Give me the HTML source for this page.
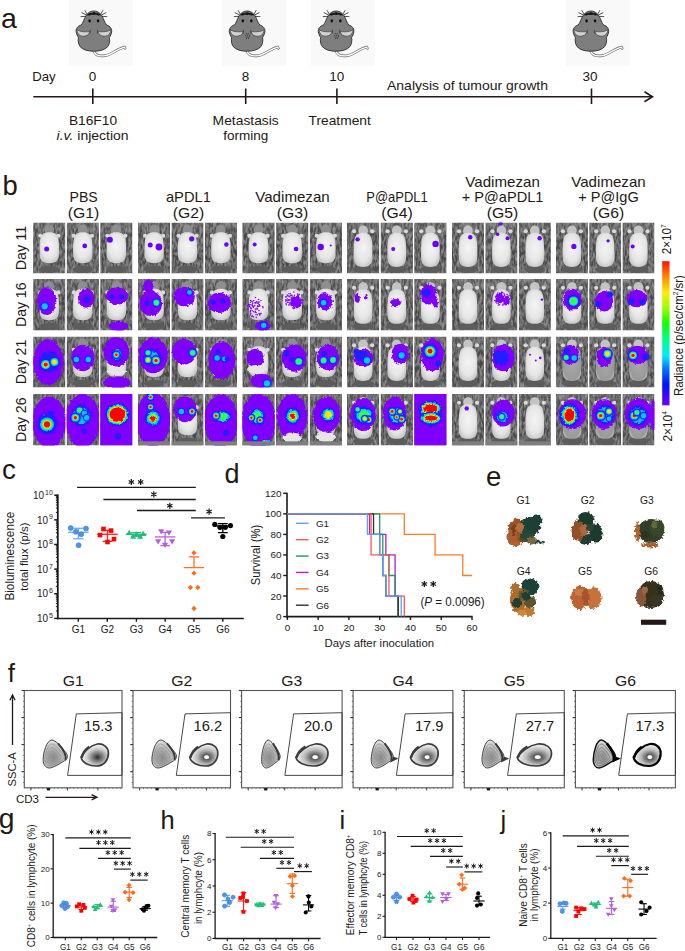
<!DOCTYPE html>
<html><head><meta charset="utf-8"><style>
html,body{margin:0;padding:0;background:#fff;}
svg{display:block;}
text{font-family:"Liberation Sans", sans-serif;}
</style></head><body>
<svg width="685" height="951" viewBox="0 0 685 951">
<defs><g id="mouse"><path d="M24.6,50.2 C26,55.2 30.5,56.6 36.5,55.6 C42.5,54.6 47.5,49.2 55.6,47.1 L56.4,48.3" fill="none" stroke="#6a6a6a" stroke-width="2.6" stroke-linecap="round"/><path d="M24.6,50.2 C26,55.2 30.5,56.6 36.5,55.6 C42.5,54.6 47.5,49.2 55.6,47.1 L56.4,48.3" fill="none" stroke="#ffffff" stroke-width="1.3" stroke-linecap="round"/><line x1="18.4" y1="14.4" x2="16.0" y2="10.2" stroke="#1e1e1e" stroke-width="0.75"/><line x1="17.6" y1="15.0" x2="12.7" y2="12.5" stroke="#1e1e1e" stroke-width="0.75"/><line x1="17.3" y1="16.4" x2="11.8" y2="16.6" stroke="#1e1e1e" stroke-width="0.75"/><line x1="31.8" y1="14.4" x2="34.2" y2="10.2" stroke="#1e1e1e" stroke-width="0.75"/><line x1="32.6" y1="15.0" x2="37.5" y2="12.5" stroke="#1e1e1e" stroke-width="0.75"/><line x1="32.9" y1="16.4" x2="38.4" y2="16.6" stroke="#1e1e1e" stroke-width="0.75"/><path d="M25.1,11 C29.5,11 32.5,14 34.5,18.5 C35.5,21 36.5,23.5 37.8,25 C41.5,26 43.2,29 42.9,31.5 C42.7,34 41.5,36 40.6,37.5 C41.2,40 40.8,44 39,46.5 C36,50 31,51.2 25.1,51.2 C19.2,51.2 14.2,50 11.2,46.5 C9.4,44 9,40 9.6,37.5 C8.7,36 7.5,34 7.3,31.5 C7,29 8.7,26 12.4,25 C13.7,23.5 14.7,21 15.7,18.5 C17.7,14 20.7,11 25.1,11 Z" fill="#7e7e7e" stroke="#1e1e1e" stroke-width="0.8"/><path d="M8.0,29.4 C10,31.6 15,32.2 21.2,31.6 C20.4,34.8 17.2,36.4 13.9,36.2 C10.5,35.9 8.3,33.4 8.0,29.4 Z" fill="#d2d2d2" stroke="#2a2a2a" stroke-width="0.55"/><path d="M42.2,29.4 C40.2,31.6 35.2,32.2 29.0,31.6 C29.8,34.8 33.0,36.4 36.3,36.2 C39.7,35.9 41.9,33.4 42.2,29.4 Z" fill="#d2d2d2" stroke="#2a2a2a" stroke-width="0.55"/><path d="M21.6,29.6 L21.3,33.6 M28.6,29.6 L28.9,33.6" stroke="#2a2a2a" stroke-width="0.55" fill="none"/><path d="M17.6,15.6 C19.5,13.4 22,12.6 25.1,12.6 C28.2,12.6 30.7,13.4 32.6,15.6 C30.2,14.9 28,14.7 25.1,14.7 C22.2,14.7 20,14.9 17.6,15.6 Z" fill="#1a1a1a"/><circle cx="20.6" cy="14.5" r="1.1" fill="#151515"/><circle cx="25.1" cy="13.5" r="1.25" fill="#151515"/><circle cx="29.6" cy="14.5" r="1.1" fill="#151515"/><ellipse cx="20.8" cy="20.8" rx="1.3" ry="1.6" fill="#111"/><ellipse cx="29.3" cy="20.8" rx="1.3" ry="1.6" fill="#111"/></g><g id="moused"><path d="M24.6,50.2 C26,55.2 30.5,56.6 36.5,55.6 C42.5,54.6 47.5,49.2 55.6,47.1 L56.4,48.3" fill="none" stroke="#6a6a6a" stroke-width="2.6" stroke-linecap="round"/><path d="M24.6,50.2 C26,55.2 30.5,56.6 36.5,55.6 C42.5,54.6 47.5,49.2 55.6,47.1 L56.4,48.3" fill="none" stroke="#ffffff" stroke-width="1.3" stroke-linecap="round"/><line x1="18.4" y1="14.4" x2="16.0" y2="10.2" stroke="#1e1e1e" stroke-width="0.75"/><line x1="17.6" y1="15.0" x2="12.7" y2="12.5" stroke="#1e1e1e" stroke-width="0.75"/><line x1="17.3" y1="16.4" x2="11.8" y2="16.6" stroke="#1e1e1e" stroke-width="0.75"/><line x1="31.8" y1="14.4" x2="34.2" y2="10.2" stroke="#1e1e1e" stroke-width="0.75"/><line x1="32.6" y1="15.0" x2="37.5" y2="12.5" stroke="#1e1e1e" stroke-width="0.75"/><line x1="32.9" y1="16.4" x2="38.4" y2="16.6" stroke="#1e1e1e" stroke-width="0.75"/><path d="M25.1,11 C29.5,11 32.5,14 34.5,18.5 C35.5,21 36.5,23.5 37.8,25 C41.5,26 43.2,29 42.9,31.5 C42.7,34 41.5,36 40.6,37.5 C41.2,40 40.8,44 39,46.5 C36,50 31,51.2 25.1,51.2 C19.2,51.2 14.2,50 11.2,46.5 C9.4,44 9,40 9.6,37.5 C8.7,36 7.5,34 7.3,31.5 C7,29 8.7,26 12.4,25 C13.7,23.5 14.7,21 15.7,18.5 C17.7,14 20.7,11 25.1,11 Z" fill="#7e7e7e" stroke="#1e1e1e" stroke-width="0.8"/><path d="M8.0,29.4 C10,31.6 15,32.2 21.2,31.6 C20.4,34.8 17.2,36.4 13.9,36.2 C10.5,35.9 8.3,33.4 8.0,29.4 Z" fill="#d2d2d2" stroke="#2a2a2a" stroke-width="0.55"/><path d="M42.2,29.4 C40.2,31.6 35.2,32.2 29.0,31.6 C29.8,34.8 33.0,36.4 36.3,36.2 C39.7,35.9 41.9,33.4 42.2,29.4 Z" fill="#d2d2d2" stroke="#2a2a2a" stroke-width="0.55"/><path d="M21.6,29.6 L21.3,33.6 M28.6,29.6 L28.9,33.6" stroke="#2a2a2a" stroke-width="0.55" fill="none"/><path d="M17.6,15.6 C19.5,13.4 22,12.6 25.1,12.6 C28.2,12.6 30.7,13.4 32.6,15.6 C30.2,14.9 28,14.7 25.1,14.7 C22.2,14.7 20,14.9 17.6,15.6 Z" fill="#1a1a1a"/><circle cx="20.6" cy="14.5" r="1.1" fill="#151515"/><circle cx="25.1" cy="13.5" r="1.25" fill="#151515"/><circle cx="29.6" cy="14.5" r="1.1" fill="#151515"/><ellipse cx="20.8" cy="20.8" rx="1.3" ry="1.6" fill="#111"/><ellipse cx="29.3" cy="20.8" rx="1.3" ry="1.6" fill="#111"/><circle cx="24.40" cy="33.80" r="0.5" fill="#3a1810"/><circle cx="26.20" cy="33.80" r="0.5" fill="#3a1810"/><circle cx="23.40" cy="35.30" r="0.5" fill="#3a1810"/><circle cx="25.30" cy="35.30" r="0.5" fill="#3a1810"/><circle cx="27.20" cy="35.30" r="0.5" fill="#3a1810"/><circle cx="24.10" cy="36.90" r="0.5" fill="#3a1810"/><circle cx="25.90" cy="36.90" r="0.5" fill="#3a1810"/><circle cx="27.40" cy="36.70" r="0.5" fill="#3a1810"/><circle cx="24.70" cy="38.20" r="0.5" fill="#3a1810"/><circle cx="26.50" cy="38.20" r="0.5" fill="#3a1810"/></g>
<linearGradient id="bgG" x1="0" y1="0" x2="0" y2="1">
 <stop offset="0" stop-color="#5a5a5a"/><stop offset="0.25" stop-color="#494949"/>
 <stop offset="0.7" stop-color="#464646"/><stop offset="1" stop-color="#535353"/></linearGradient>
<radialGradient id="bodyG2" cx="0.5" cy="0.5" r="0.6"><stop offset="0" stop-color="#a8a8a8"/><stop offset="0.8" stop-color="#9a9a9a"/><stop offset="1" stop-color="#c8c8c8"/></radialGradient>
<radialGradient id="bodyG" cx="0.5" cy="0.45" r="0.6">
 <stop offset="0" stop-color="#f4f4f4"/><stop offset="0.65" stop-color="#e6e6e6"/><stop offset="1" stop-color="#c4c4c4"/></radialGradient>
<radialGradient id="hR"><stop offset="0" stop-color="#ff0000"/><stop offset="0.28" stop-color="#ff0800"/><stop offset="0.36" stop-color="#ffe000"/><stop offset="0.44" stop-color="#40ff20"/><stop offset="0.52" stop-color="#00e0ff"/><stop offset="0.62" stop-color="#0050ff"/><stop offset="0.76" stop-color="#2010ff"/><stop offset="1" stop-color="#7f00ff" stop-opacity="0"/></radialGradient>
<radialGradient id="hY"><stop offset="0" stop-color="#ffff00"/><stop offset="0.22" stop-color="#c0ff00"/><stop offset="0.36" stop-color="#30ff40"/><stop offset="0.48" stop-color="#00e0ff"/><stop offset="0.6" stop-color="#0050ff"/><stop offset="0.75" stop-color="#2010ff"/><stop offset="1" stop-color="#7f00ff" stop-opacity="0"/></radialGradient>
<radialGradient id="hG"><stop offset="0" stop-color="#20ff60"/><stop offset="0.28" stop-color="#00ffb0"/><stop offset="0.44" stop-color="#00d0ff"/><stop offset="0.6" stop-color="#0050ff"/><stop offset="0.75" stop-color="#2010ff"/><stop offset="1" stop-color="#7f00ff" stop-opacity="0"/></radialGradient>
<radialGradient id="hC"><stop offset="0" stop-color="#40f0ff"/><stop offset="0.3" stop-color="#00b0ff"/><stop offset="0.55" stop-color="#0040ff"/><stop offset="0.75" stop-color="#2010ff"/><stop offset="1" stop-color="#7f00ff" stop-opacity="0"/></radialGradient>
<radialGradient id="hB"><stop offset="0" stop-color="#1020ff"/><stop offset="0.6" stop-color="#2818ff"/><stop offset="1" stop-color="#7f00ff" stop-opacity="0"/></radialGradient>
<filter id="rough2" x="-30%" y="-30%" width="160%" height="160%"><feTurbulence type="fractalNoise" baseFrequency="0.5" numOctaves="2" seed="5"/><feDisplacementMap in="SourceGraphic" scale="1.8" xChannelSelector="R" yChannelSelector="G"/></filter><filter id="tex" x="0" y="0" width="1" height="1"><feTurbulence type="fractalNoise" baseFrequency="0.45 0.18" numOctaves="2" seed="2" result="n"/><feColorMatrix in="n" type="matrix" values="0 0 0 0 1  0 0 0 0 1  0 0 0 0 1  0.5 0 0 0 -0.17" result="w"/><feComposite in="w" in2="SourceGraphic" operator="in" result="wi"/><feMerge><feMergeNode in="SourceGraphic"/><feMergeNode in="wi"/></feMerge></filter><filter id="soft"><feGaussianBlur stdDeviation="0.5"/></filter><filter id="rough" x="-20%" y="-20%" width="140%" height="140%"><feTurbulence type="fractalNoise" baseFrequency="0.35" numOctaves="2" seed="3"/><feDisplacementMap in="SourceGraphic" scale="3.5" xChannelSelector="R" yChannelSelector="G"/></filter>
<clipPath id="cc000"><rect x="33.10" y="222.50" width="32.33" height="51.00"/></clipPath><clipPath id="cc001"><rect x="66.63" y="222.50" width="32.33" height="51.00"/></clipPath><clipPath id="cc002"><rect x="100.17" y="222.50" width="32.33" height="51.00"/></clipPath><clipPath id="cc010"><rect x="138.00" y="222.50" width="32.20" height="51.00"/></clipPath><clipPath id="cc011"><rect x="171.40" y="222.50" width="32.20" height="51.00"/></clipPath><clipPath id="cc012"><rect x="204.80" y="222.50" width="32.20" height="51.00"/></clipPath><clipPath id="cc020"><rect x="242.30" y="222.50" width="32.47" height="51.00"/></clipPath><clipPath id="cc021"><rect x="275.97" y="222.50" width="32.47" height="51.00"/></clipPath><clipPath id="cc022"><rect x="309.63" y="222.50" width="32.47" height="51.00"/></clipPath><clipPath id="cc030"><rect x="346.90" y="222.50" width="32.43" height="51.00"/></clipPath><clipPath id="cc031"><rect x="380.53" y="222.50" width="32.43" height="51.00"/></clipPath><clipPath id="cc032"><rect x="414.17" y="222.50" width="32.43" height="51.00"/></clipPath><clipPath id="cc040"><rect x="451.90" y="222.50" width="32.20" height="51.00"/></clipPath><clipPath id="cc041"><rect x="485.30" y="222.50" width="32.20" height="51.00"/></clipPath><clipPath id="cc042"><rect x="518.70" y="222.50" width="32.20" height="51.00"/></clipPath><clipPath id="cc050"><rect x="555.90" y="222.50" width="32.07" height="51.00"/></clipPath><clipPath id="cc051"><rect x="589.17" y="222.50" width="32.07" height="51.00"/></clipPath><clipPath id="cc052"><rect x="622.43" y="222.50" width="32.07" height="51.00"/></clipPath><clipPath id="cc100"><rect x="33.10" y="279.00" width="32.33" height="51.50"/></clipPath><clipPath id="cc101"><rect x="66.63" y="279.00" width="32.33" height="51.50"/></clipPath><clipPath id="cc102"><rect x="100.17" y="279.00" width="32.33" height="51.50"/></clipPath><clipPath id="cc110"><rect x="138.00" y="279.00" width="32.20" height="51.50"/></clipPath><clipPath id="cc111"><rect x="171.40" y="279.00" width="32.20" height="51.50"/></clipPath><clipPath id="cc112"><rect x="204.80" y="279.00" width="32.20" height="51.50"/></clipPath><clipPath id="cc120"><rect x="242.30" y="279.00" width="32.47" height="51.50"/></clipPath><clipPath id="cc121"><rect x="275.97" y="279.00" width="32.47" height="51.50"/></clipPath><clipPath id="cc122"><rect x="309.63" y="279.00" width="32.47" height="51.50"/></clipPath><clipPath id="cc130"><rect x="346.90" y="279.00" width="32.43" height="51.50"/></clipPath><clipPath id="cc131"><rect x="380.53" y="279.00" width="32.43" height="51.50"/></clipPath><clipPath id="cc132"><rect x="414.17" y="279.00" width="32.43" height="51.50"/></clipPath><clipPath id="cc140"><rect x="451.90" y="279.00" width="32.20" height="51.50"/></clipPath><clipPath id="cc141"><rect x="485.30" y="279.00" width="32.20" height="51.50"/></clipPath><clipPath id="cc142"><rect x="518.70" y="279.00" width="32.20" height="51.50"/></clipPath><clipPath id="cc150"><rect x="555.90" y="279.00" width="32.07" height="51.50"/></clipPath><clipPath id="cc151"><rect x="589.17" y="279.00" width="32.07" height="51.50"/></clipPath><clipPath id="cc152"><rect x="622.43" y="279.00" width="32.07" height="51.50"/></clipPath><clipPath id="cc200"><rect x="33.10" y="336.50" width="32.33" height="51.00"/></clipPath><clipPath id="cc201"><rect x="66.63" y="336.50" width="32.33" height="51.00"/></clipPath><clipPath id="cc202"><rect x="100.17" y="336.50" width="32.33" height="51.00"/></clipPath><clipPath id="cc210"><rect x="138.00" y="336.50" width="32.20" height="51.00"/></clipPath><clipPath id="cc211"><rect x="171.40" y="336.50" width="32.20" height="51.00"/></clipPath><clipPath id="cc212"><rect x="204.80" y="336.50" width="32.20" height="51.00"/></clipPath><clipPath id="cc220"><rect x="242.30" y="336.50" width="32.47" height="51.00"/></clipPath><clipPath id="cc221"><rect x="275.97" y="336.50" width="32.47" height="51.00"/></clipPath><clipPath id="cc222"><rect x="309.63" y="336.50" width="32.47" height="51.00"/></clipPath><clipPath id="cc230"><rect x="346.90" y="336.50" width="32.43" height="51.00"/></clipPath><clipPath id="cc231"><rect x="380.53" y="336.50" width="32.43" height="51.00"/></clipPath><clipPath id="cc232"><rect x="414.17" y="336.50" width="32.43" height="51.00"/></clipPath><clipPath id="cc240"><rect x="451.90" y="336.50" width="32.20" height="51.00"/></clipPath><clipPath id="cc241"><rect x="485.30" y="336.50" width="32.20" height="51.00"/></clipPath><clipPath id="cc242"><rect x="518.70" y="336.50" width="32.20" height="51.00"/></clipPath><clipPath id="cc250"><rect x="555.90" y="336.50" width="32.07" height="51.00"/></clipPath><clipPath id="cc251"><rect x="589.17" y="336.50" width="32.07" height="51.00"/></clipPath><clipPath id="cc252"><rect x="622.43" y="336.50" width="32.07" height="51.00"/></clipPath><clipPath id="cc300"><rect x="33.10" y="394.00" width="32.33" height="51.50"/></clipPath><clipPath id="cc301"><rect x="66.63" y="394.00" width="32.33" height="51.50"/></clipPath><clipPath id="cc302"><rect x="100.17" y="394.00" width="32.33" height="51.50"/></clipPath><clipPath id="cc310"><rect x="138.00" y="394.00" width="32.20" height="51.50"/></clipPath><clipPath id="cc311"><rect x="171.40" y="394.00" width="32.20" height="51.50"/></clipPath><clipPath id="cc312"><rect x="204.80" y="394.00" width="32.20" height="51.50"/></clipPath><clipPath id="cc320"><rect x="242.30" y="394.00" width="32.47" height="51.50"/></clipPath><clipPath id="cc321"><rect x="275.97" y="394.00" width="32.47" height="51.50"/></clipPath><clipPath id="cc322"><rect x="309.63" y="394.00" width="32.47" height="51.50"/></clipPath><clipPath id="cc330"><rect x="346.90" y="394.00" width="32.43" height="51.50"/></clipPath><clipPath id="cc331"><rect x="380.53" y="394.00" width="32.43" height="51.50"/></clipPath><clipPath id="cc332"><rect x="414.17" y="394.00" width="32.43" height="51.50"/></clipPath><clipPath id="cc340"><rect x="451.90" y="394.00" width="32.20" height="51.50"/></clipPath><clipPath id="cc341"><rect x="485.30" y="394.00" width="32.20" height="51.50"/></clipPath><clipPath id="cc342"><rect x="518.70" y="394.00" width="32.20" height="51.50"/></clipPath><clipPath id="cc350"><rect x="555.90" y="394.00" width="32.07" height="51.50"/></clipPath><clipPath id="cc351"><rect x="589.17" y="394.00" width="32.07" height="51.50"/></clipPath><clipPath id="cc352"><rect x="622.43" y="394.00" width="32.07" height="51.50"/></clipPath><linearGradient id="cbar" x1="0" y1="1" x2="0" y2="0"><stop offset="0" stop-color="#7000ff"/><stop offset="0.14" stop-color="#0010ff"/><stop offset="0.25" stop-color="#0070ff"/><stop offset="0.34" stop-color="#00e8ff"/><stop offset="0.45" stop-color="#00ff90"/><stop offset="0.57" stop-color="#10ff00"/><stop offset="0.68" stop-color="#a0ff00"/><stop offset="0.78" stop-color="#ffee00"/><stop offset="0.9" stop-color="#ff8000"/><stop offset="1" stop-color="#ff1000"/></linearGradient><filter id="org" x="-30%" y="-30%" width="160%" height="160%"><feTurbulence type="fractalNoise" baseFrequency="0.4" numOctaves="2" seed="11"/><feDisplacementMap in="SourceGraphic" scale="4.5" xChannelSelector="R" yChannelSelector="G"/></filter><filter id="orgb"><feGaussianBlur stdDeviation="0.6"/></filter><radialGradient id="lpop" cx="0.42" cy="0.62" r="0.6"><stop offset="0" stop-color="#8a8a8a"/><stop offset="0.6" stop-color="#b8b8b8"/><stop offset="1" stop-color="#e4e4e4"/></radialGradient><radialGradient id="rpop" cx="0.6" cy="0.6" r="0.55"><stop offset="0" stop-color="#2a2a2a"/><stop offset="0.25" stop-color="#6a6a6a"/><stop offset="0.7" stop-color="#cfcfcf"/><stop offset="1" stop-color="#f2f2f2"/></radialGradient><radialGradient id="rpop2" cx="0.6" cy="0.6" r="0.55"><stop offset="0" stop-color="#ffffff"/><stop offset="0.12" stop-color="#ffffff"/><stop offset="0.2" stop-color="#5a5a5a"/><stop offset="0.6" stop-color="#b8b8b8"/><stop offset="1" stop-color="#f0f0f0"/></radialGradient></defs>
<rect width="685" height="951" fill="#fff"/>
<text x="1.00" y="28.00" font-size="28.5" text-anchor="start" fill="#231815" >a</text>
<rect x="68.80" y="0.00" width="64.00" height="66.00" fill="#f9f9f9" />
<use href="#mouse" x="68.80" y="0"/>
<rect x="222.00" y="0.00" width="64.00" height="66.00" fill="#f9f9f9" />
<use href="#moused" x="222.00" y="0"/>
<rect x="311.00" y="0.00" width="64.00" height="66.00" fill="#f9f9f9" />
<use href="#moused" x="311.00" y="0"/>
<rect x="565.80" y="0.00" width="64.00" height="66.00" fill="#f9f9f9" />
<use href="#mouse" x="565.80" y="0"/>
<line x1="33.30" y1="96.80" x2="651.00" y2="96.80" stroke="#231815" stroke-width="1.6" />
<path d="M644.5,91.8 L652.5,96.8 L644.5,101.8" fill="none" stroke="#231815" stroke-width="1.6" />
<line x1="92.80" y1="88.50" x2="92.80" y2="104.00" stroke="#231815" stroke-width="1.6" />
<line x1="245.70" y1="88.50" x2="245.70" y2="104.00" stroke="#231815" stroke-width="1.6" />
<line x1="336.90" y1="88.50" x2="336.90" y2="104.00" stroke="#231815" stroke-width="1.6" />
<line x1="591.50" y1="88.50" x2="591.50" y2="104.00" stroke="#231815" stroke-width="1.6" />
<text x="32.20" y="80.70" font-size="13.5" text-anchor="start" fill="#231815" textLength="23.50" lengthAdjust="spacingAndGlyphs" >Day</text>
<text x="92.60" y="80.70" font-size="13.5" text-anchor="middle" fill="#231815" >0</text>
<text x="245.60" y="80.70" font-size="13.5" text-anchor="middle" fill="#231815" >8</text>
<text x="336.80" y="80.70" font-size="13.5" text-anchor="middle" fill="#231815" >10</text>
<text x="590.00" y="80.70" font-size="13.5" text-anchor="middle" fill="#231815" >30</text>
<text x="467.50" y="90.00" font-size="13.5" text-anchor="middle" fill="#231815" textLength="161.00" lengthAdjust="spacingAndGlyphs" >Analysis of tumour growth</text>
<text x="93.00" y="124.60" font-size="13.5" text-anchor="middle" fill="#231815" textLength="48.10" lengthAdjust="spacingAndGlyphs" >B16F10</text>
<text x="92.6" y="139.8" font-size="13.5" text-anchor="middle" fill="#231815" textLength="72" lengthAdjust="spacingAndGlyphs"><tspan font-style="italic">i.v.</tspan> injection</text>
<text x="245.70" y="124.80" font-size="13.5" text-anchor="middle" fill="#231815" textLength="66.20" lengthAdjust="spacingAndGlyphs" >Metastasis</text>
<text x="245.70" y="139.80" font-size="13.5" text-anchor="middle" fill="#231815" >forming</text>
<text x="339.70" y="124.80" font-size="13.5" text-anchor="middle" fill="#231815" textLength="62.30" lengthAdjust="spacingAndGlyphs" >Treatment</text>
<text x="2.40" y="194.90" font-size="27.4" text-anchor="start" fill="#231815" >b</text>
<g id="panelb">
<g clip-path="url(#cc000)">
<rect x="33.10" y="222.50" width="32.33" height="51.00" fill="url(#bgG)" filter="url(#tex)"/>
<ellipse cx="49.27" cy="269.42" rx="10.35" ry="3.57" fill="#5c5c5c" filter="url(#soft)"/>
<ellipse cx="49.27" cy="229.64" rx="4.85" ry="5.10" fill="#8e8e8e" filter="url(#soft)"/>
<path d="M49.27,232.19 C53.79,232.19 57.03,233.72 58.00,237.80 C59.29,242.90 58.97,249.02 58.97,254.12 C58.97,260.24 56.38,263.30 49.27,263.30 C42.15,263.30 39.57,260.24 39.57,254.12 C39.57,249.02 39.24,242.90 40.54,237.80 C41.51,233.72 44.74,232.19 49.27,232.19 Z" fill="url(#bodyG)" stroke="none" stroke-width="1" filter="url(#soft)"/>
<ellipse cx="40.21" cy="235.76" rx="2.10" ry="2.04" fill="#dadada" filter="url(#soft)"/>
<ellipse cx="58.32" cy="235.76" rx="2.10" ry="2.04" fill="#dadada" filter="url(#soft)"/>
<ellipse cx="46.68" cy="249.02" rx="2.50" ry="2.50" fill="#6a00ff" />
</g>
<g clip-path="url(#cc001)">
<rect x="66.63" y="222.50" width="32.33" height="51.00" fill="url(#bgG)" filter="url(#tex)"/>
<ellipse cx="82.80" cy="269.42" rx="10.35" ry="3.57" fill="#5c5c5c" filter="url(#soft)"/>
<ellipse cx="82.80" cy="229.64" rx="4.85" ry="5.10" fill="#8e8e8e" filter="url(#soft)"/>
<path d="M82.80,232.19 C87.33,232.19 90.56,233.72 91.53,237.80 C92.82,242.90 92.50,249.02 92.50,254.12 C92.50,260.24 89.91,263.30 82.80,263.30 C75.69,263.30 73.10,260.24 73.10,254.12 C73.10,249.02 72.78,242.90 74.07,237.80 C75.04,233.72 78.27,232.19 82.80,232.19 Z" fill="url(#bodyG)" stroke="none" stroke-width="1" filter="url(#soft)"/>
<ellipse cx="73.75" cy="235.76" rx="2.10" ry="2.04" fill="#dadada" filter="url(#soft)"/>
<ellipse cx="91.85" cy="235.76" rx="2.10" ry="2.04" fill="#dadada" filter="url(#soft)"/>
<ellipse cx="84.74" cy="245.96" rx="2.40" ry="2.40" fill="#6a00ff" />
</g>
<g clip-path="url(#cc002)">
<rect x="100.17" y="222.50" width="32.33" height="51.00" fill="url(#bgG)" filter="url(#tex)"/>
<ellipse cx="116.33" cy="269.42" rx="10.35" ry="3.57" fill="#5c5c5c" filter="url(#soft)"/>
<ellipse cx="116.33" cy="229.64" rx="4.85" ry="5.10" fill="#8e8e8e" filter="url(#soft)"/>
<path d="M116.33,232.19 C120.86,232.19 124.09,233.72 125.06,237.80 C126.36,242.90 126.03,249.02 126.03,254.12 C126.03,260.24 123.45,263.30 116.33,263.30 C109.22,263.30 106.63,260.24 106.63,254.12 C106.63,249.02 106.31,242.90 107.60,237.80 C108.57,233.72 111.81,232.19 116.33,232.19 Z" fill="url(#bodyG)" stroke="none" stroke-width="1" filter="url(#soft)"/>
<ellipse cx="107.28" cy="235.76" rx="2.10" ry="2.04" fill="#dadada" filter="url(#soft)"/>
<ellipse cx="125.39" cy="235.76" rx="2.10" ry="2.04" fill="#dadada" filter="url(#soft)"/>
<ellipse cx="109.87" cy="239.84" rx="3.00" ry="3.00" fill="#6a00ff" />
</g>
<g clip-path="url(#cc010)">
<rect x="138.00" y="222.50" width="32.20" height="51.00" fill="url(#bgG)" filter="url(#tex)"/>
<ellipse cx="154.10" cy="269.42" rx="10.30" ry="3.57" fill="#5c5c5c" filter="url(#soft)"/>
<ellipse cx="154.10" cy="229.64" rx="4.83" ry="5.10" fill="#8e8e8e" filter="url(#soft)"/>
<path d="M154.10,232.19 C158.61,232.19 161.83,233.72 162.79,237.80 C164.08,242.90 163.76,249.02 163.76,254.12 C163.76,260.24 161.18,263.30 154.10,263.30 C147.02,263.30 144.44,260.24 144.44,254.12 C144.44,249.02 144.12,242.90 145.41,237.80 C146.37,233.72 149.59,232.19 154.10,232.19 Z" fill="url(#bodyG)" stroke="none" stroke-width="1" filter="url(#soft)"/>
<ellipse cx="145.08" cy="235.76" rx="2.09" ry="2.04" fill="#dadada" filter="url(#soft)"/>
<ellipse cx="163.12" cy="235.76" rx="2.09" ry="2.04" fill="#dadada" filter="url(#soft)"/>
<ellipse cx="150.24" cy="244.94" rx="2.50" ry="2.50" fill="#6a00ff" />
<ellipse cx="158.93" cy="246.98" rx="3.40" ry="3.40" fill="#6a00ff" />
</g>
<g clip-path="url(#cc011)">
<rect x="171.40" y="222.50" width="32.20" height="51.00" fill="url(#bgG)" filter="url(#tex)"/>
<ellipse cx="187.50" cy="269.42" rx="10.30" ry="3.57" fill="#5c5c5c" filter="url(#soft)"/>
<ellipse cx="187.50" cy="229.64" rx="4.83" ry="5.10" fill="#8e8e8e" filter="url(#soft)"/>
<path d="M187.50,232.19 C192.01,232.19 195.23,233.72 196.19,237.80 C197.48,242.90 197.16,249.02 197.16,254.12 C197.16,260.24 194.58,263.30 187.50,263.30 C180.42,263.30 177.84,260.24 177.84,254.12 C177.84,249.02 177.52,242.90 178.81,237.80 C179.77,233.72 182.99,232.19 187.50,232.19 Z" fill="url(#bodyG)" stroke="none" stroke-width="1" filter="url(#soft)"/>
<ellipse cx="178.48" cy="235.76" rx="2.09" ry="2.04" fill="#dadada" filter="url(#soft)"/>
<ellipse cx="196.52" cy="235.76" rx="2.09" ry="2.04" fill="#dadada" filter="url(#soft)"/>
<ellipse cx="191.69" cy="238.82" rx="2.60" ry="2.60" fill="#6a00ff" />
</g>
<g clip-path="url(#cc012)">
<rect x="204.80" y="222.50" width="32.20" height="51.00" fill="url(#bgG)" filter="url(#tex)"/>
<ellipse cx="220.90" cy="269.42" rx="10.30" ry="3.57" fill="#5c5c5c" filter="url(#soft)"/>
<ellipse cx="220.90" cy="229.64" rx="4.83" ry="5.10" fill="#8e8e8e" filter="url(#soft)"/>
<path d="M220.90,232.19 C225.41,232.19 228.63,233.72 229.59,237.80 C230.88,242.90 230.56,249.02 230.56,254.12 C230.56,260.24 227.98,263.30 220.90,263.30 C213.82,263.30 211.24,260.24 211.24,254.12 C211.24,249.02 210.92,242.90 212.21,237.80 C213.17,233.72 216.39,232.19 220.90,232.19 Z" fill="url(#bodyG)" stroke="none" stroke-width="1" filter="url(#soft)"/>
<ellipse cx="211.88" cy="235.76" rx="2.09" ry="2.04" fill="#dadada" filter="url(#soft)"/>
<ellipse cx="229.92" cy="235.76" rx="2.09" ry="2.04" fill="#dadada" filter="url(#soft)"/>
<ellipse cx="226.37" cy="244.43" rx="2.20" ry="2.20" fill="#6a00ff" />
</g>
<g clip-path="url(#cc020)">
<rect x="242.30" y="222.50" width="32.47" height="51.00" fill="url(#bgG)" filter="url(#tex)"/>
<ellipse cx="258.53" cy="269.42" rx="10.39" ry="3.57" fill="#5c5c5c" filter="url(#soft)"/>
<ellipse cx="258.53" cy="229.64" rx="4.87" ry="5.10" fill="#8e8e8e" filter="url(#soft)"/>
<path d="M258.53,232.19 C263.08,232.19 266.33,233.72 267.30,237.80 C268.60,242.90 268.27,249.02 268.27,254.12 C268.27,260.24 265.68,263.30 258.53,263.30 C251.39,263.30 248.79,260.24 248.79,254.12 C248.79,249.02 248.47,242.90 249.77,237.80 C250.74,233.72 253.99,232.19 258.53,232.19 Z" fill="url(#bodyG)" stroke="none" stroke-width="1" filter="url(#soft)"/>
<ellipse cx="249.44" cy="235.76" rx="2.11" ry="2.04" fill="#dadada" filter="url(#soft)"/>
<ellipse cx="267.62" cy="235.76" rx="2.11" ry="2.04" fill="#dadada" filter="url(#soft)"/>
<ellipse cx="254.64" cy="244.43" rx="2.00" ry="2.00" fill="#6a00ff" />
</g>
<g clip-path="url(#cc021)">
<rect x="275.97" y="222.50" width="32.47" height="51.00" fill="url(#bgG)" filter="url(#tex)"/>
<ellipse cx="292.20" cy="269.42" rx="10.39" ry="3.57" fill="#5c5c5c" filter="url(#soft)"/>
<ellipse cx="292.20" cy="229.64" rx="4.87" ry="5.10" fill="#8e8e8e" filter="url(#soft)"/>
<path d="M292.20,232.19 C296.75,232.19 299.99,233.72 300.97,237.80 C302.26,242.90 301.94,249.02 301.94,254.12 C301.94,260.24 299.34,263.30 292.20,263.30 C285.06,263.30 282.46,260.24 282.46,254.12 C282.46,249.02 282.14,242.90 283.43,237.80 C284.41,233.72 287.65,232.19 292.20,232.19 Z" fill="url(#bodyG)" stroke="none" stroke-width="1" filter="url(#soft)"/>
<ellipse cx="283.11" cy="235.76" rx="2.11" ry="2.04" fill="#dadada" filter="url(#soft)"/>
<ellipse cx="301.29" cy="235.76" rx="2.11" ry="2.04" fill="#dadada" filter="url(#soft)"/>
<ellipse cx="296.10" cy="249.02" rx="2.30" ry="2.30" fill="#6a00ff" />
</g>
<g clip-path="url(#cc022)">
<rect x="309.63" y="222.50" width="32.47" height="51.00" fill="url(#bgG)" filter="url(#tex)"/>
<ellipse cx="325.87" cy="269.42" rx="10.39" ry="3.57" fill="#5c5c5c" filter="url(#soft)"/>
<ellipse cx="325.87" cy="229.64" rx="4.87" ry="5.10" fill="#8e8e8e" filter="url(#soft)"/>
<path d="M325.87,232.19 C330.41,232.19 333.66,233.72 334.63,237.80 C335.93,242.90 335.61,249.02 335.61,254.12 C335.61,260.24 333.01,263.30 325.87,263.30 C318.72,263.30 316.13,260.24 316.13,254.12 C316.13,249.02 315.80,242.90 317.10,237.80 C318.07,233.72 321.32,232.19 325.87,232.19 Z" fill="url(#bodyG)" stroke="none" stroke-width="1" filter="url(#soft)"/>
<ellipse cx="316.78" cy="235.76" rx="2.11" ry="2.04" fill="#dadada" filter="url(#soft)"/>
<ellipse cx="334.96" cy="235.76" rx="2.11" ry="2.04" fill="#dadada" filter="url(#soft)"/>
<ellipse cx="320.67" cy="246.98" rx="3.20" ry="3.20" fill="#6a00ff" />
<ellipse cx="330.74" cy="245.45" rx="1.00" ry="1.00" fill="#6a00ff" />
</g>
<g clip-path="url(#cc030)">
<rect x="346.90" y="222.50" width="32.43" height="51.00" fill="url(#bgG)" filter="url(#tex)"/>
<ellipse cx="363.12" cy="269.42" rx="10.38" ry="3.57" fill="#5c5c5c" filter="url(#soft)"/>
<ellipse cx="363.12" cy="230.66" rx="4.87" ry="5.10" fill="#c4c4c4" filter="url(#soft)"/>
<path d="M363.12,232.70 C367.48,232.70 370.59,234.38 371.52,238.87 C372.77,244.48 372.46,251.21 372.46,256.82 C372.46,263.56 369.97,266.92 363.12,266.92 C356.27,266.92 353.78,263.56 353.78,256.82 C353.78,251.21 353.46,244.48 354.71,238.87 C355.64,234.38 358.76,232.70 363.12,232.70 Z" fill="url(#bodyG)" stroke="none" stroke-width="1" filter="url(#soft)"/>
<ellipse cx="354.04" cy="231.17" rx="2.11" ry="2.04" fill="#dadada" filter="url(#soft)"/>
<ellipse cx="372.20" cy="231.17" rx="2.11" ry="2.04" fill="#dadada" filter="url(#soft)"/>
<ellipse cx="357.60" cy="239.33" rx="2.20" ry="2.20" fill="#6a00ff" />
</g>
<g clip-path="url(#cc031)">
<rect x="380.53" y="222.50" width="32.43" height="51.00" fill="url(#bgG)" filter="url(#tex)"/>
<ellipse cx="396.75" cy="269.42" rx="10.38" ry="3.57" fill="#5c5c5c" filter="url(#soft)"/>
<ellipse cx="396.75" cy="230.66" rx="4.87" ry="5.10" fill="#c4c4c4" filter="url(#soft)"/>
<path d="M396.75,232.70 C401.11,232.70 404.22,234.38 405.16,238.87 C406.40,244.48 406.09,251.21 406.09,256.82 C406.09,263.56 403.60,266.92 396.75,266.92 C389.90,266.92 387.41,263.56 387.41,256.82 C387.41,251.21 387.10,244.48 388.34,238.87 C389.28,234.38 392.39,232.70 396.75,232.70 Z" fill="url(#bodyG)" stroke="none" stroke-width="1" filter="url(#soft)"/>
<ellipse cx="387.67" cy="231.17" rx="2.11" ry="2.04" fill="#dadada" filter="url(#soft)"/>
<ellipse cx="405.83" cy="231.17" rx="2.11" ry="2.04" fill="#dadada" filter="url(#soft)"/>
<ellipse cx="393.18" cy="249.02" rx="2.00" ry="2.00" fill="#6a00ff" />
</g>
<g clip-path="url(#cc032)">
<rect x="414.17" y="222.50" width="32.43" height="51.00" fill="url(#bgG)" filter="url(#tex)"/>
<ellipse cx="430.38" cy="269.42" rx="10.38" ry="3.57" fill="#5c5c5c" filter="url(#soft)"/>
<ellipse cx="430.38" cy="230.66" rx="4.87" ry="5.10" fill="#c4c4c4" filter="url(#soft)"/>
<path d="M430.38,232.70 C434.74,232.70 437.86,234.38 438.79,238.87 C440.04,244.48 439.72,251.21 439.72,256.82 C439.72,263.56 437.23,266.92 430.38,266.92 C423.53,266.92 421.04,263.56 421.04,256.82 C421.04,251.21 420.73,244.48 421.98,238.87 C422.91,234.38 426.02,232.70 430.38,232.70 Z" fill="url(#bodyG)" stroke="none" stroke-width="1" filter="url(#soft)"/>
<ellipse cx="421.30" cy="231.17" rx="2.11" ry="2.04" fill="#dadada" filter="url(#soft)"/>
<ellipse cx="439.46" cy="231.17" rx="2.11" ry="2.04" fill="#dadada" filter="url(#soft)"/>
<ellipse cx="435.57" cy="243.92" rx="3.20" ry="3.20" fill="#6a00ff" />
</g>
<g clip-path="url(#cc040)">
<rect x="451.90" y="222.50" width="32.20" height="51.00" fill="url(#bgG)" filter="url(#tex)"/>
<ellipse cx="468.00" cy="269.42" rx="10.30" ry="3.57" fill="#5c5c5c" filter="url(#soft)"/>
<ellipse cx="468.00" cy="230.66" rx="4.83" ry="5.10" fill="#c4c4c4" filter="url(#soft)"/>
<path d="M468.00,232.70 C472.33,232.70 475.42,234.38 476.35,238.87 C477.58,244.48 477.27,251.21 477.27,256.82 C477.27,263.56 474.80,266.92 468.00,266.92 C461.20,266.92 458.73,263.56 458.73,256.82 C458.73,251.21 458.42,244.48 459.65,238.87 C460.58,234.38 463.67,232.70 468.00,232.70 Z" fill="url(#bodyG)" stroke="none" stroke-width="1" filter="url(#soft)"/>
<ellipse cx="458.98" cy="231.17" rx="2.09" ry="2.04" fill="#dadada" filter="url(#soft)"/>
<ellipse cx="477.02" cy="231.17" rx="2.09" ry="2.04" fill="#dadada" filter="url(#soft)"/>
<ellipse cx="470.25" cy="237.29" rx="2.20" ry="2.20" fill="#6a00ff" />
</g>
<g clip-path="url(#cc041)">
<rect x="485.30" y="222.50" width="32.20" height="51.00" fill="url(#bgG)" filter="url(#tex)"/>
<ellipse cx="501.40" cy="269.42" rx="10.30" ry="3.57" fill="#5c5c5c" filter="url(#soft)"/>
<ellipse cx="501.40" cy="230.66" rx="4.83" ry="5.10" fill="#c4c4c4" filter="url(#soft)"/>
<path d="M501.40,232.70 C505.73,232.70 508.82,234.38 509.75,238.87 C510.98,244.48 510.67,251.21 510.67,256.82 C510.67,263.56 508.20,266.92 501.40,266.92 C494.60,266.92 492.13,263.56 492.13,256.82 C492.13,251.21 491.82,244.48 493.05,238.87 C493.98,234.38 497.07,232.70 501.40,232.70 Z" fill="url(#bodyG)" stroke="none" stroke-width="1" filter="url(#soft)"/>
<ellipse cx="492.38" cy="231.17" rx="2.09" ry="2.04" fill="#dadada" filter="url(#soft)"/>
<ellipse cx="510.42" cy="231.17" rx="2.09" ry="2.04" fill="#dadada" filter="url(#soft)"/>
<ellipse cx="497.54" cy="234.23" rx="1.80" ry="1.80" fill="#6a00ff" />
<ellipse cx="507.52" cy="238.31" rx="2.00" ry="2.00" fill="#6a00ff" />
<ellipse cx="500.76" cy="223.52" rx="2.00" ry="2.00" fill="#6a00ff" />
</g>
<g clip-path="url(#cc042)">
<rect x="518.70" y="222.50" width="32.20" height="51.00" fill="url(#bgG)" filter="url(#tex)"/>
<ellipse cx="534.80" cy="269.42" rx="10.30" ry="3.57" fill="#5c5c5c" filter="url(#soft)"/>
<ellipse cx="534.80" cy="230.66" rx="4.83" ry="5.10" fill="#c4c4c4" filter="url(#soft)"/>
<path d="M534.80,232.70 C539.13,232.70 542.22,234.38 543.15,238.87 C544.38,244.48 544.07,251.21 544.07,256.82 C544.07,263.56 541.60,266.92 534.80,266.92 C528.00,266.92 525.53,263.56 525.53,256.82 C525.53,251.21 525.22,244.48 526.45,238.87 C527.38,234.38 530.47,232.70 534.80,232.70 Z" fill="url(#bodyG)" stroke="none" stroke-width="1" filter="url(#soft)"/>
<ellipse cx="525.78" cy="231.17" rx="2.09" ry="2.04" fill="#dadada" filter="url(#soft)"/>
<ellipse cx="543.82" cy="231.17" rx="2.09" ry="2.04" fill="#dadada" filter="url(#soft)"/>
<ellipse cx="539.63" cy="238.31" rx="2.20" ry="2.20" fill="#6a00ff" />
</g>
<g clip-path="url(#cc050)">
<rect x="555.90" y="222.50" width="32.07" height="51.00" fill="url(#bgG)" filter="url(#tex)"/>
<ellipse cx="571.93" cy="269.42" rx="10.26" ry="3.57" fill="#5c5c5c" filter="url(#soft)"/>
<ellipse cx="571.93" cy="230.66" rx="4.81" ry="5.10" fill="#c4c4c4" filter="url(#soft)"/>
<path d="M571.93,232.70 C576.24,232.70 579.32,234.38 580.25,238.87 C581.48,244.48 581.17,251.21 581.17,256.82 C581.17,263.56 578.71,266.92 571.93,266.92 C565.16,266.92 562.70,263.56 562.70,256.82 C562.70,251.21 562.39,244.48 563.62,238.87 C564.55,234.38 567.62,232.70 571.93,232.70 Z" fill="url(#bodyG)" stroke="none" stroke-width="1" filter="url(#soft)"/>
<ellipse cx="562.95" cy="231.17" rx="2.08" ry="2.04" fill="#dadada" filter="url(#soft)"/>
<ellipse cx="580.91" cy="231.17" rx="2.08" ry="2.04" fill="#dadada" filter="url(#soft)"/>
<ellipse cx="573.86" cy="246.47" rx="2.60" ry="2.60" fill="#6a00ff" />
</g>
<g clip-path="url(#cc051)">
<rect x="589.17" y="222.50" width="32.07" height="51.00" fill="url(#bgG)" filter="url(#tex)"/>
<ellipse cx="605.20" cy="269.42" rx="10.26" ry="3.57" fill="#5c5c5c" filter="url(#soft)"/>
<ellipse cx="605.20" cy="230.66" rx="4.81" ry="5.10" fill="#c4c4c4" filter="url(#soft)"/>
<path d="M605.20,232.70 C609.51,232.70 612.59,234.38 613.51,238.87 C614.74,244.48 614.44,251.21 614.44,256.82 C614.44,263.56 611.97,266.92 605.20,266.92 C598.43,266.92 595.96,263.56 595.96,256.82 C595.96,251.21 595.66,244.48 596.89,238.87 C597.81,234.38 600.89,232.70 605.20,232.70 Z" fill="url(#bodyG)" stroke="none" stroke-width="1" filter="url(#soft)"/>
<ellipse cx="596.22" cy="231.17" rx="2.08" ry="2.04" fill="#dadada" filter="url(#soft)"/>
<ellipse cx="614.18" cy="231.17" rx="2.08" ry="2.04" fill="#dadada" filter="url(#soft)"/>
<ellipse cx="608.09" cy="240.86" rx="1.70" ry="1.70" fill="#6a00ff" />
</g>
<g clip-path="url(#cc052)">
<rect x="622.43" y="222.50" width="32.07" height="51.00" fill="url(#bgG)" filter="url(#tex)"/>
<ellipse cx="638.47" cy="269.42" rx="10.26" ry="3.57" fill="#5c5c5c" filter="url(#soft)"/>
<ellipse cx="638.47" cy="230.66" rx="4.81" ry="5.10" fill="#c4c4c4" filter="url(#soft)"/>
<path d="M638.47,232.70 C642.78,232.70 645.85,234.38 646.78,238.87 C648.01,244.48 647.70,251.21 647.70,256.82 C647.70,263.56 645.24,266.92 638.47,266.92 C631.69,266.92 629.23,263.56 629.23,256.82 C629.23,251.21 628.92,244.48 630.15,238.87 C631.08,234.38 634.16,232.70 638.47,232.70 Z" fill="url(#bodyG)" stroke="none" stroke-width="1" filter="url(#soft)"/>
<ellipse cx="629.49" cy="231.17" rx="2.08" ry="2.04" fill="#dadada" filter="url(#soft)"/>
<ellipse cx="647.45" cy="231.17" rx="2.08" ry="2.04" fill="#dadada" filter="url(#soft)"/>
<ellipse cx="632.69" cy="246.47" rx="2.00" ry="2.00" fill="#6a00ff" />
</g>
<g clip-path="url(#cc100)">
<rect x="33.10" y="279.00" width="32.33" height="51.50" fill="url(#bgG)" filter="url(#tex)"/>
<ellipse cx="49.27" cy="326.38" rx="10.35" ry="3.61" fill="#5c5c5c" filter="url(#soft)"/>
<ellipse cx="49.27" cy="286.21" rx="4.85" ry="5.15" fill="#8e8e8e" filter="url(#soft)"/>
<path d="M49.27,288.79 C53.79,288.79 57.03,290.33 58.00,294.45 C59.29,299.60 58.97,305.78 58.97,310.93 C58.97,317.11 56.38,320.20 49.27,320.20 C42.15,320.20 39.57,317.11 39.57,310.93 C39.57,305.78 39.24,299.60 40.54,294.45 C41.51,290.33 44.74,288.79 49.27,288.79 Z" fill="url(#bodyG)" stroke="none" stroke-width="1" filter="url(#soft)"/>
<ellipse cx="40.21" cy="292.39" rx="2.10" ry="2.06" fill="#dadada" filter="url(#soft)"/>
<ellipse cx="58.32" cy="292.39" rx="2.10" ry="2.06" fill="#dadada" filter="url(#soft)"/>
<ellipse cx="46.68" cy="301.14" rx="9.70" ry="13.91" fill="#7f00ff" filter="url(#rough)"/>
<g filter="url(#rough2)">
<ellipse cx="44.74" cy="306.30" rx="5.25" ry="5.25" fill="url(#hB)" />
<ellipse cx="44.74" cy="306.30" rx="4.20" ry="4.20" fill="#1a22ff" />
<ellipse cx="44.74" cy="306.30" rx="3.11" ry="3.11" fill="#00c8ff" />
</g>
</g>
<g clip-path="url(#cc101)">
<rect x="66.63" y="279.00" width="32.33" height="51.50" fill="url(#bgG)" filter="url(#tex)"/>
<ellipse cx="82.80" cy="326.38" rx="10.35" ry="3.61" fill="#5c5c5c" filter="url(#soft)"/>
<ellipse cx="82.80" cy="286.21" rx="4.85" ry="5.15" fill="#8e8e8e" filter="url(#soft)"/>
<path d="M82.80,288.79 C87.33,288.79 90.56,290.33 91.53,294.45 C92.82,299.60 92.50,305.78 92.50,310.93 C92.50,317.11 89.91,320.20 82.80,320.20 C75.69,320.20 73.10,317.11 73.10,310.93 C73.10,305.78 72.78,299.60 74.07,294.45 C75.04,290.33 78.27,288.79 82.80,288.79 Z" fill="url(#bodyG)" stroke="none" stroke-width="1" filter="url(#soft)"/>
<ellipse cx="73.75" cy="292.39" rx="2.10" ry="2.06" fill="#dadada" filter="url(#soft)"/>
<ellipse cx="91.85" cy="292.39" rx="2.10" ry="2.06" fill="#dadada" filter="url(#soft)"/>
<ellipse cx="86.03" cy="298.06" rx="8.08" ry="9.79" fill="#7f00ff" filter="url(#rough)"/>
<g filter="url(#rough2)">
<ellipse cx="86.68" cy="299.60" rx="3.94" ry="3.94" fill="url(#hB)" />
<ellipse cx="86.68" cy="299.60" rx="2.52" ry="2.52" fill="#1a22ff" />
</g>
</g>
<g clip-path="url(#cc102)">
<rect x="100.17" y="279.00" width="32.33" height="51.50" fill="url(#bgG)" filter="url(#tex)"/>
<ellipse cx="116.33" cy="326.38" rx="10.35" ry="3.61" fill="#5c5c5c" filter="url(#soft)"/>
<ellipse cx="116.33" cy="286.21" rx="4.85" ry="5.15" fill="#8e8e8e" filter="url(#soft)"/>
<path d="M116.33,288.79 C120.86,288.79 124.09,290.33 125.06,294.45 C126.36,299.60 126.03,305.78 126.03,310.93 C126.03,317.11 123.45,320.20 116.33,320.20 C109.22,320.20 106.63,317.11 106.63,310.93 C106.63,305.78 106.31,299.60 107.60,294.45 C108.57,290.33 111.81,288.79 116.33,288.79 Z" fill="url(#bodyG)" stroke="none" stroke-width="1" filter="url(#soft)"/>
<ellipse cx="107.28" cy="292.39" rx="2.10" ry="2.06" fill="#dadada" filter="url(#soft)"/>
<ellipse cx="125.39" cy="292.39" rx="2.10" ry="2.06" fill="#dadada" filter="url(#soft)"/>
<ellipse cx="116.98" cy="296.00" rx="10.99" ry="8.76" fill="#7f00ff" filter="url(#rough)"/>
<g filter="url(#rough2)">
<ellipse cx="111.81" cy="297.02" rx="3.28" ry="3.28" fill="url(#hB)" />
<ellipse cx="111.81" cy="297.02" rx="2.10" ry="2.10" fill="#1a22ff" />
</g>
<g filter="url(#rough2)">
<ellipse cx="121.83" cy="297.02" rx="3.28" ry="3.28" fill="url(#hB)" />
<ellipse cx="121.83" cy="297.02" rx="2.10" ry="2.10" fill="#1a22ff" />
</g>
<ellipse cx="118.60" cy="326.38" rx="9.70" ry="4.63" fill="#7f00ff" filter="url(#rough)"/>
</g>
<g clip-path="url(#cc110)">
<rect x="138.00" y="279.00" width="32.20" height="51.50" fill="url(#bgG)" filter="url(#tex)"/>
<ellipse cx="154.10" cy="326.38" rx="10.30" ry="3.61" fill="#5c5c5c" filter="url(#soft)"/>
<ellipse cx="154.10" cy="286.21" rx="4.83" ry="5.15" fill="#8e8e8e" filter="url(#soft)"/>
<path d="M154.10,288.79 C158.61,288.79 161.83,290.33 162.79,294.45 C164.08,299.60 163.76,305.78 163.76,310.93 C163.76,317.11 161.18,320.20 154.10,320.20 C147.02,320.20 144.44,317.11 144.44,310.93 C144.44,305.78 144.12,299.60 145.41,294.45 C146.37,290.33 149.59,288.79 154.10,288.79 Z" fill="url(#bodyG)" stroke="none" stroke-width="1" filter="url(#soft)"/>
<ellipse cx="145.08" cy="292.39" rx="2.09" ry="2.06" fill="#dadada" filter="url(#soft)"/>
<ellipse cx="163.12" cy="292.39" rx="2.09" ry="2.06" fill="#dadada" filter="url(#soft)"/>
<ellipse cx="150.88" cy="303.20" rx="11.27" ry="12.88" fill="#7f00ff" filter="url(#rough)"/>
<ellipse cx="148.30" cy="286.21" rx="4.83" ry="6.70" fill="#7f00ff" filter="url(#rough)"/>
<g filter="url(#rough2)">
<ellipse cx="147.34" cy="303.20" rx="3.28" ry="3.28" fill="url(#hB)" />
<ellipse cx="147.34" cy="303.20" rx="2.10" ry="2.10" fill="#1a22ff" />
</g>
<g filter="url(#rough2)">
<ellipse cx="156.35" cy="302.69" rx="5.25" ry="5.25" fill="url(#hB)" />
<ellipse cx="156.35" cy="302.69" rx="4.20" ry="4.20" fill="#1a22ff" />
<ellipse cx="156.35" cy="302.69" rx="3.11" ry="3.11" fill="#00c8ff" />
<ellipse cx="156.35" cy="302.69" rx="2.44" ry="2.44" fill="#30ff50" />
</g>
</g>
<g clip-path="url(#cc111)">
<rect x="171.40" y="279.00" width="32.20" height="51.50" fill="url(#bgG)" filter="url(#tex)"/>
<ellipse cx="187.50" cy="326.38" rx="10.30" ry="3.61" fill="#5c5c5c" filter="url(#soft)"/>
<ellipse cx="187.50" cy="286.21" rx="4.83" ry="5.15" fill="#8e8e8e" filter="url(#soft)"/>
<path d="M187.50,288.79 C192.01,288.79 195.23,290.33 196.19,294.45 C197.48,299.60 197.16,305.78 197.16,310.93 C197.16,317.11 194.58,320.20 187.50,320.20 C180.42,320.20 177.84,317.11 177.84,310.93 C177.84,305.78 177.52,299.60 178.81,294.45 C179.77,290.33 182.99,288.79 187.50,288.79 Z" fill="url(#bodyG)" stroke="none" stroke-width="1" filter="url(#soft)"/>
<ellipse cx="178.48" cy="292.39" rx="2.09" ry="2.06" fill="#dadada" filter="url(#soft)"/>
<ellipse cx="196.52" cy="292.39" rx="2.09" ry="2.06" fill="#dadada" filter="url(#soft)"/>
<ellipse cx="184.28" cy="296.51" rx="10.63" ry="9.79" fill="#7f00ff" filter="url(#rough)"/>
<g filter="url(#rough2)">
<ellipse cx="189.43" cy="292.39" rx="3.94" ry="3.94" fill="url(#hB)" />
<ellipse cx="189.43" cy="292.39" rx="3.15" ry="3.15" fill="#1a22ff" />
<ellipse cx="189.43" cy="292.39" rx="2.33" ry="2.33" fill="#00c8ff" />
</g>
</g>
<g clip-path="url(#cc112)">
<rect x="204.80" y="279.00" width="32.20" height="51.50" fill="url(#bgG)" filter="url(#tex)"/>
<ellipse cx="220.90" cy="326.38" rx="10.30" ry="3.61" fill="#5c5c5c" filter="url(#soft)"/>
<ellipse cx="220.90" cy="286.21" rx="4.83" ry="5.15" fill="#8e8e8e" filter="url(#soft)"/>
<path d="M220.90,288.79 C225.41,288.79 228.63,290.33 229.59,294.45 C230.88,299.60 230.56,305.78 230.56,310.93 C230.56,317.11 227.98,320.20 220.90,320.20 C213.82,320.20 211.24,317.11 211.24,310.93 C211.24,305.78 210.92,299.60 212.21,294.45 C213.17,290.33 216.39,288.79 220.90,288.79 Z" fill="url(#bodyG)" stroke="none" stroke-width="1" filter="url(#soft)"/>
<ellipse cx="211.88" cy="292.39" rx="2.09" ry="2.06" fill="#dadada" filter="url(#soft)"/>
<ellipse cx="229.92" cy="292.39" rx="2.09" ry="2.06" fill="#dadada" filter="url(#soft)"/>
<ellipse cx="219.29" cy="302.69" rx="11.59" ry="10.30" fill="#7f00ff" filter="url(#rough)"/>
<g filter="url(#rough2)">
<ellipse cx="212.85" cy="302.18" rx="3.28" ry="3.28" fill="url(#hB)" />
<ellipse cx="212.85" cy="302.18" rx="2.10" ry="2.10" fill="#1a22ff" />
</g>
<g filter="url(#rough2)">
<ellipse cx="222.83" cy="301.14" rx="3.28" ry="3.28" fill="url(#hB)" />
<ellipse cx="222.83" cy="301.14" rx="2.10" ry="2.10" fill="#1a22ff" />
</g>
</g>
<g clip-path="url(#cc120)">
<rect x="242.30" y="279.00" width="32.47" height="51.50" fill="url(#bgG)" filter="url(#tex)"/>
<ellipse cx="258.53" cy="326.38" rx="10.39" ry="3.61" fill="#5c5c5c" filter="url(#soft)"/>
<ellipse cx="258.53" cy="286.21" rx="4.87" ry="5.15" fill="#8e8e8e" filter="url(#soft)"/>
<path d="M258.53,288.79 C263.08,288.79 266.33,290.33 267.30,294.45 C268.60,299.60 268.27,305.78 268.27,310.93 C268.27,317.11 265.68,320.20 258.53,320.20 C251.39,320.20 248.79,317.11 248.79,310.93 C248.79,305.78 248.47,299.60 249.77,294.45 C250.74,290.33 253.99,288.79 258.53,288.79 Z" fill="url(#bodyG)" stroke="none" stroke-width="1" filter="url(#soft)"/>
<ellipse cx="249.44" cy="292.39" rx="2.11" ry="2.06" fill="#dadada" filter="url(#soft)"/>
<ellipse cx="267.62" cy="292.39" rx="2.11" ry="2.06" fill="#dadada" filter="url(#soft)"/>
<ellipse cx="253.76" cy="300.44" rx="0.75" ry="0.75" fill="#7f00ff" />
<ellipse cx="254.86" cy="302.73" rx="0.75" ry="0.75" fill="#7f00ff" />
<ellipse cx="257.81" cy="305.80" rx="0.75" ry="0.75" fill="#7f00ff" />
<ellipse cx="252.65" cy="302.06" rx="0.75" ry="0.75" fill="#7f00ff" />
<ellipse cx="256.00" cy="314.41" rx="0.75" ry="0.75" fill="#7f00ff" />
<ellipse cx="262.69" cy="306.56" rx="0.75" ry="0.75" fill="#7f00ff" />
<ellipse cx="248.89" cy="304.70" rx="0.75" ry="0.75" fill="#7f00ff" />
<ellipse cx="259.72" cy="305.97" rx="0.75" ry="0.75" fill="#7f00ff" />
<ellipse cx="258.72" cy="306.61" rx="0.75" ry="0.75" fill="#7f00ff" />
<ellipse cx="251.35" cy="308.78" rx="0.75" ry="0.75" fill="#7f00ff" />
<ellipse cx="257.33" cy="314.87" rx="0.75" ry="0.75" fill="#7f00ff" />
<ellipse cx="258.44" cy="302.32" rx="0.75" ry="0.75" fill="#7f00ff" />
<ellipse cx="253.51" cy="316.77" rx="0.75" ry="0.75" fill="#7f00ff" />
<ellipse cx="253.68" cy="306.14" rx="0.75" ry="0.75" fill="#7f00ff" />
<ellipse cx="259.10" cy="313.48" rx="0.75" ry="0.75" fill="#7f00ff" />
<ellipse cx="247.58" cy="305.86" rx="0.75" ry="0.75" fill="#7f00ff" />
<ellipse cx="256.25" cy="317.27" rx="0.75" ry="0.75" fill="#7f00ff" />
<ellipse cx="257.67" cy="306.54" rx="0.75" ry="0.75" fill="#7f00ff" />
<ellipse cx="254.87" cy="305.49" rx="0.75" ry="0.75" fill="#7f00ff" />
<ellipse cx="259.62" cy="305.55" rx="0.75" ry="0.75" fill="#7f00ff" />
<ellipse cx="255.41" cy="297.60" rx="0.75" ry="0.75" fill="#7f00ff" />
<ellipse cx="256.75" cy="301.47" rx="0.75" ry="0.75" fill="#7f00ff" />
<ellipse cx="257.51" cy="306.60" rx="0.75" ry="0.75" fill="#7f00ff" />
<ellipse cx="256.04" cy="312.47" rx="0.75" ry="0.75" fill="#7f00ff" />
<ellipse cx="255.48" cy="302.44" rx="0.75" ry="0.75" fill="#7f00ff" />
<ellipse cx="261.07" cy="313.57" rx="0.75" ry="0.75" fill="#7f00ff" />
<ellipse cx="250.05" cy="304.76" rx="0.75" ry="0.75" fill="#7f00ff" />
<ellipse cx="255.31" cy="311.32" rx="0.75" ry="0.75" fill="#7f00ff" />
<ellipse cx="257.43" cy="303.07" rx="0.75" ry="0.75" fill="#7f00ff" />
<ellipse cx="250.19" cy="312.99" rx="0.75" ry="0.75" fill="#7f00ff" />
<ellipse cx="258.58" cy="299.60" rx="0.75" ry="0.75" fill="#7f00ff" />
<ellipse cx="250.88" cy="308.09" rx="0.75" ry="0.75" fill="#7f00ff" />
<ellipse cx="247.95" cy="305.63" rx="0.75" ry="0.75" fill="#7f00ff" />
<ellipse cx="249.45" cy="306.37" rx="0.75" ry="0.75" fill="#7f00ff" />
<ellipse cx="250.69" cy="308.09" rx="0.75" ry="0.75" fill="#7f00ff" />
<ellipse cx="262.98" cy="307.65" rx="0.75" ry="0.75" fill="#7f00ff" />
<ellipse cx="258.93" cy="310.53" rx="0.75" ry="0.75" fill="#7f00ff" />
<ellipse cx="250.43" cy="302.22" rx="0.75" ry="0.75" fill="#7f00ff" />
<ellipse cx="250.42" cy="310.54" rx="0.75" ry="0.75" fill="#7f00ff" />
<ellipse cx="252.10" cy="304.42" rx="0.75" ry="0.75" fill="#7f00ff" />
<ellipse cx="255.33" cy="312.24" rx="0.75" ry="0.75" fill="#7f00ff" />
<ellipse cx="253.52" cy="307.01" rx="0.75" ry="0.75" fill="#7f00ff" />
<ellipse cx="259.32" cy="304.48" rx="0.75" ry="0.75" fill="#7f00ff" />
<ellipse cx="250.65" cy="300.52" rx="0.75" ry="0.75" fill="#7f00ff" />
<ellipse cx="247.89" cy="309.49" rx="0.75" ry="0.75" fill="#7f00ff" />
<ellipse cx="259.55" cy="314.68" rx="0.75" ry="0.75" fill="#7f00ff" />
<ellipse cx="255.17" cy="309.04" rx="0.75" ry="0.75" fill="#7f00ff" />
<ellipse cx="250.29" cy="311.47" rx="0.75" ry="0.75" fill="#7f00ff" />
<ellipse cx="252.19" cy="315.63" rx="0.75" ry="0.75" fill="#7f00ff" />
<ellipse cx="256.00" cy="309.17" rx="0.75" ry="0.75" fill="#7f00ff" />
<ellipse cx="256.01" cy="302.70" rx="0.75" ry="0.75" fill="#7f00ff" />
<ellipse cx="258.16" cy="303.84" rx="0.75" ry="0.75" fill="#7f00ff" />
<ellipse cx="249.71" cy="304.46" rx="0.75" ry="0.75" fill="#7f00ff" />
<ellipse cx="255.60" cy="302.94" rx="0.75" ry="0.75" fill="#7f00ff" />
<ellipse cx="259.24" cy="301.98" rx="0.75" ry="0.75" fill="#7f00ff" />
<ellipse cx="252.71" cy="303.16" rx="0.75" ry="0.75" fill="#7f00ff" />
<ellipse cx="248.65" cy="304.17" rx="0.75" ry="0.75" fill="#7f00ff" />
<ellipse cx="249.57" cy="306.68" rx="0.75" ry="0.75" fill="#7f00ff" />
<ellipse cx="250.79" cy="313.82" rx="0.75" ry="0.75" fill="#7f00ff" />
<ellipse cx="252.26" cy="305.64" rx="0.75" ry="0.75" fill="#7f00ff" />
<ellipse cx="259.93" cy="315.06" rx="0.75" ry="0.75" fill="#7f00ff" />
<ellipse cx="260.88" cy="300.39" rx="0.75" ry="0.75" fill="#7f00ff" />
<ellipse cx="251.93" cy="316.55" rx="0.75" ry="0.75" fill="#7f00ff" />
<ellipse cx="257.65" cy="308.90" rx="0.75" ry="0.75" fill="#7f00ff" />
<ellipse cx="260.23" cy="313.58" rx="0.75" ry="0.75" fill="#7f00ff" />
<ellipse cx="250.27" cy="314.92" rx="0.75" ry="0.75" fill="#7f00ff" />
<ellipse cx="252.44" cy="306.12" rx="0.75" ry="0.75" fill="#7f00ff" />
<ellipse cx="256.80" cy="308.27" rx="0.75" ry="0.75" fill="#7f00ff" />
<ellipse cx="253.68" cy="311.85" rx="0.75" ry="0.75" fill="#7f00ff" />
<ellipse cx="251.68" cy="301.22" rx="0.75" ry="0.75" fill="#7f00ff" />
<ellipse cx="253.45" cy="307.05" rx="0.75" ry="0.75" fill="#7f00ff" />
<ellipse cx="252.18" cy="310.74" rx="0.75" ry="0.75" fill="#7f00ff" />
<ellipse cx="262.75" cy="325.87" rx="7.79" ry="5.15" fill="#7f00ff" filter="url(#rough)"/>
<g filter="url(#rough2)">
<ellipse cx="263.73" cy="325.35" rx="4.59" ry="4.59" fill="url(#hB)" />
<ellipse cx="263.73" cy="325.35" rx="3.68" ry="3.68" fill="#1a22ff" />
<ellipse cx="263.73" cy="325.35" rx="2.72" ry="2.72" fill="#00c8ff" />
</g>
</g>
<g clip-path="url(#cc121)">
<rect x="275.97" y="279.00" width="32.47" height="51.50" fill="url(#bgG)" filter="url(#tex)"/>
<ellipse cx="292.20" cy="326.38" rx="10.39" ry="3.61" fill="#5c5c5c" filter="url(#soft)"/>
<ellipse cx="292.20" cy="286.21" rx="4.87" ry="5.15" fill="#8e8e8e" filter="url(#soft)"/>
<path d="M292.20,288.79 C296.75,288.79 299.99,290.33 300.97,294.45 C302.26,299.60 301.94,305.78 301.94,310.93 C301.94,317.11 299.34,320.20 292.20,320.20 C285.06,320.20 282.46,317.11 282.46,310.93 C282.46,305.78 282.14,299.60 283.43,294.45 C284.41,290.33 287.65,288.79 292.20,288.79 Z" fill="url(#bodyG)" stroke="none" stroke-width="1" filter="url(#soft)"/>
<ellipse cx="283.11" cy="292.39" rx="2.11" ry="2.06" fill="#dadada" filter="url(#soft)"/>
<ellipse cx="301.29" cy="292.39" rx="2.11" ry="2.06" fill="#dadada" filter="url(#soft)"/>
<ellipse cx="288.93" cy="293.80" rx="0.75" ry="0.75" fill="#7f00ff" />
<ellipse cx="289.73" cy="302.89" rx="0.75" ry="0.75" fill="#7f00ff" />
<ellipse cx="286.28" cy="304.65" rx="0.75" ry="0.75" fill="#7f00ff" />
<ellipse cx="294.53" cy="307.74" rx="0.75" ry="0.75" fill="#7f00ff" />
<ellipse cx="292.49" cy="305.44" rx="0.75" ry="0.75" fill="#7f00ff" />
<ellipse cx="291.82" cy="298.05" rx="0.75" ry="0.75" fill="#7f00ff" />
<ellipse cx="293.64" cy="303.43" rx="0.75" ry="0.75" fill="#7f00ff" />
<ellipse cx="285.98" cy="296.98" rx="0.75" ry="0.75" fill="#7f00ff" />
<ellipse cx="301.04" cy="302.11" rx="0.75" ry="0.75" fill="#7f00ff" />
<ellipse cx="294.09" cy="297.40" rx="0.75" ry="0.75" fill="#7f00ff" />
<ellipse cx="297.61" cy="293.97" rx="0.75" ry="0.75" fill="#7f00ff" />
<ellipse cx="300.41" cy="300.71" rx="0.75" ry="0.75" fill="#7f00ff" />
<ellipse cx="293.67" cy="308.60" rx="0.75" ry="0.75" fill="#7f00ff" />
<ellipse cx="294.83" cy="305.86" rx="0.75" ry="0.75" fill="#7f00ff" />
<ellipse cx="289.24" cy="300.36" rx="0.75" ry="0.75" fill="#7f00ff" />
<ellipse cx="300.25" cy="304.43" rx="0.75" ry="0.75" fill="#7f00ff" />
<ellipse cx="294.61" cy="307.92" rx="0.75" ry="0.75" fill="#7f00ff" />
<ellipse cx="288.94" cy="299.76" rx="0.75" ry="0.75" fill="#7f00ff" />
<ellipse cx="293.48" cy="303.93" rx="0.75" ry="0.75" fill="#7f00ff" />
<ellipse cx="295.54" cy="305.00" rx="0.75" ry="0.75" fill="#7f00ff" />
<ellipse cx="287.31" cy="302.16" rx="0.75" ry="0.75" fill="#7f00ff" />
<ellipse cx="294.43" cy="295.19" rx="0.75" ry="0.75" fill="#7f00ff" />
<ellipse cx="291.32" cy="299.77" rx="0.75" ry="0.75" fill="#7f00ff" />
<ellipse cx="288.62" cy="305.06" rx="0.75" ry="0.75" fill="#7f00ff" />
<ellipse cx="302.30" cy="299.82" rx="0.75" ry="0.75" fill="#7f00ff" />
<ellipse cx="291.80" cy="305.45" rx="0.75" ry="0.75" fill="#7f00ff" />
<ellipse cx="291.35" cy="298.80" rx="0.75" ry="0.75" fill="#7f00ff" />
<ellipse cx="287.18" cy="294.92" rx="0.75" ry="0.75" fill="#7f00ff" />
<ellipse cx="291.00" cy="299.95" rx="0.75" ry="0.75" fill="#7f00ff" />
<ellipse cx="285.94" cy="296.65" rx="0.75" ry="0.75" fill="#7f00ff" />
<ellipse cx="285.79" cy="299.64" rx="0.75" ry="0.75" fill="#7f00ff" />
<ellipse cx="291.20" cy="297.34" rx="0.75" ry="0.75" fill="#7f00ff" />
<ellipse cx="297.77" cy="294.72" rx="0.75" ry="0.75" fill="#7f00ff" />
<ellipse cx="286.79" cy="300.42" rx="0.75" ry="0.75" fill="#7f00ff" />
<ellipse cx="300.13" cy="301.21" rx="0.75" ry="0.75" fill="#7f00ff" />
<ellipse cx="288.62" cy="299.98" rx="0.75" ry="0.75" fill="#7f00ff" />
<ellipse cx="293.88" cy="292.04" rx="0.75" ry="0.75" fill="#7f00ff" />
<ellipse cx="286.07" cy="303.24" rx="0.75" ry="0.75" fill="#7f00ff" />
<ellipse cx="295.41" cy="304.50" rx="0.75" ry="0.75" fill="#7f00ff" />
<ellipse cx="291.39" cy="295.28" rx="0.75" ry="0.75" fill="#7f00ff" />
<ellipse cx="297.60" cy="305.85" rx="0.75" ry="0.75" fill="#7f00ff" />
<ellipse cx="286.97" cy="300.51" rx="0.75" ry="0.75" fill="#7f00ff" />
<ellipse cx="287.59" cy="295.77" rx="0.75" ry="0.75" fill="#7f00ff" />
<ellipse cx="302.88" cy="300.44" rx="0.75" ry="0.75" fill="#7f00ff" />
<ellipse cx="299.21" cy="294.59" rx="0.75" ry="0.75" fill="#7f00ff" />
<ellipse cx="292.18" cy="299.95" rx="0.75" ry="0.75" fill="#7f00ff" />
<ellipse cx="292.85" cy="296.86" rx="0.75" ry="0.75" fill="#7f00ff" />
<ellipse cx="293.26" cy="300.60" rx="0.75" ry="0.75" fill="#7f00ff" />
<ellipse cx="289.90" cy="304.77" rx="0.75" ry="0.75" fill="#7f00ff" />
<ellipse cx="291.98" cy="295.33" rx="0.75" ry="0.75" fill="#7f00ff" />
<ellipse cx="287.32" cy="299.09" rx="0.75" ry="0.75" fill="#7f00ff" />
<ellipse cx="298.69" cy="302.80" rx="0.75" ry="0.75" fill="#7f00ff" />
<ellipse cx="290.18" cy="303.69" rx="0.75" ry="0.75" fill="#7f00ff" />
<ellipse cx="291.38" cy="305.17" rx="0.75" ry="0.75" fill="#7f00ff" />
<ellipse cx="299.80" cy="305.82" rx="0.75" ry="0.75" fill="#7f00ff" />
<ellipse cx="301.75" cy="299.85" rx="0.75" ry="0.75" fill="#7f00ff" />
<ellipse cx="302.16" cy="302.11" rx="0.75" ry="0.75" fill="#7f00ff" />
<ellipse cx="296.26" cy="297.82" rx="0.75" ry="0.75" fill="#7f00ff" />
<ellipse cx="292.69" cy="308.03" rx="0.75" ry="0.75" fill="#7f00ff" />
<ellipse cx="302.34" cy="300.16" rx="0.75" ry="0.75" fill="#7f00ff" />
<ellipse cx="289.43" cy="296.79" rx="0.75" ry="0.75" fill="#7f00ff" />
<ellipse cx="293.76" cy="298.39" rx="0.75" ry="0.75" fill="#7f00ff" />
<ellipse cx="290.42" cy="293.64" rx="0.75" ry="0.75" fill="#7f00ff" />
<ellipse cx="285.64" cy="300.89" rx="0.75" ry="0.75" fill="#7f00ff" />
<ellipse cx="292.60" cy="298.78" rx="0.75" ry="0.75" fill="#7f00ff" />
<ellipse cx="290.26" cy="295.74" rx="0.75" ry="0.75" fill="#7f00ff" />
<ellipse cx="299.37" cy="303.87" rx="0.75" ry="0.75" fill="#7f00ff" />
<ellipse cx="294.88" cy="300.28" rx="0.75" ry="0.75" fill="#7f00ff" />
<ellipse cx="288.33" cy="295.94" rx="0.75" ry="0.75" fill="#7f00ff" />
<ellipse cx="298.17" cy="295.39" rx="0.75" ry="0.75" fill="#7f00ff" />
<ellipse cx="288.33" cy="302.28" rx="0.75" ry="0.75" fill="#7f00ff" />
<ellipse cx="296.10" cy="302.18" rx="5.84" ry="6.18" fill="#7f00ff" filter="url(#rough)"/>
</g>
<g clip-path="url(#cc122)">
<rect x="309.63" y="279.00" width="32.47" height="51.50" fill="url(#bgG)" filter="url(#tex)"/>
<ellipse cx="325.87" cy="326.38" rx="10.39" ry="3.61" fill="#5c5c5c" filter="url(#soft)"/>
<ellipse cx="325.87" cy="286.21" rx="4.87" ry="5.15" fill="#8e8e8e" filter="url(#soft)"/>
<path d="M325.87,288.79 C330.41,288.79 333.66,290.33 334.63,294.45 C335.93,299.60 335.61,305.78 335.61,310.93 C335.61,317.11 333.01,320.20 325.87,320.20 C318.72,320.20 316.13,317.11 316.13,310.93 C316.13,305.78 315.80,299.60 317.10,294.45 C318.07,290.33 321.32,288.79 325.87,288.79 Z" fill="url(#bodyG)" stroke="none" stroke-width="1" filter="url(#soft)"/>
<ellipse cx="316.78" cy="292.39" rx="2.11" ry="2.06" fill="#dadada" filter="url(#soft)"/>
<ellipse cx="334.96" cy="292.39" rx="2.11" ry="2.06" fill="#dadada" filter="url(#soft)"/>
<ellipse cx="324.89" cy="301.66" rx="8.12" ry="8.76" fill="#7f00ff" filter="url(#rough)"/>
<g filter="url(#rough2)">
<ellipse cx="323.59" cy="302.69" rx="4.59" ry="4.59" fill="url(#hB)" />
<ellipse cx="323.59" cy="302.69" rx="3.68" ry="3.68" fill="#1a22ff" />
<ellipse cx="323.59" cy="302.69" rx="2.72" ry="2.72" fill="#00c8ff" />
</g>
</g>
<g clip-path="url(#cc130)">
<rect x="346.90" y="279.00" width="32.43" height="51.50" fill="url(#bgG)" filter="url(#tex)"/>
<ellipse cx="363.12" cy="326.38" rx="10.38" ry="3.61" fill="#5c5c5c" filter="url(#soft)"/>
<ellipse cx="363.12" cy="287.24" rx="4.87" ry="5.15" fill="#c4c4c4" filter="url(#soft)"/>
<path d="M363.12,289.30 C367.48,289.30 370.59,291.00 371.52,295.53 C372.77,301.20 372.46,307.99 372.46,313.66 C372.46,320.46 369.97,323.86 363.12,323.86 C356.27,323.86 353.78,320.46 353.78,313.66 C353.78,307.99 353.46,301.20 354.71,295.53 C355.64,291.00 358.76,289.30 363.12,289.30 Z" fill="url(#bodyG)" stroke="none" stroke-width="1" filter="url(#soft)"/>
<ellipse cx="354.04" cy="287.75" rx="2.11" ry="2.06" fill="#dadada" filter="url(#soft)"/>
<ellipse cx="372.20" cy="287.75" rx="2.11" ry="2.06" fill="#dadada" filter="url(#soft)"/>
<ellipse cx="357.28" cy="298.06" rx="2.59" ry="4.63" fill="#7f00ff" filter="url(#rough)"/>
<ellipse cx="365.71" cy="297.02" rx="1.95" ry="2.58" fill="#7f00ff" filter="url(#rough)"/>
</g>
<g clip-path="url(#cc131)">
<rect x="380.53" y="279.00" width="32.43" height="51.50" fill="url(#bgG)" filter="url(#tex)"/>
<ellipse cx="396.75" cy="326.38" rx="10.38" ry="3.61" fill="#5c5c5c" filter="url(#soft)"/>
<ellipse cx="396.75" cy="287.24" rx="4.87" ry="5.15" fill="#c4c4c4" filter="url(#soft)"/>
<path d="M396.75,289.30 C401.11,289.30 404.22,291.00 405.16,295.53 C406.40,301.20 406.09,307.99 406.09,313.66 C406.09,320.46 403.60,323.86 396.75,323.86 C389.90,323.86 387.41,320.46 387.41,313.66 C387.41,307.99 387.10,301.20 388.34,295.53 C389.28,291.00 392.39,289.30 396.75,289.30 Z" fill="url(#bodyG)" stroke="none" stroke-width="1" filter="url(#soft)"/>
<ellipse cx="387.67" cy="287.75" rx="2.11" ry="2.06" fill="#dadada" filter="url(#soft)"/>
<ellipse cx="405.83" cy="287.75" rx="2.11" ry="2.06" fill="#dadada" filter="url(#soft)"/>
<ellipse cx="395.45" cy="302.69" rx="5.51" ry="3.61" fill="#7f00ff" filter="url(#rough)"/>
</g>
<g clip-path="url(#cc132)">
<rect x="414.17" y="279.00" width="32.43" height="51.50" fill="url(#bgG)" filter="url(#tex)"/>
<ellipse cx="430.38" cy="326.38" rx="10.38" ry="3.61" fill="#5c5c5c" filter="url(#soft)"/>
<ellipse cx="430.38" cy="287.24" rx="4.87" ry="5.15" fill="#c4c4c4" filter="url(#soft)"/>
<path d="M430.38,289.30 C434.74,289.30 437.86,291.00 438.79,295.53 C440.04,301.20 439.72,307.99 439.72,313.66 C439.72,320.46 437.23,323.86 430.38,323.86 C423.53,323.86 421.04,320.46 421.04,313.66 C421.04,307.99 420.73,301.20 421.98,295.53 C422.91,291.00 426.02,289.30 430.38,289.30 Z" fill="url(#bodyG)" stroke="none" stroke-width="1" filter="url(#soft)"/>
<ellipse cx="421.30" cy="287.75" rx="2.11" ry="2.06" fill="#dadada" filter="url(#soft)"/>
<ellipse cx="439.46" cy="287.75" rx="2.11" ry="2.06" fill="#dadada" filter="url(#soft)"/>
<ellipse cx="428.44" cy="294.45" rx="8.11" ry="10.30" fill="#7f00ff" filter="url(#rough)"/>
<g filter="url(#rough2)">
<ellipse cx="426.49" cy="292.90" rx="5.25" ry="5.25" fill="url(#hB)" />
<ellipse cx="426.49" cy="292.90" rx="3.36" ry="3.36" fill="#1a22ff" />
</g>
<ellipse cx="435.57" cy="302.69" rx="2.59" ry="5.15" fill="#7f00ff" filter="url(#rough)"/>
</g>
<g clip-path="url(#cc140)">
<rect x="451.90" y="279.00" width="32.20" height="51.50" fill="url(#bgG)" filter="url(#tex)"/>
<ellipse cx="468.00" cy="326.38" rx="10.30" ry="3.61" fill="#5c5c5c" filter="url(#soft)"/>
<ellipse cx="468.00" cy="287.24" rx="4.83" ry="5.15" fill="#c4c4c4" filter="url(#soft)"/>
<path d="M468.00,289.30 C472.33,289.30 475.42,291.00 476.35,295.53 C477.58,301.20 477.27,307.99 477.27,313.66 C477.27,320.46 474.80,323.86 468.00,323.86 C461.20,323.86 458.73,320.46 458.73,313.66 C458.73,307.99 458.42,301.20 459.65,295.53 C460.58,291.00 463.67,289.30 468.00,289.30 Z" fill="url(#bodyG)" stroke="none" stroke-width="1" filter="url(#soft)"/>
<ellipse cx="458.98" cy="287.75" rx="2.09" ry="2.06" fill="#dadada" filter="url(#soft)"/>
<ellipse cx="477.02" cy="287.75" rx="2.09" ry="2.06" fill="#dadada" filter="url(#soft)"/>
</g>
<g clip-path="url(#cc141)">
<rect x="485.30" y="279.00" width="32.20" height="51.50" fill="url(#bgG)" filter="url(#tex)"/>
<ellipse cx="501.40" cy="326.38" rx="10.30" ry="3.61" fill="#5c5c5c" filter="url(#soft)"/>
<ellipse cx="501.40" cy="287.24" rx="4.83" ry="5.15" fill="#c4c4c4" filter="url(#soft)"/>
<path d="M501.40,289.30 C505.73,289.30 508.82,291.00 509.75,295.53 C510.98,301.20 510.67,307.99 510.67,313.66 C510.67,320.46 508.20,323.86 501.40,323.86 C494.60,323.86 492.13,320.46 492.13,313.66 C492.13,307.99 491.82,301.20 493.05,295.53 C493.98,291.00 497.07,289.30 501.40,289.30 Z" fill="url(#bodyG)" stroke="none" stroke-width="1" filter="url(#soft)"/>
<ellipse cx="492.38" cy="287.75" rx="2.09" ry="2.06" fill="#dadada" filter="url(#soft)"/>
<ellipse cx="510.42" cy="287.75" rx="2.09" ry="2.06" fill="#dadada" filter="url(#soft)"/>
<ellipse cx="504.74" cy="294.91" rx="0.75" ry="0.75" fill="#7f00ff" />
<ellipse cx="501.74" cy="292.12" rx="0.75" ry="0.75" fill="#7f00ff" />
<ellipse cx="500.90" cy="295.78" rx="0.75" ry="0.75" fill="#7f00ff" />
<ellipse cx="500.00" cy="302.53" rx="0.75" ry="0.75" fill="#7f00ff" />
<ellipse cx="498.42" cy="300.16" rx="0.75" ry="0.75" fill="#7f00ff" />
<ellipse cx="499.47" cy="304.80" rx="0.75" ry="0.75" fill="#7f00ff" />
<ellipse cx="497.38" cy="300.70" rx="0.75" ry="0.75" fill="#7f00ff" />
<ellipse cx="507.04" cy="294.56" rx="0.75" ry="0.75" fill="#7f00ff" />
<ellipse cx="497.87" cy="301.55" rx="0.75" ry="0.75" fill="#7f00ff" />
<ellipse cx="505.31" cy="304.71" rx="0.75" ry="0.75" fill="#7f00ff" />
<ellipse cx="496.48" cy="296.36" rx="0.75" ry="0.75" fill="#7f00ff" />
<ellipse cx="509.29" cy="299.79" rx="0.75" ry="0.75" fill="#7f00ff" />
<ellipse cx="500.31" cy="298.22" rx="0.75" ry="0.75" fill="#7f00ff" />
<ellipse cx="498.43" cy="304.92" rx="0.75" ry="0.75" fill="#7f00ff" />
<ellipse cx="499.10" cy="298.90" rx="0.75" ry="0.75" fill="#7f00ff" />
<ellipse cx="506.57" cy="301.98" rx="0.75" ry="0.75" fill="#7f00ff" />
<ellipse cx="496.78" cy="303.04" rx="0.75" ry="0.75" fill="#7f00ff" />
<ellipse cx="494.70" cy="300.51" rx="0.75" ry="0.75" fill="#7f00ff" />
<ellipse cx="499.59" cy="301.60" rx="0.75" ry="0.75" fill="#7f00ff" />
<ellipse cx="500.88" cy="302.51" rx="0.75" ry="0.75" fill="#7f00ff" />
<ellipse cx="499.49" cy="295.42" rx="0.75" ry="0.75" fill="#7f00ff" />
<ellipse cx="499.06" cy="296.21" rx="0.75" ry="0.75" fill="#7f00ff" />
<ellipse cx="497.90" cy="292.98" rx="0.75" ry="0.75" fill="#7f00ff" />
<ellipse cx="500.24" cy="297.77" rx="0.75" ry="0.75" fill="#7f00ff" />
<ellipse cx="498.45" cy="300.38" rx="0.75" ry="0.75" fill="#7f00ff" />
<ellipse cx="505.62" cy="298.18" rx="0.75" ry="0.75" fill="#7f00ff" />
<ellipse cx="506.92" cy="303.04" rx="0.75" ry="0.75" fill="#7f00ff" />
<ellipse cx="504.42" cy="295.27" rx="0.75" ry="0.75" fill="#7f00ff" />
<ellipse cx="501.43" cy="300.58" rx="0.75" ry="0.75" fill="#7f00ff" />
<ellipse cx="504.06" cy="293.66" rx="0.75" ry="0.75" fill="#7f00ff" />
<ellipse cx="506.37" cy="300.62" rx="0.75" ry="0.75" fill="#7f00ff" />
<ellipse cx="509.72" cy="298.64" rx="0.75" ry="0.75" fill="#7f00ff" />
<ellipse cx="504.79" cy="300.65" rx="0.75" ry="0.75" fill="#7f00ff" />
<ellipse cx="509.05" cy="295.79" rx="0.75" ry="0.75" fill="#7f00ff" />
<ellipse cx="503.95" cy="296.62" rx="0.75" ry="0.75" fill="#7f00ff" />
<ellipse cx="499.53" cy="298.34" rx="0.75" ry="0.75" fill="#7f00ff" />
<ellipse cx="495.89" cy="302.01" rx="0.75" ry="0.75" fill="#7f00ff" />
<ellipse cx="503.26" cy="298.94" rx="0.75" ry="0.75" fill="#7f00ff" />
<ellipse cx="506.16" cy="303.51" rx="0.75" ry="0.75" fill="#7f00ff" />
<ellipse cx="501.59" cy="299.69" rx="0.75" ry="0.75" fill="#7f00ff" />
<ellipse cx="497.30" cy="299.43" rx="0.75" ry="0.75" fill="#7f00ff" />
<ellipse cx="503.08" cy="304.30" rx="0.75" ry="0.75" fill="#7f00ff" />
<ellipse cx="504.32" cy="302.13" rx="0.75" ry="0.75" fill="#7f00ff" />
<ellipse cx="495.55" cy="296.79" rx="0.75" ry="0.75" fill="#7f00ff" />
<ellipse cx="502.88" cy="305.30" rx="0.75" ry="0.75" fill="#7f00ff" />
<ellipse cx="500.75" cy="300.34" rx="0.75" ry="0.75" fill="#7f00ff" />
<ellipse cx="497.33" cy="297.88" rx="0.75" ry="0.75" fill="#7f00ff" />
<ellipse cx="507.90" cy="296.36" rx="0.75" ry="0.75" fill="#7f00ff" />
<ellipse cx="498.33" cy="303.32" rx="0.75" ry="0.75" fill="#7f00ff" />
<ellipse cx="507.48" cy="302.96" rx="0.75" ry="0.75" fill="#7f00ff" />
<ellipse cx="499.79" cy="297.54" rx="4.51" ry="5.15" fill="#7f00ff" filter="url(#rough)"/>
<ellipse cx="506.55" cy="300.63" rx="3.22" ry="4.63" fill="#7f00ff" filter="url(#rough)"/>
</g>
<g clip-path="url(#cc142)">
<rect x="518.70" y="279.00" width="32.20" height="51.50" fill="url(#bgG)" filter="url(#tex)"/>
<ellipse cx="534.80" cy="326.38" rx="10.30" ry="3.61" fill="#5c5c5c" filter="url(#soft)"/>
<ellipse cx="534.80" cy="287.24" rx="4.83" ry="5.15" fill="#c4c4c4" filter="url(#soft)"/>
<path d="M534.80,289.30 C539.13,289.30 542.22,291.00 543.15,295.53 C544.38,301.20 544.07,307.99 544.07,313.66 C544.07,320.46 541.60,323.86 534.80,323.86 C528.00,323.86 525.53,320.46 525.53,313.66 C525.53,307.99 525.22,301.20 526.45,295.53 C527.38,291.00 530.47,289.30 534.80,289.30 Z" fill="url(#bodyG)" stroke="none" stroke-width="1" filter="url(#soft)"/>
<ellipse cx="525.78" cy="287.75" rx="2.09" ry="2.06" fill="#dadada" filter="url(#soft)"/>
<ellipse cx="543.82" cy="287.75" rx="2.09" ry="2.06" fill="#dadada" filter="url(#soft)"/>
<ellipse cx="541.88" cy="299.60" rx="1.20" ry="1.20" fill="#6a00ff" />
</g>
<g clip-path="url(#cc150)">
<rect x="555.90" y="279.00" width="32.07" height="51.50" fill="url(#bgG)" filter="url(#tex)"/>
<ellipse cx="571.93" cy="326.38" rx="10.26" ry="3.61" fill="#5c5c5c" filter="url(#soft)"/>
<ellipse cx="571.93" cy="287.24" rx="4.81" ry="5.15" fill="#c4c4c4" filter="url(#soft)"/>
<path d="M571.93,289.30 C576.24,289.30 579.32,291.00 580.25,295.53 C581.48,301.20 581.17,307.99 581.17,313.66 C581.17,320.46 578.71,323.86 571.93,323.86 C565.16,323.86 562.70,320.46 562.70,313.66 C562.70,307.99 562.39,301.20 563.62,295.53 C564.55,291.00 567.62,289.30 571.93,289.30 Z" fill="url(#bodyG)" stroke="none" stroke-width="1" filter="url(#soft)"/>
<ellipse cx="562.95" cy="287.75" rx="2.08" ry="2.06" fill="#dadada" filter="url(#soft)"/>
<ellipse cx="580.91" cy="287.75" rx="2.08" ry="2.06" fill="#dadada" filter="url(#soft)"/>
<ellipse cx="572.25" cy="299.60" rx="9.62" ry="10.81" fill="#7f00ff" filter="url(#rough)"/>
<g filter="url(#rough2)">
<ellipse cx="573.54" cy="301.14" rx="7.88" ry="7.88" fill="url(#hB)" />
<ellipse cx="573.54" cy="301.14" rx="6.30" ry="6.30" fill="#1a22ff" />
<ellipse cx="573.54" cy="301.14" rx="4.66" ry="4.66" fill="#00c8ff" />
<ellipse cx="573.54" cy="301.14" rx="3.65" ry="3.65" fill="#30ff50" />
</g>
</g>
<g clip-path="url(#cc151)">
<rect x="589.17" y="279.00" width="32.07" height="51.50" fill="url(#bgG)" filter="url(#tex)"/>
<ellipse cx="605.20" cy="326.38" rx="10.26" ry="3.61" fill="#5c5c5c" filter="url(#soft)"/>
<ellipse cx="605.20" cy="287.24" rx="4.81" ry="5.15" fill="#c4c4c4" filter="url(#soft)"/>
<path d="M605.20,289.30 C609.51,289.30 612.59,291.00 613.51,295.53 C614.74,301.20 614.44,307.99 614.44,313.66 C614.44,320.46 611.97,323.86 605.20,323.86 C598.43,323.86 595.96,320.46 595.96,313.66 C595.96,307.99 595.66,301.20 596.89,295.53 C597.81,291.00 600.89,289.30 605.20,289.30 Z" fill="url(#bodyG)" stroke="none" stroke-width="1" filter="url(#soft)"/>
<ellipse cx="596.22" cy="287.75" rx="2.08" ry="2.06" fill="#dadada" filter="url(#soft)"/>
<ellipse cx="614.18" cy="287.75" rx="2.08" ry="2.06" fill="#dadada" filter="url(#soft)"/>
<ellipse cx="604.24" cy="301.14" rx="8.98" ry="10.30" fill="#7f00ff" filter="url(#rough)"/>
<g filter="url(#rough2)">
<ellipse cx="598.15" cy="304.24" rx="3.94" ry="3.94" fill="url(#hB)" />
<ellipse cx="598.15" cy="304.24" rx="2.52" ry="2.52" fill="#1a22ff" />
</g>
<g filter="url(#rough2)">
<ellipse cx="610.01" cy="294.45" rx="3.94" ry="3.94" fill="url(#hB)" />
<ellipse cx="610.01" cy="294.45" rx="2.52" ry="2.52" fill="#1a22ff" />
</g>
</g>
<g clip-path="url(#cc152)">
<rect x="622.43" y="279.00" width="32.07" height="51.50" fill="url(#bgG)" filter="url(#tex)"/>
<ellipse cx="638.47" cy="326.38" rx="10.26" ry="3.61" fill="#5c5c5c" filter="url(#soft)"/>
<ellipse cx="638.47" cy="287.24" rx="4.81" ry="5.15" fill="#c4c4c4" filter="url(#soft)"/>
<path d="M638.47,289.30 C642.78,289.30 645.85,291.00 646.78,295.53 C648.01,301.20 647.70,307.99 647.70,313.66 C647.70,320.46 645.24,323.86 638.47,323.86 C631.69,323.86 629.23,320.46 629.23,313.66 C629.23,307.99 628.92,301.20 630.15,295.53 C631.08,291.00 634.16,289.30 638.47,289.30 Z" fill="url(#bodyG)" stroke="none" stroke-width="1" filter="url(#soft)"/>
<ellipse cx="629.49" cy="287.75" rx="2.08" ry="2.06" fill="#dadada" filter="url(#soft)"/>
<ellipse cx="647.45" cy="287.75" rx="2.08" ry="2.06" fill="#dadada" filter="url(#soft)"/>
<ellipse cx="636.86" cy="298.57" rx="10.26" ry="8.76" fill="#7f00ff" filter="url(#rough)"/>
<g filter="url(#rough2)">
<ellipse cx="631.09" cy="301.14" rx="3.94" ry="3.94" fill="url(#hB)" />
<ellipse cx="631.09" cy="301.14" rx="2.52" ry="2.52" fill="#1a22ff" />
</g>
<g filter="url(#rough2)">
<ellipse cx="642.64" cy="302.18" rx="3.94" ry="3.94" fill="url(#hB)" />
<ellipse cx="642.64" cy="302.18" rx="2.52" ry="2.52" fill="#1a22ff" />
</g>
</g>
<g clip-path="url(#cc200)">
<rect x="33.10" y="336.50" width="32.33" height="51.00" fill="url(#bgG)" filter="url(#tex)"/>
<ellipse cx="49.27" cy="383.42" rx="10.35" ry="3.57" fill="#5c5c5c" filter="url(#soft)"/>
<ellipse cx="49.27" cy="343.64" rx="4.85" ry="5.10" fill="#8e8e8e" filter="url(#soft)"/>
<path d="M49.27,346.19 C53.79,346.19 57.03,347.72 58.00,351.80 C59.29,356.90 58.97,363.02 58.97,368.12 C58.97,374.24 56.38,377.30 49.27,377.30 C42.15,377.30 39.57,374.24 39.57,368.12 C39.57,363.02 39.24,356.90 40.54,351.80 C41.51,347.72 44.74,346.19 49.27,346.19 Z" fill="url(#bodyG)" stroke="none" stroke-width="1" filter="url(#soft)"/>
<ellipse cx="40.21" cy="349.76" rx="2.10" ry="2.04" fill="#dadada" filter="url(#soft)"/>
<ellipse cx="58.32" cy="349.76" rx="2.10" ry="2.04" fill="#dadada" filter="url(#soft)"/>
<ellipse cx="48.30" cy="362.00" rx="15.20" ry="22.95" fill="#7f00ff" filter="url(#rough)"/>
<g filter="url(#rough)">
<ellipse cx="48.94" cy="362.00" rx="12.13" ry="12.75" fill="url(#hB)" />
<ellipse cx="48.94" cy="362.00" rx="9.70" ry="10.20" fill="#1a22ff" />
</g>
<g filter="url(#rough2)">
<ellipse cx="45.71" cy="364.55" rx="7.88" ry="7.88" fill="url(#hB)" />
<ellipse cx="45.71" cy="364.55" rx="6.30" ry="6.30" fill="#1a22ff" />
<ellipse cx="45.71" cy="364.55" rx="4.66" ry="4.66" fill="#00c8ff" />
<ellipse cx="45.71" cy="364.55" rx="3.65" ry="3.65" fill="#30ff50" />
<ellipse cx="45.71" cy="364.55" rx="2.84" ry="2.84" fill="#ffe000" />
<ellipse cx="45.71" cy="364.55" rx="2.08" ry="2.08" fill="#ff0000" />
</g>
<g filter="url(#rough2)">
<ellipse cx="54.44" cy="362.00" rx="6.56" ry="6.56" fill="url(#hB)" />
<ellipse cx="54.44" cy="362.00" rx="5.25" ry="5.25" fill="#1a22ff" />
<ellipse cx="54.44" cy="362.00" rx="3.88" ry="3.88" fill="#00c8ff" />
<ellipse cx="54.44" cy="362.00" rx="3.04" ry="3.04" fill="#30ff50" />
<ellipse cx="54.44" cy="362.00" rx="2.36" ry="2.36" fill="#ffe000" />
</g>
</g>
<g clip-path="url(#cc201)">
<rect x="66.63" y="336.50" width="32.33" height="51.00" fill="url(#bgG)" filter="url(#tex)"/>
<ellipse cx="82.80" cy="383.42" rx="10.35" ry="3.57" fill="#5c5c5c" filter="url(#soft)"/>
<ellipse cx="82.80" cy="343.64" rx="4.85" ry="5.10" fill="#8e8e8e" filter="url(#soft)"/>
<path d="M82.80,346.19 C87.33,346.19 90.56,347.72 91.53,351.80 C92.82,356.90 92.50,363.02 92.50,368.12 C92.50,374.24 89.91,377.30 82.80,377.30 C75.69,377.30 73.10,374.24 73.10,368.12 C73.10,363.02 72.78,356.90 74.07,351.80 C75.04,347.72 78.27,346.19 82.80,346.19 Z" fill="url(#bodyG)" stroke="none" stroke-width="1" filter="url(#soft)"/>
<ellipse cx="73.75" cy="349.76" rx="2.10" ry="2.04" fill="#dadada" filter="url(#soft)"/>
<ellipse cx="91.85" cy="349.76" rx="2.10" ry="2.04" fill="#dadada" filter="url(#soft)"/>
<ellipse cx="82.80" cy="357.92" rx="11.64" ry="13.26" fill="#7f00ff" filter="url(#rough)"/>
<g filter="url(#rough2)">
<ellipse cx="76.33" cy="359.45" rx="4.59" ry="4.59" fill="url(#hB)" />
<ellipse cx="76.33" cy="359.45" rx="3.68" ry="3.68" fill="#1a22ff" />
<ellipse cx="76.33" cy="359.45" rx="2.72" ry="2.72" fill="#00c8ff" />
</g>
<g filter="url(#rough2)">
<ellipse cx="88.30" cy="359.45" rx="4.59" ry="4.59" fill="url(#hB)" />
<ellipse cx="88.30" cy="359.45" rx="3.68" ry="3.68" fill="#1a22ff" />
<ellipse cx="88.30" cy="359.45" rx="2.72" ry="2.72" fill="#00c8ff" />
</g>
</g>
<g clip-path="url(#cc202)">
<rect x="100.17" y="336.50" width="32.33" height="51.00" fill="url(#bgG)" filter="url(#tex)"/>
<ellipse cx="116.33" cy="383.42" rx="10.35" ry="3.57" fill="#5c5c5c" filter="url(#soft)"/>
<ellipse cx="116.33" cy="343.64" rx="4.85" ry="5.10" fill="#8e8e8e" filter="url(#soft)"/>
<path d="M116.33,346.19 C120.86,346.19 124.09,347.72 125.06,351.80 C126.36,356.90 126.03,363.02 126.03,368.12 C126.03,374.24 123.45,377.30 116.33,377.30 C109.22,377.30 106.63,374.24 106.63,368.12 C106.63,363.02 106.31,356.90 107.60,351.80 C108.57,347.72 111.81,346.19 116.33,346.19 Z" fill="url(#bodyG)" stroke="none" stroke-width="1" filter="url(#soft)"/>
<ellipse cx="107.28" cy="349.76" rx="2.10" ry="2.04" fill="#dadada" filter="url(#soft)"/>
<ellipse cx="125.39" cy="349.76" rx="2.10" ry="2.04" fill="#dadada" filter="url(#soft)"/>
<ellipse cx="116.33" cy="351.80" rx="12.93" ry="14.79" fill="#7f00ff" filter="url(#rough)"/>
<ellipse cx="116.98" cy="382.40" rx="13.58" ry="6.12" fill="#7f00ff" filter="url(#rough)"/>
<ellipse cx="116.33" cy="371.18" rx="9.70" ry="4.08" fill="#e6e6e6" filter="url(#rough)"/>
<g filter="url(#rough)">
<ellipse cx="116.98" cy="354.86" rx="6.87" ry="7.65" fill="url(#hB)" />
<ellipse cx="116.98" cy="354.86" rx="5.50" ry="6.12" fill="#1a22ff" />
<ellipse cx="116.98" cy="354.86" rx="4.40" ry="4.90" fill="#00c8ff" />
<ellipse cx="116.98" cy="354.86" rx="3.41" ry="3.79" fill="#30ff50" />
</g>
<g filter="url(#rough2)">
<ellipse cx="116.33" cy="354.86" rx="5.25" ry="5.25" fill="url(#hB)" />
<ellipse cx="116.33" cy="354.86" rx="4.20" ry="4.20" fill="#1a22ff" />
<ellipse cx="116.33" cy="354.86" rx="3.11" ry="3.11" fill="#00c8ff" />
<ellipse cx="116.33" cy="354.86" rx="2.44" ry="2.44" fill="#30ff50" />
<ellipse cx="116.33" cy="354.86" rx="1.89" ry="1.89" fill="#ffe000" />
<ellipse cx="116.33" cy="354.86" rx="1.39" ry="1.39" fill="#ff0000" />
</g>
</g>
<g clip-path="url(#cc210)">
<rect x="138.00" y="336.50" width="32.20" height="51.00" fill="url(#bgG)" filter="url(#tex)"/>
<ellipse cx="154.10" cy="383.42" rx="10.30" ry="3.57" fill="#5c5c5c" filter="url(#soft)"/>
<ellipse cx="154.10" cy="343.64" rx="4.83" ry="5.10" fill="#8e8e8e" filter="url(#soft)"/>
<path d="M154.10,346.19 C158.61,346.19 161.83,347.72 162.79,351.80 C164.08,356.90 163.76,363.02 163.76,368.12 C163.76,374.24 161.18,377.30 154.10,377.30 C147.02,377.30 144.44,374.24 144.44,368.12 C144.44,363.02 144.12,356.90 145.41,351.80 C146.37,347.72 149.59,346.19 154.10,346.19 Z" fill="url(#bodyG)" stroke="none" stroke-width="1" filter="url(#soft)"/>
<ellipse cx="145.08" cy="349.76" rx="2.09" ry="2.04" fill="#dadada" filter="url(#soft)"/>
<ellipse cx="163.12" cy="349.76" rx="2.09" ry="2.04" fill="#dadada" filter="url(#soft)"/>
<ellipse cx="153.13" cy="355.37" rx="14.81" ry="17.85" fill="#7f00ff" filter="url(#rough)"/>
<g filter="url(#rough)">
<ellipse cx="152.49" cy="357.92" rx="10.87" ry="10.20" fill="url(#hB)" />
<ellipse cx="152.49" cy="357.92" rx="8.69" ry="8.16" fill="#1a22ff" />
<ellipse cx="152.49" cy="357.92" rx="6.96" ry="6.53" fill="#00c8ff" />
</g>
<g filter="url(#rough2)">
<ellipse cx="156.03" cy="360.47" rx="6.56" ry="6.56" fill="url(#hB)" />
<ellipse cx="156.03" cy="360.47" rx="5.25" ry="5.25" fill="#1a22ff" />
<ellipse cx="156.03" cy="360.47" rx="3.88" ry="3.88" fill="#00c8ff" />
<ellipse cx="156.03" cy="360.47" rx="3.04" ry="3.04" fill="#30ff50" />
<ellipse cx="156.03" cy="360.47" rx="2.36" ry="2.36" fill="#ffe000" />
<ellipse cx="156.03" cy="360.47" rx="1.73" ry="1.73" fill="#ff0000" />
</g>
<g filter="url(#rough2)">
<ellipse cx="147.98" cy="359.96" rx="5.25" ry="5.25" fill="url(#hB)" />
<ellipse cx="147.98" cy="359.96" rx="4.20" ry="4.20" fill="#1a22ff" />
<ellipse cx="147.98" cy="359.96" rx="3.11" ry="3.11" fill="#00c8ff" />
<ellipse cx="147.98" cy="359.96" rx="2.44" ry="2.44" fill="#30ff50" />
<ellipse cx="147.98" cy="359.96" rx="1.89" ry="1.89" fill="#ffe000" />
</g>
<g filter="url(#rough2)">
<ellipse cx="147.98" cy="352.82" rx="4.59" ry="4.59" fill="url(#hB)" />
<ellipse cx="147.98" cy="352.82" rx="3.68" ry="3.68" fill="#1a22ff" />
<ellipse cx="147.98" cy="352.82" rx="2.72" ry="2.72" fill="#00c8ff" />
<ellipse cx="147.98" cy="352.82" rx="2.13" ry="2.13" fill="#30ff50" />
</g>
</g>
<g clip-path="url(#cc211)">
<rect x="171.40" y="336.50" width="32.20" height="51.00" fill="url(#bgG)" filter="url(#tex)"/>
<ellipse cx="187.50" cy="383.42" rx="10.30" ry="3.57" fill="#5c5c5c" filter="url(#soft)"/>
<ellipse cx="187.50" cy="343.64" rx="4.83" ry="5.10" fill="#8e8e8e" filter="url(#soft)"/>
<path d="M187.50,346.19 C192.01,346.19 195.23,347.72 196.19,351.80 C197.48,356.90 197.16,363.02 197.16,368.12 C197.16,374.24 194.58,377.30 187.50,377.30 C180.42,377.30 177.84,374.24 177.84,368.12 C177.84,363.02 177.52,356.90 178.81,351.80 C179.77,347.72 182.99,346.19 187.50,346.19 Z" fill="url(#bodyG)" stroke="none" stroke-width="1" filter="url(#soft)"/>
<ellipse cx="178.48" cy="349.76" rx="2.09" ry="2.04" fill="#dadada" filter="url(#soft)"/>
<ellipse cx="196.52" cy="349.76" rx="2.09" ry="2.04" fill="#dadada" filter="url(#soft)"/>
<ellipse cx="184.28" cy="351.80" rx="12.24" ry="12.75" fill="#7f00ff" filter="url(#rough)"/>
<g filter="url(#rough2)">
<ellipse cx="192.65" cy="352.82" rx="5.25" ry="5.25" fill="url(#hB)" />
<ellipse cx="192.65" cy="352.82" rx="4.20" ry="4.20" fill="#1a22ff" />
<ellipse cx="192.65" cy="352.82" rx="3.11" ry="3.11" fill="#00c8ff" />
<ellipse cx="192.65" cy="352.82" rx="2.44" ry="2.44" fill="#30ff50" />
</g>
</g>
<g clip-path="url(#cc212)">
<rect x="204.80" y="336.50" width="32.20" height="51.00" fill="url(#bgG)" filter="url(#tex)"/>
<ellipse cx="220.90" cy="383.42" rx="10.30" ry="3.57" fill="#5c5c5c" filter="url(#soft)"/>
<ellipse cx="220.90" cy="343.64" rx="4.83" ry="5.10" fill="#8e8e8e" filter="url(#soft)"/>
<path d="M220.90,346.19 C225.41,346.19 228.63,347.72 229.59,351.80 C230.88,356.90 230.56,363.02 230.56,368.12 C230.56,374.24 227.98,377.30 220.90,377.30 C213.82,377.30 211.24,374.24 211.24,368.12 C211.24,363.02 210.92,356.90 212.21,351.80 C213.17,347.72 216.39,346.19 220.90,346.19 Z" fill="url(#bodyG)" stroke="none" stroke-width="1" filter="url(#soft)"/>
<ellipse cx="211.88" cy="349.76" rx="2.09" ry="2.04" fill="#dadada" filter="url(#soft)"/>
<ellipse cx="229.92" cy="349.76" rx="2.09" ry="2.04" fill="#dadada" filter="url(#soft)"/>
<ellipse cx="221.87" cy="360.47" rx="13.20" ry="18.87" fill="#7f00ff" filter="url(#rough)"/>
<g filter="url(#rough2)">
<ellipse cx="217.04" cy="357.92" rx="4.59" ry="4.59" fill="url(#hB)" />
<ellipse cx="217.04" cy="357.92" rx="3.68" ry="3.68" fill="#1a22ff" />
<ellipse cx="217.04" cy="357.92" rx="2.72" ry="2.72" fill="#00c8ff" />
</g>
<g filter="url(#rough2)">
<ellipse cx="224.44" cy="358.94" rx="3.94" ry="3.94" fill="url(#hB)" />
<ellipse cx="224.44" cy="358.94" rx="3.15" ry="3.15" fill="#1a22ff" />
<ellipse cx="224.44" cy="358.94" rx="2.33" ry="2.33" fill="#00c8ff" />
</g>
<g filter="url(#rough2)">
<ellipse cx="227.34" cy="358.94" rx="3.28" ry="3.28" fill="url(#hB)" />
<ellipse cx="227.34" cy="358.94" rx="2.10" ry="2.10" fill="#1a22ff" />
</g>
<g filter="url(#rough2)">
<ellipse cx="218.32" cy="351.80" rx="3.28" ry="3.28" fill="url(#hB)" />
<ellipse cx="218.32" cy="351.80" rx="2.10" ry="2.10" fill="#1a22ff" />
</g>
</g>
<g clip-path="url(#cc220)">
<rect x="242.30" y="336.50" width="32.47" height="51.00" fill="url(#bgG)" filter="url(#tex)"/>
<ellipse cx="258.53" cy="383.42" rx="10.39" ry="3.57" fill="#5c5c5c" filter="url(#soft)"/>
<ellipse cx="258.53" cy="343.64" rx="4.87" ry="5.10" fill="#8e8e8e" filter="url(#soft)"/>
<path d="M258.53,346.19 C263.08,346.19 266.33,347.72 267.30,351.80 C268.60,356.90 268.27,363.02 268.27,368.12 C268.27,374.24 265.68,377.30 258.53,377.30 C251.39,377.30 248.79,374.24 248.79,368.12 C248.79,363.02 248.47,356.90 249.77,351.80 C250.74,347.72 253.99,346.19 258.53,346.19 Z" fill="url(#bodyG)" stroke="none" stroke-width="1" filter="url(#soft)"/>
<ellipse cx="249.44" cy="349.76" rx="2.11" ry="2.04" fill="#dadada" filter="url(#soft)"/>
<ellipse cx="267.62" cy="349.76" rx="2.11" ry="2.04" fill="#dadada" filter="url(#soft)"/>
<ellipse cx="255.29" cy="357.92" rx="8.77" ry="9.18" fill="#7f00ff" filter="url(#rough)"/>
<ellipse cx="256.91" cy="369.14" rx="9.74" ry="4.08" fill="#e6e6e6" filter="url(#rough)"/>
<ellipse cx="261.13" cy="380.87" rx="10.71" ry="7.14" fill="#7f00ff" filter="url(#rough)"/>
<g filter="url(#rough2)">
<ellipse cx="266.97" cy="383.42" rx="5.25" ry="5.25" fill="url(#hB)" />
<ellipse cx="266.97" cy="383.42" rx="4.20" ry="4.20" fill="#1a22ff" />
<ellipse cx="266.97" cy="383.42" rx="3.11" ry="3.11" fill="#00c8ff" />
</g>
</g>
<g clip-path="url(#cc221)">
<rect x="275.97" y="336.50" width="32.47" height="51.00" fill="url(#bgG)" filter="url(#tex)"/>
<ellipse cx="292.20" cy="383.42" rx="10.39" ry="3.57" fill="#5c5c5c" filter="url(#soft)"/>
<ellipse cx="292.20" cy="343.64" rx="4.87" ry="5.10" fill="#8e8e8e" filter="url(#soft)"/>
<path d="M292.20,346.19 C296.75,346.19 299.99,347.72 300.97,351.80 C302.26,356.90 301.94,363.02 301.94,368.12 C301.94,374.24 299.34,377.30 292.20,377.30 C285.06,377.30 282.46,374.24 282.46,368.12 C282.46,363.02 282.14,356.90 283.43,351.80 C284.41,347.72 287.65,346.19 292.20,346.19 Z" fill="url(#bodyG)" stroke="none" stroke-width="1" filter="url(#soft)"/>
<ellipse cx="283.11" cy="349.76" rx="2.11" ry="2.04" fill="#dadada" filter="url(#soft)"/>
<ellipse cx="301.29" cy="349.76" rx="2.11" ry="2.04" fill="#dadada" filter="url(#soft)"/>
<ellipse cx="294.15" cy="357.92" rx="12.34" ry="13.77" fill="#7f00ff" filter="url(#rough)"/>
<g filter="url(#rough2)">
<ellipse cx="298.69" cy="361.49" rx="5.91" ry="5.91" fill="url(#hB)" />
<ellipse cx="298.69" cy="361.49" rx="4.73" ry="4.73" fill="#1a22ff" />
<ellipse cx="298.69" cy="361.49" rx="3.50" ry="3.50" fill="#00c8ff" />
<ellipse cx="298.69" cy="361.49" rx="2.74" ry="2.74" fill="#30ff50" />
</g>
<g filter="url(#rough2)">
<ellipse cx="286.68" cy="353.33" rx="3.94" ry="3.94" fill="url(#hB)" />
<ellipse cx="286.68" cy="353.33" rx="2.52" ry="2.52" fill="#1a22ff" />
</g>
<g filter="url(#rough2)">
<ellipse cx="292.20" cy="359.45" rx="3.28" ry="3.28" fill="url(#hB)" />
<ellipse cx="292.20" cy="359.45" rx="2.10" ry="2.10" fill="#1a22ff" />
</g>
</g>
<g clip-path="url(#cc222)">
<rect x="309.63" y="336.50" width="32.47" height="51.00" fill="url(#bgG)" filter="url(#tex)"/>
<ellipse cx="325.87" cy="383.42" rx="10.39" ry="3.57" fill="#5c5c5c" filter="url(#soft)"/>
<ellipse cx="325.87" cy="343.64" rx="4.87" ry="5.10" fill="#8e8e8e" filter="url(#soft)"/>
<path d="M325.87,346.19 C330.41,346.19 333.66,347.72 334.63,351.80 C335.93,356.90 335.61,363.02 335.61,368.12 C335.61,374.24 333.01,377.30 325.87,377.30 C318.72,377.30 316.13,374.24 316.13,368.12 C316.13,363.02 315.80,356.90 317.10,351.80 C318.07,347.72 321.32,346.19 325.87,346.19 Z" fill="url(#bodyG)" stroke="none" stroke-width="1" filter="url(#soft)"/>
<ellipse cx="316.78" cy="349.76" rx="2.11" ry="2.04" fill="#dadada" filter="url(#soft)"/>
<ellipse cx="334.96" cy="349.76" rx="2.11" ry="2.04" fill="#dadada" filter="url(#soft)"/>
<ellipse cx="328.14" cy="357.41" rx="11.36" ry="12.75" fill="#7f00ff" filter="url(#rough)"/>
<g filter="url(#rough2)">
<ellipse cx="323.59" cy="360.47" rx="5.25" ry="5.25" fill="url(#hB)" />
<ellipse cx="323.59" cy="360.47" rx="4.20" ry="4.20" fill="#1a22ff" />
<ellipse cx="323.59" cy="360.47" rx="3.11" ry="3.11" fill="#00c8ff" />
<ellipse cx="323.59" cy="360.47" rx="2.44" ry="2.44" fill="#30ff50" />
</g>
<g filter="url(#rough2)">
<ellipse cx="333.01" cy="359.96" rx="5.25" ry="5.25" fill="url(#hB)" />
<ellipse cx="333.01" cy="359.96" rx="4.20" ry="4.20" fill="#1a22ff" />
<ellipse cx="333.01" cy="359.96" rx="3.11" ry="3.11" fill="#00c8ff" />
<ellipse cx="333.01" cy="359.96" rx="2.44" ry="2.44" fill="#30ff50" />
</g>
<g filter="url(#rough2)">
<ellipse cx="324.24" cy="353.33" rx="3.28" ry="3.28" fill="url(#hB)" />
<ellipse cx="324.24" cy="353.33" rx="2.10" ry="2.10" fill="#1a22ff" />
</g>
</g>
<g clip-path="url(#cc230)">
<rect x="346.90" y="336.50" width="32.43" height="51.00" fill="url(#bgG)" filter="url(#tex)"/>
<ellipse cx="363.12" cy="383.42" rx="10.38" ry="3.57" fill="#5c5c5c" filter="url(#soft)"/>
<ellipse cx="363.12" cy="344.66" rx="4.87" ry="5.10" fill="#c4c4c4" filter="url(#soft)"/>
<path d="M363.12,346.70 C367.48,346.70 370.59,348.38 371.52,352.87 C372.77,358.48 372.46,365.21 372.46,370.82 C372.46,377.56 369.97,380.92 363.12,380.92 C356.27,380.92 353.78,377.56 353.78,370.82 C353.78,365.21 353.46,358.48 354.71,352.87 C355.64,348.38 358.76,346.70 363.12,346.70 Z" fill="url(#bodyG)" stroke="none" stroke-width="1" filter="url(#soft)"/>
<ellipse cx="354.04" cy="345.17" rx="2.11" ry="2.04" fill="#dadada" filter="url(#soft)"/>
<ellipse cx="372.20" cy="345.17" rx="2.11" ry="2.04" fill="#dadada" filter="url(#soft)"/>
<ellipse cx="363.44" cy="357.92" rx="10.05" ry="9.18" fill="#7f00ff" filter="url(#rough)"/>
<g filter="url(#rough)">
<ellipse cx="361.50" cy="355.88" rx="8.11" ry="6.38" fill="url(#hB)" />
<ellipse cx="361.50" cy="355.88" rx="6.49" ry="5.10" fill="#1a22ff" />
</g>
<g filter="url(#rough2)">
<ellipse cx="367.01" cy="360.47" rx="5.25" ry="5.25" fill="url(#hB)" />
<ellipse cx="367.01" cy="360.47" rx="4.20" ry="4.20" fill="#1a22ff" />
<ellipse cx="367.01" cy="360.47" rx="3.11" ry="3.11" fill="#00c8ff" />
</g>
<g filter="url(#rough2)">
<ellipse cx="356.63" cy="351.80" rx="3.94" ry="3.94" fill="url(#hB)" />
<ellipse cx="356.63" cy="351.80" rx="2.52" ry="2.52" fill="#1a22ff" />
</g>
</g>
<g clip-path="url(#cc231)">
<rect x="380.53" y="336.50" width="32.43" height="51.00" fill="url(#bgG)" filter="url(#tex)"/>
<ellipse cx="396.75" cy="383.42" rx="10.38" ry="3.57" fill="#5c5c5c" filter="url(#soft)"/>
<ellipse cx="396.75" cy="344.66" rx="4.87" ry="5.10" fill="#c4c4c4" filter="url(#soft)"/>
<path d="M396.75,346.70 C401.11,346.70 404.22,348.38 405.16,352.87 C406.40,358.48 406.09,365.21 406.09,370.82 C406.09,377.56 403.60,380.92 396.75,380.92 C389.90,380.92 387.41,377.56 387.41,370.82 C387.41,365.21 387.10,358.48 388.34,352.87 C389.28,348.38 392.39,346.70 396.75,346.70 Z" fill="url(#bodyG)" stroke="none" stroke-width="1" filter="url(#soft)"/>
<ellipse cx="387.67" cy="345.17" rx="2.11" ry="2.04" fill="#dadada" filter="url(#soft)"/>
<ellipse cx="405.83" cy="345.17" rx="2.11" ry="2.04" fill="#dadada" filter="url(#soft)"/>
<ellipse cx="400.32" cy="353.84" rx="8.76" ry="10.20" fill="#7f00ff" filter="url(#rough)"/>
<g filter="url(#rough2)">
<ellipse cx="401.61" cy="355.37" rx="5.25" ry="5.25" fill="url(#hB)" />
<ellipse cx="401.61" cy="355.37" rx="4.20" ry="4.20" fill="#1a22ff" />
<ellipse cx="401.61" cy="355.37" rx="3.11" ry="3.11" fill="#00c8ff" />
</g>
</g>
<g clip-path="url(#cc232)">
<rect x="414.17" y="336.50" width="32.43" height="51.00" fill="url(#bgG)" filter="url(#tex)"/>
<ellipse cx="430.38" cy="383.42" rx="10.38" ry="3.57" fill="#5c5c5c" filter="url(#soft)"/>
<ellipse cx="430.38" cy="344.66" rx="4.87" ry="5.10" fill="#c4c4c4" filter="url(#soft)"/>
<path d="M430.38,346.70 C434.74,346.70 437.86,348.38 438.79,352.87 C440.04,358.48 439.72,365.21 439.72,370.82 C439.72,377.56 437.23,380.92 430.38,380.92 C423.53,380.92 421.04,377.56 421.04,370.82 C421.04,365.21 420.73,358.48 421.98,352.87 C422.91,348.38 426.02,346.70 430.38,346.70 Z" fill="url(#bodyG)" stroke="none" stroke-width="1" filter="url(#soft)"/>
<ellipse cx="421.30" cy="345.17" rx="2.11" ry="2.04" fill="#dadada" filter="url(#soft)"/>
<ellipse cx="439.46" cy="345.17" rx="2.11" ry="2.04" fill="#dadada" filter="url(#soft)"/>
<ellipse cx="432.33" cy="354.86" rx="11.35" ry="16.32" fill="#7f00ff" filter="url(#rough)"/>
<g filter="url(#rough2)">
<ellipse cx="430.06" cy="351.29" rx="9.19" ry="9.19" fill="url(#hB)" />
<ellipse cx="430.06" cy="351.29" rx="7.35" ry="7.35" fill="#1a22ff" />
<ellipse cx="430.06" cy="351.29" rx="5.44" ry="5.44" fill="#00c8ff" />
<ellipse cx="430.06" cy="351.29" rx="4.26" ry="4.26" fill="#30ff50" />
<ellipse cx="430.06" cy="351.29" rx="3.31" ry="3.31" fill="#ffe000" />
<ellipse cx="430.06" cy="351.29" rx="2.43" ry="2.43" fill="#ff0000" />
</g>
<g filter="url(#rough2)">
<ellipse cx="438.17" cy="363.53" rx="3.94" ry="3.94" fill="url(#hB)" />
<ellipse cx="438.17" cy="363.53" rx="2.52" ry="2.52" fill="#1a22ff" />
</g>
</g>
<g clip-path="url(#cc240)">
<rect x="451.90" y="336.50" width="32.20" height="51.00" fill="url(#bgG)" filter="url(#tex)"/>
<ellipse cx="468.00" cy="383.42" rx="10.30" ry="3.57" fill="#5c5c5c" filter="url(#soft)"/>
<ellipse cx="468.00" cy="344.66" rx="4.83" ry="5.10" fill="#c4c4c4" filter="url(#soft)"/>
<path d="M468.00,346.70 C472.33,346.70 475.42,348.38 476.35,352.87 C477.58,358.48 477.27,365.21 477.27,370.82 C477.27,377.56 474.80,380.92 468.00,380.92 C461.20,380.92 458.73,377.56 458.73,370.82 C458.73,365.21 458.42,358.48 459.65,352.87 C460.58,348.38 463.67,346.70 468.00,346.70 Z" fill="url(#bodyG)" stroke="none" stroke-width="1" filter="url(#soft)"/>
<ellipse cx="458.98" cy="345.17" rx="2.09" ry="2.04" fill="#dadada" filter="url(#soft)"/>
<ellipse cx="477.02" cy="345.17" rx="2.09" ry="2.04" fill="#dadada" filter="url(#soft)"/>
</g>
<g clip-path="url(#cc241)">
<rect x="485.30" y="336.50" width="32.20" height="51.00" fill="url(#bgG)" filter="url(#tex)"/>
<ellipse cx="501.40" cy="383.42" rx="10.30" ry="3.57" fill="#5c5c5c" filter="url(#soft)"/>
<ellipse cx="501.40" cy="344.66" rx="4.83" ry="5.10" fill="#c4c4c4" filter="url(#soft)"/>
<path d="M501.40,346.70 C505.73,346.70 508.82,348.38 509.75,352.87 C510.98,358.48 510.67,365.21 510.67,370.82 C510.67,377.56 508.20,380.92 501.40,380.92 C494.60,380.92 492.13,377.56 492.13,370.82 C492.13,365.21 491.82,358.48 493.05,352.87 C493.98,348.38 497.07,346.70 501.40,346.70 Z" fill="url(#bodyG)" stroke="none" stroke-width="1" filter="url(#soft)"/>
<ellipse cx="492.38" cy="345.17" rx="2.09" ry="2.04" fill="#dadada" filter="url(#soft)"/>
<ellipse cx="510.42" cy="345.17" rx="2.09" ry="2.04" fill="#dadada" filter="url(#soft)"/>
<ellipse cx="503.33" cy="357.92" rx="11.27" ry="13.26" fill="#7f00ff" filter="url(#rough)"/>
<g filter="url(#rough)">
<ellipse cx="501.40" cy="357.92" rx="8.85" ry="8.93" fill="url(#hB)" />
<ellipse cx="501.40" cy="357.92" rx="7.08" ry="7.14" fill="#1a22ff" />
</g>
<g filter="url(#rough2)">
<ellipse cx="496.89" cy="354.35" rx="3.94" ry="3.94" fill="url(#hB)" />
<ellipse cx="496.89" cy="354.35" rx="2.52" ry="2.52" fill="#1a22ff" />
</g>
<g filter="url(#rough2)">
<ellipse cx="504.62" cy="360.47" rx="4.59" ry="4.59" fill="url(#hB)" />
<ellipse cx="504.62" cy="360.47" rx="2.94" ry="2.94" fill="#1a22ff" />
</g>
</g>
<g clip-path="url(#cc242)">
<rect x="518.70" y="336.50" width="32.20" height="51.00" fill="url(#bgG)" filter="url(#tex)"/>
<ellipse cx="534.80" cy="383.42" rx="10.30" ry="3.57" fill="#5c5c5c" filter="url(#soft)"/>
<ellipse cx="534.80" cy="344.66" rx="4.83" ry="5.10" fill="#c4c4c4" filter="url(#soft)"/>
<path d="M534.80,346.70 C539.13,346.70 542.22,348.38 543.15,352.87 C544.38,358.48 544.07,365.21 544.07,370.82 C544.07,377.56 541.60,380.92 534.80,380.92 C528.00,380.92 525.53,377.56 525.53,370.82 C525.53,365.21 525.22,358.48 526.45,352.87 C527.38,348.38 530.47,346.70 534.80,346.70 Z" fill="url(#bodyG)" stroke="none" stroke-width="1" filter="url(#soft)"/>
<ellipse cx="525.78" cy="345.17" rx="2.09" ry="2.04" fill="#dadada" filter="url(#soft)"/>
<ellipse cx="543.82" cy="345.17" rx="2.09" ry="2.04" fill="#dadada" filter="url(#soft)"/>
<ellipse cx="540.27" cy="357.92" rx="1.30" ry="1.30" fill="#6a00ff" />
<ellipse cx="535.77" cy="360.47" rx="1.00" ry="1.00" fill="#6a00ff" />
<ellipse cx="529.97" cy="354.86" rx="1.00" ry="1.00" fill="#6a00ff" />
</g>
<g clip-path="url(#cc250)">
<rect x="555.90" y="336.50" width="32.07" height="51.00" fill="url(#bgG)" filter="url(#tex)"/>
<ellipse cx="571.93" cy="383.42" rx="10.26" ry="3.57" fill="#5c5c5c" filter="url(#soft)"/>
<ellipse cx="571.93" cy="344.66" rx="4.81" ry="5.10" fill="#c4c4c4" filter="url(#soft)"/>
<path d="M571.93,346.70 C576.24,346.70 579.32,348.38 580.25,352.87 C581.48,358.48 581.17,365.21 581.17,370.82 C581.17,377.56 578.71,380.92 571.93,380.92 C565.16,380.92 562.70,377.56 562.70,370.82 C562.70,365.21 562.39,358.48 563.62,352.87 C564.55,348.38 567.62,346.70 571.93,346.70 Z" fill="url(#bodyG2)" stroke="none" stroke-width="1" filter="url(#soft)"/>
<ellipse cx="562.95" cy="345.17" rx="2.08" ry="2.04" fill="#dadada" filter="url(#soft)"/>
<ellipse cx="580.91" cy="345.17" rx="2.08" ry="2.04" fill="#dadada" filter="url(#soft)"/>
<ellipse cx="570.65" cy="354.86" rx="8.66" ry="10.20" fill="#7f00ff" filter="url(#rough)"/>
<g filter="url(#rough2)">
<ellipse cx="566.16" cy="357.41" rx="4.59" ry="4.59" fill="url(#hB)" />
<ellipse cx="566.16" cy="357.41" rx="3.68" ry="3.68" fill="#1a22ff" />
<ellipse cx="566.16" cy="357.41" rx="2.72" ry="2.72" fill="#00c8ff" />
<ellipse cx="566.16" cy="357.41" rx="2.13" ry="2.13" fill="#30ff50" />
</g>
<g filter="url(#rough2)">
<ellipse cx="574.18" cy="357.92" rx="4.59" ry="4.59" fill="url(#hB)" />
<ellipse cx="574.18" cy="357.92" rx="3.68" ry="3.68" fill="#1a22ff" />
<ellipse cx="574.18" cy="357.92" rx="2.72" ry="2.72" fill="#00c8ff" />
</g>
<g filter="url(#rough2)">
<ellipse cx="566.80" cy="350.78" rx="3.94" ry="3.94" fill="url(#hB)" />
<ellipse cx="566.80" cy="350.78" rx="2.52" ry="2.52" fill="#1a22ff" />
</g>
</g>
<g clip-path="url(#cc251)">
<rect x="589.17" y="336.50" width="32.07" height="51.00" fill="url(#bgG)" filter="url(#tex)"/>
<ellipse cx="605.20" cy="383.42" rx="10.26" ry="3.57" fill="#5c5c5c" filter="url(#soft)"/>
<ellipse cx="605.20" cy="344.66" rx="4.81" ry="5.10" fill="#c4c4c4" filter="url(#soft)"/>
<path d="M605.20,346.70 C609.51,346.70 612.59,348.38 613.51,352.87 C614.74,358.48 614.44,365.21 614.44,370.82 C614.44,377.56 611.97,380.92 605.20,380.92 C598.43,380.92 595.96,377.56 595.96,370.82 C595.96,365.21 595.66,358.48 596.89,352.87 C597.81,348.38 600.89,346.70 605.20,346.70 Z" fill="url(#bodyG2)" stroke="none" stroke-width="1" filter="url(#soft)"/>
<ellipse cx="596.22" cy="345.17" rx="2.08" ry="2.04" fill="#dadada" filter="url(#soft)"/>
<ellipse cx="614.18" cy="345.17" rx="2.08" ry="2.04" fill="#dadada" filter="url(#soft)"/>
<ellipse cx="604.24" cy="356.90" rx="7.70" ry="10.20" fill="#7f00ff" filter="url(#rough)"/>
<g filter="url(#rough2)">
<ellipse cx="607.44" cy="353.84" rx="6.56" ry="6.56" fill="url(#hB)" />
<ellipse cx="607.44" cy="353.84" rx="5.25" ry="5.25" fill="#1a22ff" />
<ellipse cx="607.44" cy="353.84" rx="3.88" ry="3.88" fill="#00c8ff" />
<ellipse cx="607.44" cy="353.84" rx="3.04" ry="3.04" fill="#30ff50" />
<ellipse cx="607.44" cy="353.84" rx="2.36" ry="2.36" fill="#ffe000" />
</g>
</g>
<g clip-path="url(#cc252)">
<rect x="622.43" y="336.50" width="32.07" height="51.00" fill="url(#bgG)" filter="url(#tex)"/>
<ellipse cx="638.47" cy="383.42" rx="10.26" ry="3.57" fill="#5c5c5c" filter="url(#soft)"/>
<ellipse cx="638.47" cy="344.66" rx="4.81" ry="5.10" fill="#c4c4c4" filter="url(#soft)"/>
<path d="M638.47,346.70 C642.78,346.70 645.85,348.38 646.78,352.87 C648.01,358.48 647.70,365.21 647.70,370.82 C647.70,377.56 645.24,380.92 638.47,380.92 C631.69,380.92 629.23,377.56 629.23,370.82 C629.23,365.21 628.92,358.48 630.15,352.87 C631.08,348.38 634.16,346.70 638.47,346.70 Z" fill="url(#bodyG2)" stroke="none" stroke-width="1" filter="url(#soft)"/>
<ellipse cx="629.49" cy="345.17" rx="2.08" ry="2.04" fill="#dadada" filter="url(#soft)"/>
<ellipse cx="647.45" cy="345.17" rx="2.08" ry="2.04" fill="#dadada" filter="url(#soft)"/>
<ellipse cx="637.50" cy="354.86" rx="10.58" ry="9.18" fill="#7f00ff" filter="url(#rough)"/>
<g filter="url(#rough2)">
<ellipse cx="633.02" cy="355.37" rx="6.56" ry="6.56" fill="url(#hB)" />
<ellipse cx="633.02" cy="355.37" rx="5.25" ry="5.25" fill="#1a22ff" />
<ellipse cx="633.02" cy="355.37" rx="3.88" ry="3.88" fill="#00c8ff" />
<ellipse cx="633.02" cy="355.37" rx="3.04" ry="3.04" fill="#30ff50" />
<ellipse cx="633.02" cy="355.37" rx="2.36" ry="2.36" fill="#ffe000" />
<ellipse cx="633.02" cy="355.37" rx="1.73" ry="1.73" fill="#ff0000" />
</g>
<g filter="url(#rough2)">
<ellipse cx="645.84" cy="356.90" rx="4.59" ry="4.59" fill="url(#hB)" />
<ellipse cx="645.84" cy="356.90" rx="2.94" ry="2.94" fill="#1a22ff" />
</g>
</g>
<g clip-path="url(#cc300)">
<rect x="33.10" y="394.00" width="32.33" height="51.50" fill="url(#bgG)" filter="url(#tex)"/>
<ellipse cx="49.27" cy="441.38" rx="10.35" ry="3.61" fill="#5c5c5c" filter="url(#soft)"/>
<ellipse cx="49.27" cy="401.21" rx="4.85" ry="5.15" fill="#8e8e8e" filter="url(#soft)"/>
<path d="M49.27,403.79 C53.79,403.79 57.03,405.33 58.00,409.45 C59.29,414.60 58.97,420.78 58.97,425.93 C58.97,432.11 56.38,435.20 49.27,435.20 C42.15,435.20 39.57,432.11 39.57,425.93 C39.57,420.78 39.24,414.60 40.54,409.45 C41.51,405.33 44.74,403.79 49.27,403.79 Z" fill="url(#bodyG)" stroke="none" stroke-width="1" filter="url(#soft)"/>
<ellipse cx="40.21" cy="407.39" rx="2.10" ry="2.06" fill="#dadada" filter="url(#soft)"/>
<ellipse cx="58.32" cy="407.39" rx="2.10" ry="2.06" fill="#dadada" filter="url(#soft)"/>
<ellipse cx="49.27" cy="422.32" rx="16.81" ry="25.75" fill="#7f00ff" filter="url(#rough)"/>
<g filter="url(#rough)">
<ellipse cx="47.00" cy="423.36" rx="12.13" ry="12.88" fill="url(#hB)" />
<ellipse cx="47.00" cy="423.36" rx="9.70" ry="10.30" fill="#1a22ff" />
<ellipse cx="47.00" cy="423.36" rx="7.76" ry="8.24" fill="#00c8ff" />
</g>
<g filter="url(#rough2)">
<ellipse cx="47.00" cy="424.38" rx="11.81" ry="11.81" fill="url(#hB)" />
<ellipse cx="47.00" cy="424.38" rx="9.45" ry="9.45" fill="#1a22ff" />
<ellipse cx="47.00" cy="424.38" rx="6.99" ry="6.99" fill="#00c8ff" />
<ellipse cx="47.00" cy="424.38" rx="5.48" ry="5.48" fill="#30ff50" />
<ellipse cx="47.00" cy="424.38" rx="4.25" ry="4.25" fill="#ffe000" />
<ellipse cx="47.00" cy="424.38" rx="3.12" ry="3.12" fill="#ff0000" />
</g>
<g filter="url(#rough2)">
<ellipse cx="50.88" cy="413.57" rx="3.94" ry="3.94" fill="url(#hB)" />
<ellipse cx="50.88" cy="413.57" rx="2.52" ry="2.52" fill="#1a22ff" />
</g>
</g>
<g clip-path="url(#cc301)">
<rect x="66.63" y="394.00" width="32.33" height="51.50" fill="url(#bgG)" filter="url(#tex)"/>
<ellipse cx="82.80" cy="441.38" rx="10.35" ry="3.61" fill="#5c5c5c" filter="url(#soft)"/>
<ellipse cx="82.80" cy="401.21" rx="4.85" ry="5.15" fill="#8e8e8e" filter="url(#soft)"/>
<path d="M82.80,403.79 C87.33,403.79 90.56,405.33 91.53,409.45 C92.82,414.60 92.50,420.78 92.50,425.93 C92.50,432.11 89.91,435.20 82.80,435.20 C75.69,435.20 73.10,432.11 73.10,425.93 C73.10,420.78 72.78,414.60 74.07,409.45 C75.04,405.33 78.27,403.79 82.80,403.79 Z" fill="url(#bodyG)" stroke="none" stroke-width="1" filter="url(#soft)"/>
<ellipse cx="73.75" cy="407.39" rx="2.10" ry="2.06" fill="#dadada" filter="url(#soft)"/>
<ellipse cx="91.85" cy="407.39" rx="2.10" ry="2.06" fill="#dadada" filter="url(#soft)"/>
<ellipse cx="82.80" cy="420.78" rx="17.14" ry="26.78" fill="#7f00ff" filter="url(#rough)"/>
<g filter="url(#rough)">
<ellipse cx="81.18" cy="415.63" rx="12.13" ry="12.88" fill="url(#hB)" />
<ellipse cx="81.18" cy="415.63" rx="9.70" ry="10.30" fill="#1a22ff" />
<ellipse cx="81.18" cy="415.63" rx="7.76" ry="8.24" fill="#00c8ff" />
</g>
<g filter="url(#rough2)">
<ellipse cx="75.36" cy="417.69" rx="6.56" ry="6.56" fill="url(#hB)" />
<ellipse cx="75.36" cy="417.69" rx="5.25" ry="5.25" fill="#1a22ff" />
<ellipse cx="75.36" cy="417.69" rx="3.88" ry="3.88" fill="#00c8ff" />
<ellipse cx="75.36" cy="417.69" rx="3.04" ry="3.04" fill="#30ff50" />
<ellipse cx="75.36" cy="417.69" rx="2.36" ry="2.36" fill="#ffe000" />
<ellipse cx="75.36" cy="417.69" rx="1.73" ry="1.73" fill="#ff0000" />
</g>
<g filter="url(#rough2)">
<ellipse cx="79.57" cy="410.48" rx="5.25" ry="5.25" fill="url(#hB)" />
<ellipse cx="79.57" cy="410.48" rx="4.20" ry="4.20" fill="#1a22ff" />
<ellipse cx="79.57" cy="410.48" rx="3.11" ry="3.11" fill="#00c8ff" />
<ellipse cx="79.57" cy="410.48" rx="2.44" ry="2.44" fill="#30ff50" />
</g>
<g filter="url(#rough2)">
<ellipse cx="84.42" cy="413.57" rx="4.59" ry="4.59" fill="url(#hB)" />
<ellipse cx="84.42" cy="413.57" rx="3.68" ry="3.68" fill="#1a22ff" />
<ellipse cx="84.42" cy="413.57" rx="2.72" ry="2.72" fill="#00c8ff" />
</g>
<g filter="url(#rough2)">
<ellipse cx="86.68" cy="417.69" rx="4.59" ry="4.59" fill="url(#hB)" />
<ellipse cx="86.68" cy="417.69" rx="3.68" ry="3.68" fill="#1a22ff" />
<ellipse cx="86.68" cy="417.69" rx="2.72" ry="2.72" fill="#00c8ff" />
</g>
<g filter="url(#rough2)">
<ellipse cx="84.42" cy="431.08" rx="3.28" ry="3.28" fill="url(#hB)" />
<ellipse cx="84.42" cy="431.08" rx="2.10" ry="2.10" fill="#1a22ff" />
</g>
</g>
<g clip-path="url(#cc302)">
<rect x="100.17" y="394.00" width="32.33" height="51.50" fill="url(#bgG)" filter="url(#tex)"/>
<ellipse cx="116.33" cy="441.38" rx="10.35" ry="3.61" fill="#5c5c5c" filter="url(#soft)"/>
<ellipse cx="116.33" cy="401.21" rx="4.85" ry="5.15" fill="#8e8e8e" filter="url(#soft)"/>
<path d="M116.33,403.79 C120.86,403.79 124.09,405.33 125.06,409.45 C126.36,414.60 126.03,420.78 126.03,425.93 C126.03,432.11 123.45,435.20 116.33,435.20 C109.22,435.20 106.63,432.11 106.63,425.93 C106.63,420.78 106.31,414.60 107.60,409.45 C108.57,405.33 111.81,403.79 116.33,403.79 Z" fill="url(#bodyG)" stroke="none" stroke-width="1" filter="url(#soft)"/>
<ellipse cx="107.28" cy="407.39" rx="2.10" ry="2.06" fill="#dadada" filter="url(#soft)"/>
<ellipse cx="125.39" cy="407.39" rx="2.10" ry="2.06" fill="#dadada" filter="url(#soft)"/>
<rect x="100.17" y="394.00" width="32.33" height="51.50" fill="#7f00ff" />
<g filter="url(#rough)">
<ellipse cx="117.30" cy="414.60" rx="11.96" ry="11.41" fill="#1a22ff" />
<ellipse cx="117.30" cy="414.60" rx="10.56" ry="10.01" fill="#00c8ff" />
<ellipse cx="117.30" cy="414.60" rx="9.66" ry="9.11" fill="#30ff50" />
<ellipse cx="117.30" cy="414.60" rx="8.76" ry="8.21" fill="#ffe000" />
<ellipse cx="117.30" cy="414.60" rx="7.76" ry="7.21" fill="#ff0000" />
</g>
<g filter="url(#rough2)">
<ellipse cx="117.95" cy="436.23" rx="3.94" ry="3.94" fill="url(#hB)" />
<ellipse cx="117.95" cy="436.23" rx="2.52" ry="2.52" fill="#1a22ff" />
</g>
</g>
<g clip-path="url(#cc310)">
<rect x="138.00" y="394.00" width="32.20" height="51.50" fill="url(#bgG)" filter="url(#tex)"/>
<ellipse cx="154.10" cy="441.38" rx="10.30" ry="3.61" fill="#5c5c5c" filter="url(#soft)"/>
<ellipse cx="154.10" cy="401.21" rx="4.83" ry="5.15" fill="#8e8e8e" filter="url(#soft)"/>
<path d="M154.10,403.79 C158.61,403.79 161.83,405.33 162.79,409.45 C164.08,414.60 163.76,420.78 163.76,425.93 C163.76,432.11 161.18,435.20 154.10,435.20 C147.02,435.20 144.44,432.11 144.44,425.93 C144.44,420.78 144.12,414.60 145.41,409.45 C146.37,405.33 149.59,403.79 154.10,403.79 Z" fill="url(#bodyG)" stroke="none" stroke-width="1" filter="url(#soft)"/>
<ellipse cx="145.08" cy="407.39" rx="2.09" ry="2.06" fill="#dadada" filter="url(#soft)"/>
<ellipse cx="163.12" cy="407.39" rx="2.09" ry="2.06" fill="#dadada" filter="url(#soft)"/>
<ellipse cx="153.13" cy="419.75" rx="17.07" ry="27.30" fill="#7f00ff" filter="url(#rough)"/>
<g filter="url(#rough)">
<ellipse cx="153.13" cy="418.20" rx="10.06" ry="10.30" fill="url(#hB)" />
<ellipse cx="153.13" cy="418.20" rx="8.05" ry="8.24" fill="#1a22ff" />
<ellipse cx="153.13" cy="418.20" rx="6.44" ry="6.59" fill="#00c8ff" />
<ellipse cx="153.13" cy="418.20" rx="4.99" ry="5.11" fill="#30ff50" />
<ellipse cx="153.13" cy="418.20" rx="3.70" ry="3.79" fill="#ffe000" />
<ellipse cx="153.13" cy="418.20" rx="2.58" ry="2.64" fill="#ff0000" />
</g>
<g filter="url(#rough2)">
<ellipse cx="150.56" cy="397.09" rx="4.59" ry="4.59" fill="url(#hB)" />
<ellipse cx="150.56" cy="397.09" rx="3.68" ry="3.68" fill="#1a22ff" />
<ellipse cx="150.56" cy="397.09" rx="2.72" ry="2.72" fill="#00c8ff" />
<ellipse cx="150.56" cy="397.09" rx="2.13" ry="2.13" fill="#30ff50" />
<ellipse cx="150.56" cy="397.09" rx="1.65" ry="1.65" fill="#ffe000" />
<ellipse cx="150.56" cy="397.09" rx="1.21" ry="1.21" fill="#ff0000" />
</g>
<g filter="url(#rough2)">
<ellipse cx="150.56" cy="406.88" rx="4.59" ry="4.59" fill="url(#hB)" />
<ellipse cx="150.56" cy="406.88" rx="3.68" ry="3.68" fill="#1a22ff" />
<ellipse cx="150.56" cy="406.88" rx="2.72" ry="2.72" fill="#00c8ff" />
<ellipse cx="150.56" cy="406.88" rx="2.13" ry="2.13" fill="#30ff50" />
<ellipse cx="150.56" cy="406.88" rx="1.65" ry="1.65" fill="#ffe000" />
<ellipse cx="150.56" cy="406.88" rx="1.21" ry="1.21" fill="#ff0000" />
</g>
<rect x="138.00" y="441.30" width="32.20" height="4.20" fill="#7e7e7e" />
</g>
<g clip-path="url(#cc311)">
<rect x="171.40" y="394.00" width="32.20" height="51.50" fill="url(#bgG)" filter="url(#tex)"/>
<ellipse cx="187.50" cy="441.38" rx="10.30" ry="3.61" fill="#5c5c5c" filter="url(#soft)"/>
<ellipse cx="187.50" cy="401.21" rx="4.83" ry="5.15" fill="#8e8e8e" filter="url(#soft)"/>
<path d="M187.50,403.79 C192.01,403.79 195.23,405.33 196.19,409.45 C197.48,414.60 197.16,420.78 197.16,425.93 C197.16,432.11 194.58,435.20 187.50,435.20 C180.42,435.20 177.84,432.11 177.84,425.93 C177.84,420.78 177.52,414.60 178.81,409.45 C179.77,405.33 182.99,403.79 187.50,403.79 Z" fill="url(#bodyG)" stroke="none" stroke-width="1" filter="url(#soft)"/>
<ellipse cx="178.48" cy="407.39" rx="2.09" ry="2.06" fill="#dadada" filter="url(#soft)"/>
<ellipse cx="196.52" cy="407.39" rx="2.09" ry="2.06" fill="#dadada" filter="url(#soft)"/>
<ellipse cx="185.25" cy="409.45" rx="11.27" ry="12.88" fill="#7f00ff" filter="url(#rough)"/>
<g filter="url(#rough2)">
<ellipse cx="181.38" cy="411.51" rx="4.59" ry="4.59" fill="url(#hB)" />
<ellipse cx="181.38" cy="411.51" rx="3.68" ry="3.68" fill="#1a22ff" />
<ellipse cx="181.38" cy="411.51" rx="2.72" ry="2.72" fill="#00c8ff" />
</g>
<g filter="url(#rough2)">
<ellipse cx="192.01" cy="411.51" rx="5.25" ry="5.25" fill="url(#hB)" />
<ellipse cx="192.01" cy="411.51" rx="4.20" ry="4.20" fill="#1a22ff" />
<ellipse cx="192.01" cy="411.51" rx="3.11" ry="3.11" fill="#00c8ff" />
<ellipse cx="192.01" cy="411.51" rx="2.44" ry="2.44" fill="#30ff50" />
<ellipse cx="192.01" cy="411.51" rx="1.89" ry="1.89" fill="#ffe000" />
<ellipse cx="192.01" cy="411.51" rx="1.39" ry="1.39" fill="#ff0000" />
</g>
<rect x="171.40" y="441.30" width="32.20" height="4.20" fill="#7e7e7e" />
</g>
<g clip-path="url(#cc312)">
<rect x="204.80" y="394.00" width="32.20" height="51.50" fill="url(#bgG)" filter="url(#tex)"/>
<ellipse cx="220.90" cy="441.38" rx="10.30" ry="3.61" fill="#5c5c5c" filter="url(#soft)"/>
<ellipse cx="220.90" cy="401.21" rx="4.83" ry="5.15" fill="#8e8e8e" filter="url(#soft)"/>
<path d="M220.90,403.79 C225.41,403.79 228.63,405.33 229.59,409.45 C230.88,414.60 230.56,420.78 230.56,425.93 C230.56,432.11 227.98,435.20 220.90,435.20 C213.82,435.20 211.24,432.11 211.24,425.93 C211.24,420.78 210.92,414.60 212.21,409.45 C213.17,405.33 216.39,403.79 220.90,403.79 Z" fill="url(#bodyG)" stroke="none" stroke-width="1" filter="url(#soft)"/>
<ellipse cx="211.88" cy="407.39" rx="2.09" ry="2.06" fill="#dadada" filter="url(#soft)"/>
<ellipse cx="229.92" cy="407.39" rx="2.09" ry="2.06" fill="#dadada" filter="url(#soft)"/>
<ellipse cx="220.90" cy="420.78" rx="16.74" ry="26.78" fill="#7f00ff" filter="url(#rough)"/>
<g filter="url(#rough)">
<ellipse cx="222.51" cy="416.66" rx="10.06" ry="7.72" fill="url(#hB)" />
<ellipse cx="222.51" cy="416.66" rx="8.05" ry="6.18" fill="#1a22ff" />
<ellipse cx="222.51" cy="416.66" rx="6.44" ry="4.94" fill="#00c8ff" />
<ellipse cx="222.51" cy="416.66" rx="4.99" ry="3.83" fill="#30ff50" />
</g>
<g filter="url(#rough2)">
<ellipse cx="216.07" cy="415.63" rx="5.25" ry="5.25" fill="url(#hB)" />
<ellipse cx="216.07" cy="415.63" rx="4.20" ry="4.20" fill="#1a22ff" />
<ellipse cx="216.07" cy="415.63" rx="3.11" ry="3.11" fill="#00c8ff" />
<ellipse cx="216.07" cy="415.63" rx="2.44" ry="2.44" fill="#30ff50" />
<ellipse cx="216.07" cy="415.63" rx="1.89" ry="1.89" fill="#ffe000" />
<ellipse cx="216.07" cy="415.63" rx="1.39" ry="1.39" fill="#ff0000" />
</g>
<g filter="url(#rough2)">
<ellipse cx="226.05" cy="432.62" rx="3.94" ry="3.94" fill="url(#hB)" />
<ellipse cx="226.05" cy="432.62" rx="2.52" ry="2.52" fill="#1a22ff" />
</g>
<rect x="204.80" y="441.30" width="32.20" height="4.20" fill="#7e7e7e" />
</g>
<g clip-path="url(#cc320)">
<rect x="242.30" y="394.00" width="32.47" height="51.50" fill="url(#bgG)" filter="url(#tex)"/>
<ellipse cx="258.53" cy="441.38" rx="10.39" ry="3.61" fill="#5c5c5c" filter="url(#soft)"/>
<ellipse cx="258.53" cy="401.21" rx="4.87" ry="5.15" fill="#8e8e8e" filter="url(#soft)"/>
<path d="M258.53,403.79 C263.08,403.79 266.33,405.33 267.30,409.45 C268.60,414.60 268.27,420.78 268.27,425.93 C268.27,432.11 265.68,435.20 258.53,435.20 C251.39,435.20 248.79,432.11 248.79,425.93 C248.79,420.78 248.47,414.60 249.77,409.45 C250.74,405.33 253.99,403.79 258.53,403.79 Z" fill="url(#bodyG)" stroke="none" stroke-width="1" filter="url(#soft)"/>
<ellipse cx="249.44" cy="407.39" rx="2.11" ry="2.06" fill="#dadada" filter="url(#soft)"/>
<ellipse cx="267.62" cy="407.39" rx="2.11" ry="2.06" fill="#dadada" filter="url(#soft)"/>
<ellipse cx="258.53" cy="420.78" rx="17.21" ry="27.30" fill="#7f00ff" filter="url(#rough)"/>
<g filter="url(#rough)">
<ellipse cx="257.56" cy="416.66" rx="8.93" ry="10.30" fill="url(#hB)" />
<ellipse cx="257.56" cy="416.66" rx="7.14" ry="8.24" fill="#1a22ff" />
<ellipse cx="257.56" cy="416.66" rx="5.71" ry="6.59" fill="#00c8ff" />
<ellipse cx="257.56" cy="416.66" rx="4.43" ry="5.11" fill="#30ff50" />
</g>
<g filter="url(#rough2)">
<ellipse cx="251.39" cy="417.69" rx="4.59" ry="4.59" fill="url(#hB)" />
<ellipse cx="251.39" cy="417.69" rx="3.68" ry="3.68" fill="#1a22ff" />
<ellipse cx="251.39" cy="417.69" rx="2.72" ry="2.72" fill="#00c8ff" />
<ellipse cx="251.39" cy="417.69" rx="2.13" ry="2.13" fill="#30ff50" />
<ellipse cx="251.39" cy="417.69" rx="1.65" ry="1.65" fill="#ffe000" />
<ellipse cx="251.39" cy="417.69" rx="1.21" ry="1.21" fill="#ff0000" />
</g>
<g filter="url(#rough2)">
<ellipse cx="260.16" cy="420.26" rx="4.59" ry="4.59" fill="url(#hB)" />
<ellipse cx="260.16" cy="420.26" rx="3.68" ry="3.68" fill="#1a22ff" />
<ellipse cx="260.16" cy="420.26" rx="2.72" ry="2.72" fill="#00c8ff" />
<ellipse cx="260.16" cy="420.26" rx="2.13" ry="2.13" fill="#30ff50" />
<ellipse cx="260.16" cy="420.26" rx="1.65" ry="1.65" fill="#ffe000" />
<ellipse cx="260.16" cy="420.26" rx="1.21" ry="1.21" fill="#ff0000" />
</g>
<g filter="url(#rough)">
<ellipse cx="266.33" cy="442.93" rx="6.49" ry="4.51" fill="url(#hB)" />
<ellipse cx="266.33" cy="442.93" rx="5.19" ry="3.61" fill="#1a22ff" />
<ellipse cx="266.33" cy="442.93" rx="4.16" ry="2.88" fill="#00c8ff" />
<ellipse cx="266.33" cy="442.93" rx="3.22" ry="2.24" fill="#30ff50" />
<ellipse cx="266.33" cy="442.93" rx="2.39" ry="1.66" fill="#ffe000" />
<ellipse cx="266.33" cy="442.93" rx="1.66" ry="1.15" fill="#ff0000" />
</g>
<g filter="url(#rough2)">
<ellipse cx="255.29" cy="437.77" rx="3.94" ry="3.94" fill="url(#hB)" />
<ellipse cx="255.29" cy="437.77" rx="3.15" ry="3.15" fill="#1a22ff" />
<ellipse cx="255.29" cy="437.77" rx="2.33" ry="2.33" fill="#00c8ff" />
</g>
<rect x="242.30" y="441.30" width="32.47" height="4.20" fill="#7e7e7e" />
</g>
<g clip-path="url(#cc321)">
<rect x="275.97" y="394.00" width="32.47" height="51.50" fill="url(#bgG)" filter="url(#tex)"/>
<ellipse cx="292.20" cy="441.38" rx="10.39" ry="3.61" fill="#5c5c5c" filter="url(#soft)"/>
<ellipse cx="292.20" cy="401.21" rx="4.87" ry="5.15" fill="#8e8e8e" filter="url(#soft)"/>
<path d="M292.20,403.79 C296.75,403.79 299.99,405.33 300.97,409.45 C302.26,414.60 301.94,420.78 301.94,425.93 C301.94,432.11 299.34,435.20 292.20,435.20 C285.06,435.20 282.46,432.11 282.46,425.93 C282.46,420.78 282.14,414.60 283.43,409.45 C284.41,405.33 287.65,403.79 292.20,403.79 Z" fill="url(#bodyG)" stroke="none" stroke-width="1" filter="url(#soft)"/>
<ellipse cx="283.11" cy="407.39" rx="2.11" ry="2.06" fill="#dadada" filter="url(#soft)"/>
<ellipse cx="301.29" cy="407.39" rx="2.11" ry="2.06" fill="#dadada" filter="url(#soft)"/>
<ellipse cx="292.20" cy="417.18" rx="14.93" ry="23.18" fill="#7f00ff" filter="url(#rough)"/>
<g filter="url(#rough)">
<ellipse cx="292.85" cy="416.14" rx="9.33" ry="10.30" fill="url(#hB)" />
<ellipse cx="292.85" cy="416.14" rx="7.47" ry="8.24" fill="#1a22ff" />
<ellipse cx="292.85" cy="416.14" rx="5.97" ry="6.59" fill="#00c8ff" />
<ellipse cx="292.85" cy="416.14" rx="4.63" ry="5.11" fill="#30ff50" />
<ellipse cx="292.85" cy="416.14" rx="3.43" ry="3.79" fill="#ffe000" />
<ellipse cx="292.85" cy="416.14" rx="2.39" ry="2.64" fill="#ff0000" />
</g>
<ellipse cx="292.20" cy="437.77" rx="9.74" ry="5.15" fill="#e6e6e6" filter="url(#rough)"/>
<rect x="275.97" y="441.30" width="32.47" height="4.20" fill="#7e7e7e" />
</g>
<g clip-path="url(#cc322)">
<rect x="309.63" y="394.00" width="32.47" height="51.50" fill="url(#bgG)" filter="url(#tex)"/>
<ellipse cx="325.87" cy="441.38" rx="10.39" ry="3.61" fill="#5c5c5c" filter="url(#soft)"/>
<ellipse cx="325.87" cy="401.21" rx="4.87" ry="5.15" fill="#8e8e8e" filter="url(#soft)"/>
<path d="M325.87,403.79 C330.41,403.79 333.66,405.33 334.63,409.45 C335.93,414.60 335.61,420.78 335.61,425.93 C335.61,432.11 333.01,435.20 325.87,435.20 C318.72,435.20 316.13,432.11 316.13,425.93 C316.13,420.78 315.80,414.60 317.10,409.45 C318.07,405.33 321.32,403.79 325.87,403.79 Z" fill="url(#bodyG)" stroke="none" stroke-width="1" filter="url(#soft)"/>
<ellipse cx="316.78" cy="407.39" rx="2.11" ry="2.06" fill="#dadada" filter="url(#soft)"/>
<ellipse cx="334.96" cy="407.39" rx="2.11" ry="2.06" fill="#dadada" filter="url(#soft)"/>
<ellipse cx="326.52" cy="414.60" rx="13.64" ry="18.02" fill="#7f00ff" filter="url(#rough)"/>
<g filter="url(#rough)">
<ellipse cx="328.14" cy="414.60" rx="8.93" ry="9.01" fill="url(#hB)" />
<ellipse cx="328.14" cy="414.60" rx="7.14" ry="7.21" fill="#1a22ff" />
<ellipse cx="328.14" cy="414.60" rx="5.71" ry="5.77" fill="#00c8ff" />
<ellipse cx="328.14" cy="414.60" rx="4.43" ry="4.47" fill="#30ff50" />
<ellipse cx="328.14" cy="414.60" rx="3.29" ry="3.32" fill="#ffe000" />
</g>
<ellipse cx="325.87" cy="436.75" rx="9.74" ry="5.15" fill="#e6e6e6" filter="url(#rough)"/>
<rect x="309.63" y="441.30" width="32.47" height="4.20" fill="#7e7e7e" />
</g>
<g clip-path="url(#cc330)">
<rect x="346.90" y="394.00" width="32.43" height="51.50" fill="url(#bgG)" filter="url(#tex)"/>
<ellipse cx="363.12" cy="441.38" rx="10.38" ry="3.61" fill="#5c5c5c" filter="url(#soft)"/>
<ellipse cx="363.12" cy="402.24" rx="4.87" ry="5.15" fill="#c4c4c4" filter="url(#soft)"/>
<path d="M363.12,404.30 C367.48,404.30 370.59,406.00 371.52,410.53 C372.77,416.20 372.46,422.99 372.46,428.66 C372.46,435.46 369.97,438.86 363.12,438.86 C356.27,438.86 353.78,435.46 353.78,428.66 C353.78,422.99 353.46,416.20 354.71,410.53 C355.64,406.00 358.76,404.30 363.12,404.30 Z" fill="url(#bodyG)" stroke="none" stroke-width="1" filter="url(#soft)"/>
<ellipse cx="354.04" cy="402.75" rx="2.11" ry="2.06" fill="#dadada" filter="url(#soft)"/>
<ellipse cx="372.20" cy="402.75" rx="2.11" ry="2.06" fill="#dadada" filter="url(#soft)"/>
<ellipse cx="363.12" cy="414.60" rx="12.65" ry="16.48" fill="#7f00ff" filter="url(#rough)"/>
<g filter="url(#rough)">
<ellipse cx="364.09" cy="415.63" rx="12.16" ry="10.94" fill="url(#hB)" />
<ellipse cx="364.09" cy="415.63" rx="9.73" ry="8.76" fill="#1a22ff" />
<ellipse cx="364.09" cy="415.63" rx="7.78" ry="7.00" fill="#00c8ff" />
<ellipse cx="364.09" cy="415.63" rx="6.03" ry="5.43" fill="#30ff50" />
</g>
<g filter="url(#rough2)">
<ellipse cx="368.63" cy="419.75" rx="5.25" ry="5.25" fill="url(#hB)" />
<ellipse cx="368.63" cy="419.75" rx="4.20" ry="4.20" fill="#1a22ff" />
<ellipse cx="368.63" cy="419.75" rx="3.11" ry="3.11" fill="#00c8ff" />
<ellipse cx="368.63" cy="419.75" rx="2.44" ry="2.44" fill="#30ff50" />
<ellipse cx="368.63" cy="419.75" rx="1.89" ry="1.89" fill="#ffe000" />
<ellipse cx="368.63" cy="419.75" rx="1.39" ry="1.39" fill="#ff0000" />
</g>
<g filter="url(#rough2)">
<ellipse cx="364.74" cy="418.72" rx="4.59" ry="4.59" fill="url(#hB)" />
<ellipse cx="364.74" cy="418.72" rx="3.68" ry="3.68" fill="#1a22ff" />
<ellipse cx="364.74" cy="418.72" rx="2.72" ry="2.72" fill="#00c8ff" />
<ellipse cx="364.74" cy="418.72" rx="2.13" ry="2.13" fill="#30ff50" />
<ellipse cx="364.74" cy="418.72" rx="1.65" ry="1.65" fill="#ffe000" />
</g>
<g filter="url(#rough2)">
<ellipse cx="357.60" cy="409.45" rx="3.94" ry="3.94" fill="url(#hB)" />
<ellipse cx="357.60" cy="409.45" rx="3.15" ry="3.15" fill="#1a22ff" />
<ellipse cx="357.60" cy="409.45" rx="2.33" ry="2.33" fill="#00c8ff" />
<ellipse cx="357.60" cy="409.45" rx="1.83" ry="1.83" fill="#30ff50" />
</g>
</g>
<g clip-path="url(#cc331)">
<rect x="380.53" y="394.00" width="32.43" height="51.50" fill="url(#bgG)" filter="url(#tex)"/>
<ellipse cx="396.75" cy="441.38" rx="10.38" ry="3.61" fill="#5c5c5c" filter="url(#soft)"/>
<ellipse cx="396.75" cy="402.24" rx="4.87" ry="5.15" fill="#c4c4c4" filter="url(#soft)"/>
<path d="M396.75,404.30 C401.11,404.30 404.22,406.00 405.16,410.53 C406.40,416.20 406.09,422.99 406.09,428.66 C406.09,435.46 403.60,438.86 396.75,438.86 C389.90,438.86 387.41,435.46 387.41,428.66 C387.41,422.99 387.10,416.20 388.34,410.53 C389.28,406.00 392.39,404.30 396.75,404.30 Z" fill="url(#bodyG)" stroke="none" stroke-width="1" filter="url(#soft)"/>
<ellipse cx="387.67" cy="402.75" rx="2.11" ry="2.06" fill="#dadada" filter="url(#soft)"/>
<ellipse cx="405.83" cy="402.75" rx="2.11" ry="2.06" fill="#dadada" filter="url(#soft)"/>
<ellipse cx="394.80" cy="413.57" rx="11.68" ry="17.00" fill="#7f00ff" filter="url(#rough)"/>
<g filter="url(#rough)">
<ellipse cx="396.75" cy="415.63" rx="10.14" ry="10.94" fill="url(#hB)" />
<ellipse cx="396.75" cy="415.63" rx="8.11" ry="8.76" fill="#1a22ff" />
<ellipse cx="396.75" cy="415.63" rx="6.49" ry="7.00" fill="#00c8ff" />
<ellipse cx="396.75" cy="415.63" rx="5.03" ry="5.43" fill="#30ff50" />
</g>
<g filter="url(#rough2)">
<ellipse cx="392.21" cy="411.51" rx="5.25" ry="5.25" fill="url(#hB)" />
<ellipse cx="392.21" cy="411.51" rx="4.20" ry="4.20" fill="#1a22ff" />
<ellipse cx="392.21" cy="411.51" rx="3.11" ry="3.11" fill="#00c8ff" />
<ellipse cx="392.21" cy="411.51" rx="2.44" ry="2.44" fill="#30ff50" />
<ellipse cx="392.21" cy="411.51" rx="1.89" ry="1.89" fill="#ffe000" />
<ellipse cx="392.21" cy="411.51" rx="1.39" ry="1.39" fill="#ff0000" />
</g>
<g filter="url(#rough2)">
<ellipse cx="401.61" cy="419.24" rx="5.25" ry="5.25" fill="url(#hB)" />
<ellipse cx="401.61" cy="419.24" rx="4.20" ry="4.20" fill="#1a22ff" />
<ellipse cx="401.61" cy="419.24" rx="3.11" ry="3.11" fill="#00c8ff" />
<ellipse cx="401.61" cy="419.24" rx="2.44" ry="2.44" fill="#30ff50" />
<ellipse cx="401.61" cy="419.24" rx="1.89" ry="1.89" fill="#ffe000" />
<ellipse cx="401.61" cy="419.24" rx="1.39" ry="1.39" fill="#ff0000" />
</g>
<g filter="url(#rough2)">
<ellipse cx="396.75" cy="417.18" rx="3.94" ry="3.94" fill="url(#hB)" />
<ellipse cx="396.75" cy="417.18" rx="3.15" ry="3.15" fill="#1a22ff" />
<ellipse cx="396.75" cy="417.18" rx="2.33" ry="2.33" fill="#00c8ff" />
<ellipse cx="396.75" cy="417.18" rx="1.83" ry="1.83" fill="#30ff50" />
<ellipse cx="396.75" cy="417.18" rx="1.42" ry="1.42" fill="#ffe000" />
<ellipse cx="396.75" cy="417.18" rx="1.04" ry="1.04" fill="#ff0000" />
</g>
<g filter="url(#rough2)">
<ellipse cx="399.99" cy="411.51" rx="3.94" ry="3.94" fill="url(#hB)" />
<ellipse cx="399.99" cy="411.51" rx="3.15" ry="3.15" fill="#1a22ff" />
<ellipse cx="399.99" cy="411.51" rx="2.33" ry="2.33" fill="#00c8ff" />
<ellipse cx="399.99" cy="411.51" rx="1.83" ry="1.83" fill="#30ff50" />
<ellipse cx="399.99" cy="411.51" rx="1.42" ry="1.42" fill="#ffe000" />
</g>
</g>
<g clip-path="url(#cc332)">
<rect x="414.17" y="394.00" width="32.43" height="51.50" fill="url(#bgG)" filter="url(#tex)"/>
<ellipse cx="430.38" cy="441.38" rx="10.38" ry="3.61" fill="#5c5c5c" filter="url(#soft)"/>
<ellipse cx="430.38" cy="402.24" rx="4.87" ry="5.15" fill="#c4c4c4" filter="url(#soft)"/>
<path d="M430.38,404.30 C434.74,404.30 437.86,406.00 438.79,410.53 C440.04,416.20 439.72,422.99 439.72,428.66 C439.72,435.46 437.23,438.86 430.38,438.86 C423.53,438.86 421.04,435.46 421.04,428.66 C421.04,422.99 420.73,416.20 421.98,410.53 C422.91,406.00 426.02,404.30 430.38,404.30 Z" fill="url(#bodyG)" stroke="none" stroke-width="1" filter="url(#soft)"/>
<ellipse cx="421.30" cy="402.75" rx="2.11" ry="2.06" fill="#dadada" filter="url(#soft)"/>
<ellipse cx="439.46" cy="402.75" rx="2.11" ry="2.06" fill="#dadada" filter="url(#soft)"/>
<rect x="414.17" y="394.00" width="32.43" height="51.50" fill="#7f00ff" />
<g filter="url(#rough)">
<ellipse cx="430.71" cy="414.08" rx="12.97" ry="14.81" fill="url(#hB)" />
<ellipse cx="430.71" cy="414.08" rx="10.38" ry="11.85" fill="#1a22ff" />
<ellipse cx="430.71" cy="414.08" rx="8.30" ry="9.48" fill="#00c8ff" />
<ellipse cx="430.71" cy="414.08" rx="6.43" ry="7.34" fill="#30ff50" />
</g>
<g filter="url(#rough)">
<ellipse cx="430.38" cy="408.42" rx="11.34" ry="7.81" fill="#1a22ff" />
<ellipse cx="430.38" cy="408.42" rx="9.94" ry="6.41" fill="#00c8ff" />
<ellipse cx="430.38" cy="408.42" rx="9.04" ry="5.51" fill="#30ff50" />
<ellipse cx="430.38" cy="408.42" rx="8.14" ry="4.61" fill="#ffe000" />
<ellipse cx="430.38" cy="408.42" rx="7.14" ry="3.61" fill="#ff0000" />
</g>
<g filter="url(#rough)">
<ellipse cx="431.03" cy="418.20" rx="10.69" ry="6.78" fill="#1a22ff" />
<ellipse cx="431.03" cy="418.20" rx="9.29" ry="5.38" fill="#00c8ff" />
<ellipse cx="431.03" cy="418.20" rx="8.39" ry="4.47" fill="#30ff50" />
<ellipse cx="431.03" cy="418.20" rx="7.49" ry="3.58" fill="#ffe000" />
<ellipse cx="431.03" cy="418.20" rx="6.49" ry="2.58" fill="#ff0000" />
</g>
</g>
<g clip-path="url(#cc340)">
<rect x="451.90" y="394.00" width="32.20" height="51.50" fill="url(#bgG)" filter="url(#tex)"/>
<ellipse cx="468.00" cy="441.38" rx="10.30" ry="3.61" fill="#5c5c5c" filter="url(#soft)"/>
<ellipse cx="468.00" cy="402.24" rx="4.83" ry="5.15" fill="#c4c4c4" filter="url(#soft)"/>
<path d="M468.00,404.30 C472.33,404.30 475.42,406.00 476.35,410.53 C477.58,416.20 477.27,422.99 477.27,428.66 C477.27,435.46 474.80,438.86 468.00,438.86 C461.20,438.86 458.73,435.46 458.73,428.66 C458.73,422.99 458.42,416.20 459.65,410.53 C460.58,406.00 463.67,404.30 468.00,404.30 Z" fill="url(#bodyG)" stroke="none" stroke-width="1" filter="url(#soft)"/>
<ellipse cx="458.98" cy="402.75" rx="2.09" ry="2.06" fill="#dadada" filter="url(#soft)"/>
<ellipse cx="477.02" cy="402.75" rx="2.09" ry="2.06" fill="#dadada" filter="url(#soft)"/>
<ellipse cx="466.71" cy="408.42" rx="2.20" ry="2.20" fill="#6a00ff" />
<rect x="451.90" y="441.30" width="32.20" height="4.20" fill="#7e7e7e" />
</g>
<g clip-path="url(#cc341)">
<rect x="485.30" y="394.00" width="32.20" height="51.50" fill="url(#bgG)" filter="url(#tex)"/>
<ellipse cx="501.40" cy="441.38" rx="10.30" ry="3.61" fill="#5c5c5c" filter="url(#soft)"/>
<ellipse cx="501.40" cy="402.24" rx="4.83" ry="5.15" fill="#c4c4c4" filter="url(#soft)"/>
<path d="M501.40,404.30 C505.73,404.30 508.82,406.00 509.75,410.53 C510.98,416.20 510.67,422.99 510.67,428.66 C510.67,435.46 508.20,438.86 501.40,438.86 C494.60,438.86 492.13,435.46 492.13,428.66 C492.13,422.99 491.82,416.20 493.05,410.53 C493.98,406.00 497.07,404.30 501.40,404.30 Z" fill="url(#bodyG)" stroke="none" stroke-width="1" filter="url(#soft)"/>
<ellipse cx="492.38" cy="402.75" rx="2.09" ry="2.06" fill="#dadada" filter="url(#soft)"/>
<ellipse cx="510.42" cy="402.75" rx="2.09" ry="2.06" fill="#dadada" filter="url(#soft)"/>
<ellipse cx="503.33" cy="413.06" rx="11.27" ry="13.39" fill="#7f00ff" filter="url(#rough)"/>
<g filter="url(#rough)">
<ellipse cx="502.04" cy="416.66" rx="8.05" ry="7.72" fill="url(#hB)" />
<ellipse cx="502.04" cy="416.66" rx="6.44" ry="6.18" fill="#1a22ff" />
<ellipse cx="502.04" cy="416.66" rx="5.15" ry="4.94" fill="#00c8ff" />
</g>
<g filter="url(#rough2)">
<ellipse cx="501.72" cy="416.66" rx="4.59" ry="4.59" fill="url(#hB)" />
<ellipse cx="501.72" cy="416.66" rx="3.68" ry="3.68" fill="#1a22ff" />
<ellipse cx="501.72" cy="416.66" rx="2.72" ry="2.72" fill="#00c8ff" />
<ellipse cx="501.72" cy="416.66" rx="2.13" ry="2.13" fill="#30ff50" />
</g>
<rect x="485.30" y="441.30" width="32.20" height="4.20" fill="#7e7e7e" />
</g>
<g clip-path="url(#cc342)">
<rect x="518.70" y="394.00" width="32.20" height="51.50" fill="url(#bgG)" filter="url(#tex)"/>
<ellipse cx="534.80" cy="441.38" rx="10.30" ry="3.61" fill="#5c5c5c" filter="url(#soft)"/>
<ellipse cx="534.80" cy="402.24" rx="4.83" ry="5.15" fill="#c4c4c4" filter="url(#soft)"/>
<path d="M534.80,404.30 C539.13,404.30 542.22,406.00 543.15,410.53 C544.38,416.20 544.07,422.99 544.07,428.66 C544.07,435.46 541.60,438.86 534.80,438.86 C528.00,438.86 525.53,435.46 525.53,428.66 C525.53,422.99 525.22,416.20 526.45,410.53 C527.38,406.00 530.47,404.30 534.80,404.30 Z" fill="url(#bodyG)" stroke="none" stroke-width="1" filter="url(#soft)"/>
<ellipse cx="525.78" cy="402.75" rx="2.09" ry="2.06" fill="#dadada" filter="url(#soft)"/>
<ellipse cx="543.82" cy="402.75" rx="2.09" ry="2.06" fill="#dadada" filter="url(#soft)"/>
<rect x="518.70" y="441.30" width="32.20" height="4.20" fill="#7e7e7e" />
</g>
<g clip-path="url(#cc350)">
<rect x="555.90" y="394.00" width="32.07" height="51.50" fill="url(#bgG)" filter="url(#tex)"/>
<ellipse cx="571.93" cy="441.38" rx="10.26" ry="3.61" fill="#5c5c5c" filter="url(#soft)"/>
<ellipse cx="571.93" cy="402.24" rx="4.81" ry="5.15" fill="#c4c4c4" filter="url(#soft)"/>
<path d="M571.93,404.30 C576.24,404.30 579.32,406.00 580.25,410.53 C581.48,416.20 581.17,422.99 581.17,428.66 C581.17,435.46 578.71,438.86 571.93,438.86 C565.16,438.86 562.70,435.46 562.70,428.66 C562.70,422.99 562.39,416.20 563.62,410.53 C564.55,406.00 567.62,404.30 571.93,404.30 Z" fill="url(#bodyG2)" stroke="none" stroke-width="1" filter="url(#soft)"/>
<ellipse cx="562.95" cy="402.75" rx="2.08" ry="2.06" fill="#dadada" filter="url(#soft)"/>
<ellipse cx="580.91" cy="402.75" rx="2.08" ry="2.06" fill="#dadada" filter="url(#soft)"/>
<ellipse cx="572.57" cy="414.08" rx="13.47" ry="14.93" fill="#7f00ff" filter="url(#rough)"/>
<g filter="url(#rough)">
<ellipse cx="569.37" cy="415.12" rx="12.03" ry="14.16" fill="url(#hB)" />
<ellipse cx="569.37" cy="415.12" rx="9.62" ry="11.33" fill="#1a22ff" />
<ellipse cx="569.37" cy="415.12" rx="7.70" ry="9.06" fill="#00c8ff" />
</g>
<g filter="url(#rough)">
<ellipse cx="569.37" cy="415.12" rx="9.01" ry="10.89" fill="#1a22ff" />
<ellipse cx="569.37" cy="415.12" rx="7.61" ry="9.50" fill="#00c8ff" />
<ellipse cx="569.37" cy="415.12" rx="6.71" ry="8.60" fill="#30ff50" />
<ellipse cx="569.37" cy="415.12" rx="5.81" ry="7.70" fill="#ffe000" />
<ellipse cx="569.37" cy="415.12" rx="4.81" ry="6.70" fill="#ff0000" />
</g>
</g>
<g clip-path="url(#cc351)">
<rect x="589.17" y="394.00" width="32.07" height="51.50" fill="url(#bgG)" filter="url(#tex)"/>
<ellipse cx="605.20" cy="441.38" rx="10.26" ry="3.61" fill="#5c5c5c" filter="url(#soft)"/>
<ellipse cx="605.20" cy="402.24" rx="4.81" ry="5.15" fill="#c4c4c4" filter="url(#soft)"/>
<path d="M605.20,404.30 C609.51,404.30 612.59,406.00 613.51,410.53 C614.74,416.20 614.44,422.99 614.44,428.66 C614.44,435.46 611.97,438.86 605.20,438.86 C598.43,438.86 595.96,435.46 595.96,428.66 C595.96,422.99 595.66,416.20 596.89,410.53 C597.81,406.00 600.89,404.30 605.20,404.30 Z" fill="url(#bodyG2)" stroke="none" stroke-width="1" filter="url(#soft)"/>
<ellipse cx="596.22" cy="402.75" rx="2.08" ry="2.06" fill="#dadada" filter="url(#soft)"/>
<ellipse cx="614.18" cy="402.75" rx="2.08" ry="2.06" fill="#dadada" filter="url(#soft)"/>
<ellipse cx="604.24" cy="414.08" rx="12.19" ry="14.93" fill="#7f00ff" filter="url(#rough)"/>
<g filter="url(#rough)">
<ellipse cx="605.20" cy="414.60" rx="11.22" ry="11.59" fill="url(#hB)" />
<ellipse cx="605.20" cy="414.60" rx="8.98" ry="9.27" fill="#1a22ff" />
<ellipse cx="605.20" cy="414.60" rx="7.18" ry="7.42" fill="#00c8ff" />
</g>
<g filter="url(#rough2)">
<ellipse cx="600.71" cy="415.63" rx="6.56" ry="6.56" fill="url(#hB)" />
<ellipse cx="600.71" cy="415.63" rx="5.25" ry="5.25" fill="#1a22ff" />
<ellipse cx="600.71" cy="415.63" rx="3.88" ry="3.88" fill="#00c8ff" />
<ellipse cx="600.71" cy="415.63" rx="3.04" ry="3.04" fill="#30ff50" />
<ellipse cx="600.71" cy="415.63" rx="2.36" ry="2.36" fill="#ffe000" />
<ellipse cx="600.71" cy="415.63" rx="1.73" ry="1.73" fill="#ff0000" />
</g>
<g filter="url(#rough2)">
<ellipse cx="609.05" cy="411.51" rx="5.25" ry="5.25" fill="url(#hB)" />
<ellipse cx="609.05" cy="411.51" rx="4.20" ry="4.20" fill="#1a22ff" />
<ellipse cx="609.05" cy="411.51" rx="3.11" ry="3.11" fill="#00c8ff" />
<ellipse cx="609.05" cy="411.51" rx="2.44" ry="2.44" fill="#30ff50" />
<ellipse cx="609.05" cy="411.51" rx="1.89" ry="1.89" fill="#ffe000" />
</g>
<g filter="url(#rough2)">
<ellipse cx="609.05" cy="418.72" rx="3.94" ry="3.94" fill="url(#hB)" />
<ellipse cx="609.05" cy="418.72" rx="3.15" ry="3.15" fill="#1a22ff" />
<ellipse cx="609.05" cy="418.72" rx="2.33" ry="2.33" fill="#00c8ff" />
</g>
</g>
<g clip-path="url(#cc352)">
<rect x="622.43" y="394.00" width="32.07" height="51.50" fill="url(#bgG)" filter="url(#tex)"/>
<ellipse cx="638.47" cy="441.38" rx="10.26" ry="3.61" fill="#5c5c5c" filter="url(#soft)"/>
<ellipse cx="638.47" cy="402.24" rx="4.81" ry="5.15" fill="#c4c4c4" filter="url(#soft)"/>
<path d="M638.47,404.30 C642.78,404.30 645.85,406.00 646.78,410.53 C648.01,416.20 647.70,422.99 647.70,428.66 C647.70,435.46 645.24,438.86 638.47,438.86 C631.69,438.86 629.23,435.46 629.23,428.66 C629.23,422.99 628.92,416.20 630.15,410.53 C631.08,406.00 634.16,404.30 638.47,404.30 Z" fill="url(#bodyG2)" stroke="none" stroke-width="1" filter="url(#soft)"/>
<ellipse cx="629.49" cy="402.75" rx="2.08" ry="2.06" fill="#dadada" filter="url(#soft)"/>
<ellipse cx="647.45" cy="402.75" rx="2.08" ry="2.06" fill="#dadada" filter="url(#soft)"/>
<ellipse cx="638.47" cy="413.57" rx="13.47" ry="15.45" fill="#7f00ff" filter="url(#rough)"/>
<ellipse cx="652.90" cy="414.60" rx="3.21" ry="15.45" fill="#7f00ff" filter="url(#rough)"/>
<g filter="url(#rough)">
<ellipse cx="637.83" cy="415.63" rx="12.03" ry="11.59" fill="url(#hB)" />
<ellipse cx="637.83" cy="415.63" rx="9.62" ry="9.27" fill="#1a22ff" />
<ellipse cx="637.83" cy="415.63" rx="7.70" ry="7.42" fill="#00c8ff" />
</g>
<g filter="url(#rough2)">
<ellipse cx="634.30" cy="415.63" rx="6.56" ry="6.56" fill="url(#hB)" />
<ellipse cx="634.30" cy="415.63" rx="5.25" ry="5.25" fill="#1a22ff" />
<ellipse cx="634.30" cy="415.63" rx="3.88" ry="3.88" fill="#00c8ff" />
<ellipse cx="634.30" cy="415.63" rx="3.04" ry="3.04" fill="#30ff50" />
<ellipse cx="634.30" cy="415.63" rx="2.36" ry="2.36" fill="#ffe000" />
<ellipse cx="634.30" cy="415.63" rx="1.73" ry="1.73" fill="#ff0000" />
</g>
<g filter="url(#rough2)">
<ellipse cx="636.86" cy="412.54" rx="4.59" ry="4.59" fill="url(#hB)" />
<ellipse cx="636.86" cy="412.54" rx="3.68" ry="3.68" fill="#1a22ff" />
<ellipse cx="636.86" cy="412.54" rx="2.72" ry="2.72" fill="#00c8ff" />
<ellipse cx="636.86" cy="412.54" rx="2.13" ry="2.13" fill="#30ff50" />
</g>
<g filter="url(#rough2)">
<ellipse cx="643.60" cy="415.63" rx="4.59" ry="4.59" fill="url(#hB)" />
<ellipse cx="643.60" cy="415.63" rx="3.68" ry="3.68" fill="#1a22ff" />
<ellipse cx="643.60" cy="415.63" rx="2.72" ry="2.72" fill="#00c8ff" />
</g>
</g>
</g>
<text x="83.60" y="202.30" font-size="14.4" text-anchor="middle" fill="#231815" textLength="28.20" lengthAdjust="spacingAndGlyphs" >PBS</text>
<text x="83.60" y="217.60" font-size="14.4" text-anchor="middle" fill="#231815" textLength="31.50" lengthAdjust="spacingAndGlyphs" >(G1)</text>
<text x="188.40" y="202.30" font-size="14.4" text-anchor="middle" fill="#231815" textLength="44.90" lengthAdjust="spacingAndGlyphs" >aPDL1</text>
<text x="188.40" y="217.60" font-size="14.4" text-anchor="middle" fill="#231815" textLength="31.50" lengthAdjust="spacingAndGlyphs" >(G2)</text>
<text x="292.50" y="202.30" font-size="14.4" text-anchor="middle" fill="#231815" textLength="74.50" lengthAdjust="spacingAndGlyphs" >Vadimezan</text>
<text x="292.50" y="217.60" font-size="14.4" text-anchor="middle" fill="#231815" textLength="31.50" lengthAdjust="spacingAndGlyphs" >(G3)</text>
<text x="397.00" y="202.30" font-size="14.4" text-anchor="middle" fill="#231815" textLength="61.50" lengthAdjust="spacingAndGlyphs" >P@aPDL1</text>
<text x="397.00" y="217.60" font-size="14.4" text-anchor="middle" fill="#231815" textLength="31.50" lengthAdjust="spacingAndGlyphs" >(G4)</text>
<text x="502.60" y="186.70" font-size="14.4" text-anchor="middle" fill="#231815" textLength="74.50" lengthAdjust="spacingAndGlyphs" >Vadimezan</text>
<text x="502.60" y="202.30" font-size="14.4" text-anchor="middle" fill="#231815" textLength="81.60" lengthAdjust="spacingAndGlyphs" >+ P@aPDL1</text>
<text x="502.60" y="217.60" font-size="14.4" text-anchor="middle" fill="#231815" textLength="31.50" lengthAdjust="spacingAndGlyphs" >(G5)</text>
<text x="608.50" y="186.70" font-size="14.4" text-anchor="middle" fill="#231815" textLength="74.50" lengthAdjust="spacingAndGlyphs" >Vadimezan</text>
<text x="608.50" y="202.30" font-size="14.4" text-anchor="middle" fill="#231815" textLength="60.40" lengthAdjust="spacingAndGlyphs" >+ P@IgG</text>
<text x="608.50" y="217.60" font-size="14.4" text-anchor="middle" fill="#231815" textLength="31.50" lengthAdjust="spacingAndGlyphs" >(G6)</text>
<text x="26.40" y="248.00" font-size="14.2" text-anchor="middle" fill="#231815" textLength="44.50" lengthAdjust="spacingAndGlyphs" transform="rotate(-90 26.40 248.00)" >Day 11</text>
<text x="26.40" y="304.75" font-size="14.2" text-anchor="middle" fill="#231815" textLength="44.50" lengthAdjust="spacingAndGlyphs" transform="rotate(-90 26.40 304.75)" >Day 16</text>
<text x="26.40" y="362.00" font-size="14.2" text-anchor="middle" fill="#231815" textLength="44.50" lengthAdjust="spacingAndGlyphs" transform="rotate(-90 26.40 362.00)" >Day 21</text>
<text x="26.40" y="419.75" font-size="14.2" text-anchor="middle" fill="#231815" textLength="44.50" lengthAdjust="spacingAndGlyphs" transform="rotate(-90 26.40 419.75)" >Day 26</text>
<rect x="662.20" y="261.20" width="7.30" height="144.10" fill="url(#cbar)" />
<text x="671.4" y="254.3" font-size="12.8" fill="#231815" transform="rotate(-90 671.4 254.3)" textLength="30" lengthAdjust="spacingAndGlyphs">2×10<tspan font-size="7" dy="-5.5">7</tspan></text>
<text x="672.2" y="441.6" font-size="12.8" fill="#231815" transform="rotate(-90 672.2 441.6)" textLength="30.5" lengthAdjust="spacingAndGlyphs">2×10<tspan font-size="7" dy="-5.5">4</tspan></text>
<text x="683.0" y="335.6" font-size="12.2" fill="#231815" text-anchor="middle" transform="rotate(-90 683.0 335.6)" textLength="121" lengthAdjust="spacingAndGlyphs">Radiance (p/sec/cm<tspan font-size="7" dy="-5">2</tspan><tspan dy="5">/sr)</tspan></text>
<text x="2.00" y="478.70" font-size="27.8" text-anchor="start" fill="#231815" >c</text>
<line x1="57.80" y1="494.40" x2="57.80" y2="619.30" stroke="#1a1a1a" stroke-width="1.8" />
<line x1="56.90" y1="618.50" x2="243.80" y2="618.50" stroke="#1a1a1a" stroke-width="1.6" />
<line x1="54.20" y1="618.40" x2="57.80" y2="618.40" stroke="#1a1a1a" stroke-width="1.5" />
<text x="52.90" y="618.00" font-size="7" text-anchor="end" fill="#1a1a1a" >5</text>
<text x="48.10" y="622.10" font-size="10" text-anchor="end" fill="#1a1a1a" >10</text>
<line x1="54.20" y1="593.76" x2="57.80" y2="593.76" stroke="#1a1a1a" stroke-width="1.5" />
<text x="52.90" y="593.36" font-size="7" text-anchor="end" fill="#1a1a1a" >6</text>
<text x="48.10" y="597.46" font-size="10" text-anchor="end" fill="#1a1a1a" >10</text>
<line x1="55.90" y1="610.98" x2="57.80" y2="610.98" stroke="#1a1a1a" stroke-width="1.0" />
<line x1="55.90" y1="606.64" x2="57.80" y2="606.64" stroke="#1a1a1a" stroke-width="1.0" />
<line x1="55.90" y1="603.57" x2="57.80" y2="603.57" stroke="#1a1a1a" stroke-width="1.0" />
<line x1="55.90" y1="601.18" x2="57.80" y2="601.18" stroke="#1a1a1a" stroke-width="1.0" />
<line x1="55.90" y1="599.23" x2="57.80" y2="599.23" stroke="#1a1a1a" stroke-width="1.0" />
<line x1="55.90" y1="597.58" x2="57.80" y2="597.58" stroke="#1a1a1a" stroke-width="1.0" />
<line x1="55.90" y1="596.15" x2="57.80" y2="596.15" stroke="#1a1a1a" stroke-width="1.0" />
<line x1="55.90" y1="594.89" x2="57.80" y2="594.89" stroke="#1a1a1a" stroke-width="1.0" />
<line x1="54.20" y1="569.12" x2="57.80" y2="569.12" stroke="#1a1a1a" stroke-width="1.5" />
<text x="52.90" y="568.72" font-size="7" text-anchor="end" fill="#1a1a1a" >7</text>
<text x="48.10" y="572.82" font-size="10" text-anchor="end" fill="#1a1a1a" >10</text>
<line x1="55.90" y1="586.34" x2="57.80" y2="586.34" stroke="#1a1a1a" stroke-width="1.0" />
<line x1="55.90" y1="582.00" x2="57.80" y2="582.00" stroke="#1a1a1a" stroke-width="1.0" />
<line x1="55.90" y1="578.93" x2="57.80" y2="578.93" stroke="#1a1a1a" stroke-width="1.0" />
<line x1="55.90" y1="576.54" x2="57.80" y2="576.54" stroke="#1a1a1a" stroke-width="1.0" />
<line x1="55.90" y1="574.59" x2="57.80" y2="574.59" stroke="#1a1a1a" stroke-width="1.0" />
<line x1="55.90" y1="572.94" x2="57.80" y2="572.94" stroke="#1a1a1a" stroke-width="1.0" />
<line x1="55.90" y1="571.51" x2="57.80" y2="571.51" stroke="#1a1a1a" stroke-width="1.0" />
<line x1="55.90" y1="570.25" x2="57.80" y2="570.25" stroke="#1a1a1a" stroke-width="1.0" />
<line x1="54.20" y1="544.48" x2="57.80" y2="544.48" stroke="#1a1a1a" stroke-width="1.5" />
<text x="52.90" y="544.08" font-size="7" text-anchor="end" fill="#1a1a1a" >8</text>
<text x="48.10" y="548.18" font-size="10" text-anchor="end" fill="#1a1a1a" >10</text>
<line x1="55.90" y1="561.70" x2="57.80" y2="561.70" stroke="#1a1a1a" stroke-width="1.0" />
<line x1="55.90" y1="557.36" x2="57.80" y2="557.36" stroke="#1a1a1a" stroke-width="1.0" />
<line x1="55.90" y1="554.29" x2="57.80" y2="554.29" stroke="#1a1a1a" stroke-width="1.0" />
<line x1="55.90" y1="551.90" x2="57.80" y2="551.90" stroke="#1a1a1a" stroke-width="1.0" />
<line x1="55.90" y1="549.95" x2="57.80" y2="549.95" stroke="#1a1a1a" stroke-width="1.0" />
<line x1="55.90" y1="548.30" x2="57.80" y2="548.30" stroke="#1a1a1a" stroke-width="1.0" />
<line x1="55.90" y1="546.87" x2="57.80" y2="546.87" stroke="#1a1a1a" stroke-width="1.0" />
<line x1="55.90" y1="545.61" x2="57.80" y2="545.61" stroke="#1a1a1a" stroke-width="1.0" />
<line x1="54.20" y1="519.84" x2="57.80" y2="519.84" stroke="#1a1a1a" stroke-width="1.5" />
<text x="52.90" y="519.44" font-size="7" text-anchor="end" fill="#1a1a1a" >9</text>
<text x="48.10" y="523.54" font-size="10" text-anchor="end" fill="#1a1a1a" >10</text>
<line x1="55.90" y1="537.06" x2="57.80" y2="537.06" stroke="#1a1a1a" stroke-width="1.0" />
<line x1="55.90" y1="532.72" x2="57.80" y2="532.72" stroke="#1a1a1a" stroke-width="1.0" />
<line x1="55.90" y1="529.65" x2="57.80" y2="529.65" stroke="#1a1a1a" stroke-width="1.0" />
<line x1="55.90" y1="527.26" x2="57.80" y2="527.26" stroke="#1a1a1a" stroke-width="1.0" />
<line x1="55.90" y1="525.31" x2="57.80" y2="525.31" stroke="#1a1a1a" stroke-width="1.0" />
<line x1="55.90" y1="523.66" x2="57.80" y2="523.66" stroke="#1a1a1a" stroke-width="1.0" />
<line x1="55.90" y1="522.23" x2="57.80" y2="522.23" stroke="#1a1a1a" stroke-width="1.0" />
<line x1="55.90" y1="520.97" x2="57.80" y2="520.97" stroke="#1a1a1a" stroke-width="1.0" />
<line x1="54.20" y1="495.20" x2="57.80" y2="495.20" stroke="#1a1a1a" stroke-width="1.5" />
<text x="52.90" y="494.80" font-size="7" text-anchor="end" fill="#1a1a1a" >10</text>
<text x="44.20" y="498.90" font-size="10" text-anchor="end" fill="#1a1a1a" >10</text>
<line x1="55.90" y1="512.42" x2="57.80" y2="512.42" stroke="#1a1a1a" stroke-width="1.0" />
<line x1="55.90" y1="508.08" x2="57.80" y2="508.08" stroke="#1a1a1a" stroke-width="1.0" />
<line x1="55.90" y1="505.01" x2="57.80" y2="505.01" stroke="#1a1a1a" stroke-width="1.0" />
<line x1="55.90" y1="502.62" x2="57.80" y2="502.62" stroke="#1a1a1a" stroke-width="1.0" />
<line x1="55.90" y1="500.67" x2="57.80" y2="500.67" stroke="#1a1a1a" stroke-width="1.0" />
<line x1="55.90" y1="499.02" x2="57.80" y2="499.02" stroke="#1a1a1a" stroke-width="1.0" />
<line x1="55.90" y1="497.59" x2="57.80" y2="497.59" stroke="#1a1a1a" stroke-width="1.0" />
<line x1="55.90" y1="496.33" x2="57.80" y2="496.33" stroke="#1a1a1a" stroke-width="1.0" />
<line x1="78.30" y1="618.50" x2="78.30" y2="621.80" stroke="#1a1a1a" stroke-width="1.4" />
<text x="78.30" y="632.80" font-size="10" text-anchor="middle" fill="#1a1a1a" >G1</text>
<line x1="107.30" y1="618.50" x2="107.30" y2="621.80" stroke="#1a1a1a" stroke-width="1.4" />
<text x="107.30" y="632.80" font-size="10" text-anchor="middle" fill="#1a1a1a" >G2</text>
<line x1="136.40" y1="618.50" x2="136.40" y2="621.80" stroke="#1a1a1a" stroke-width="1.4" />
<text x="136.40" y="632.80" font-size="10" text-anchor="middle" fill="#1a1a1a" >G3</text>
<line x1="165.20" y1="618.50" x2="165.20" y2="621.80" stroke="#1a1a1a" stroke-width="1.4" />
<text x="165.20" y="632.80" font-size="10" text-anchor="middle" fill="#1a1a1a" >G4</text>
<line x1="194.00" y1="618.50" x2="194.00" y2="621.80" stroke="#1a1a1a" stroke-width="1.4" />
<text x="194.00" y="632.80" font-size="10" text-anchor="middle" fill="#1a1a1a" >G5</text>
<line x1="222.80" y1="618.50" x2="222.80" y2="621.80" stroke="#1a1a1a" stroke-width="1.4" />
<text x="222.80" y="632.80" font-size="10" text-anchor="middle" fill="#1a1a1a" >G6</text>
<text x="14.50" y="556.10" font-size="12.8" text-anchor="middle" fill="#1a1a1a" textLength="89.00" lengthAdjust="spacingAndGlyphs" transform="rotate(-90 14.50 556.10)" >Bioluminescence</text>
<text x="28.40" y="556.60" font-size="11.8" text-anchor="middle" fill="#1a1a1a" textLength="68.30" lengthAdjust="spacingAndGlyphs" transform="rotate(-90 28.40 556.60)" >total flux (p/s)</text>
<line x1="68.15" y1="532.30" x2="88.65" y2="532.30" stroke="#6aa8f5" stroke-width="1.3" />
<line x1="78.40" y1="528.30" x2="78.40" y2="532.30" stroke="#6aa8f5" stroke-width="1.3" />
<line x1="73.35" y1="528.30" x2="83.45" y2="528.30" stroke="#6aa8f5" stroke-width="1.3" />
<line x1="78.40" y1="532.30" x2="78.40" y2="538.80" stroke="#6aa8f5" stroke-width="1.3" />
<line x1="73.35" y1="538.80" x2="83.45" y2="538.80" stroke="#6aa8f5" stroke-width="1.3" />
<circle cx="70.70" cy="528.10" r="2.50" fill="#4f95ee" stroke="#3a78d0" stroke-width="0.6"/>
<circle cx="86.00" cy="528.60" r="2.50" fill="#4f95ee" stroke="#3a78d0" stroke-width="0.6"/>
<circle cx="75.90" cy="531.80" r="2.50" fill="#4f95ee" stroke="#3a78d0" stroke-width="0.6"/>
<circle cx="81.20" cy="534.30" r="2.50" fill="#4f95ee" stroke="#3a78d0" stroke-width="0.6"/>
<circle cx="78.60" cy="545.20" r="2.50" fill="#4f95ee" stroke="#3a78d0" stroke-width="0.6"/>
<line x1="97.25" y1="534.30" x2="117.75" y2="534.30" stroke="#ff2020" stroke-width="1.3" />
<line x1="107.50" y1="530.30" x2="107.50" y2="534.30" stroke="#ff2020" stroke-width="1.3" />
<line x1="102.70" y1="530.30" x2="112.30" y2="530.30" stroke="#ff2020" stroke-width="1.3" />
<line x1="107.50" y1="534.30" x2="107.50" y2="541.30" stroke="#ff2020" stroke-width="1.3" />
<line x1="102.70" y1="541.30" x2="112.30" y2="541.30" stroke="#ff2020" stroke-width="1.3" />
<rect x="101.20" y="526.70" width="4.60" height="4.60" fill="#ff0000"/>
<rect x="108.70" y="528.30" width="4.60" height="4.60" fill="#ff0000"/>
<rect x="97.70" y="532.80" width="4.60" height="4.60" fill="#ff0000"/>
<rect x="111.70" y="536.80" width="4.60" height="4.60" fill="#ff0000"/>
<rect x="105.20" y="539.70" width="4.60" height="4.60" fill="#ff0000"/>
<line x1="125.70" y1="534.30" x2="146.70" y2="534.30" stroke="#20c080" stroke-width="1.3" />
<line x1="136.20" y1="532.60" x2="136.20" y2="534.30" stroke="#20c080" stroke-width="1.3" />
<line x1="131.20" y1="532.60" x2="141.20" y2="532.60" stroke="#20c080" stroke-width="1.3" />
<line x1="136.20" y1="534.30" x2="136.20" y2="536.20" stroke="#20c080" stroke-width="1.3" />
<line x1="131.20" y1="536.20" x2="141.20" y2="536.20" stroke="#20c080" stroke-width="1.3" />
<path d="M129.20,529.63L132.30,534.89L126.09,534.89Z" fill="#1fbf7a"/>
<path d="M143.20,530.63L146.30,535.89L140.09,535.89Z" fill="#1fbf7a"/>
<path d="M133.10,533.43L136.20,538.69L130.00,538.69Z" fill="#1fbf7a"/>
<path d="M136.60,531.23L139.70,536.50L133.50,536.50Z" fill="#1fbf7a"/>
<path d="M140.20,533.43L143.30,538.69L137.09,538.69Z" fill="#1fbf7a"/>
<line x1="154.80" y1="536.90" x2="175.40" y2="536.90" stroke="#b862e2" stroke-width="1.3" />
<line x1="165.10" y1="532.30" x2="165.10" y2="536.90" stroke="#b862e2" stroke-width="1.3" />
<line x1="160.30" y1="532.30" x2="169.90" y2="532.30" stroke="#b862e2" stroke-width="1.3" />
<line x1="165.10" y1="536.90" x2="165.10" y2="545.60" stroke="#b862e2" stroke-width="1.3" />
<line x1="160.30" y1="545.60" x2="169.90" y2="545.60" stroke="#b862e2" stroke-width="1.3" />
<path d="M161.20,534.57L164.30,529.31L158.09,529.31Z" fill="#b45ee0"/>
<path d="M169.00,535.77L172.10,530.50L165.90,530.50Z" fill="#b45ee0"/>
<path d="M158.10,544.57L161.20,539.31L155.00,539.31Z" fill="#b45ee0"/>
<path d="M172.10,544.57L175.20,539.31L169.00,539.31Z" fill="#b45ee0"/>
<path d="M165.10,547.97L168.20,542.71L162.00,542.71Z" fill="#b45ee0"/>
<line x1="183.80" y1="567.60" x2="204.20" y2="567.60" stroke="#ff7020" stroke-width="1.3" />
<line x1="194.00" y1="556.90" x2="194.00" y2="567.60" stroke="#ff7020" stroke-width="1.3" />
<line x1="188.90" y1="556.90" x2="199.10" y2="556.90" stroke="#ff7020" stroke-width="1.3" />
<path d="M194.00,550.16L196.64,552.80L194.00,555.44L191.36,552.80Z" fill="#ff6a1a"/>
<path d="M194.00,570.56L196.64,573.20L194.00,575.84L191.36,573.20Z" fill="#ff6a1a"/>
<path d="M190.40,584.86L193.04,587.50L190.40,590.14L187.76,587.50Z" fill="#ff6a1a"/>
<path d="M197.80,584.86L200.44,587.50L197.80,590.14L195.16,587.50Z" fill="#ff6a1a"/>
<path d="M194.00,605.86L196.64,608.50L194.00,611.14L191.36,608.50Z" fill="#ff6a1a"/>
<line x1="212.95" y1="526.00" x2="232.65" y2="526.00" stroke="#000" stroke-width="1.3" />
<line x1="222.80" y1="523.60" x2="222.80" y2="526.00" stroke="#000" stroke-width="1.3" />
<line x1="217.90" y1="523.60" x2="227.70" y2="523.60" stroke="#000" stroke-width="1.3" />
<line x1="222.80" y1="526.00" x2="222.80" y2="532.60" stroke="#000" stroke-width="1.3" />
<line x1="217.90" y1="532.60" x2="227.70" y2="532.60" stroke="#000" stroke-width="1.3" />
<circle cx="214.80" cy="524.30" r="2.60" fill="#000"/>
<circle cx="220.00" cy="527.30" r="2.60" fill="#000"/>
<circle cx="225.30" cy="527.30" r="2.60" fill="#000"/>
<circle cx="230.50" cy="525.60" r="2.60" fill="#000"/>
<circle cx="222.80" cy="536.50" r="2.60" fill="#000"/>
<line x1="77.10" y1="487.40" x2="195.80" y2="487.40" stroke="#1a1a1a" stroke-width="1.3" />
<path d="M131.35,478.90L131.35,485.10M128.67,480.45L134.03,483.55M134.03,480.45L128.67,483.55" stroke="#1a1a1a" stroke-width="1.2" fill="none"/>
<path d="M140.65,478.90L140.65,485.10M137.97,480.45L143.33,483.55M143.33,480.45L137.97,483.55" stroke="#1a1a1a" stroke-width="1.2" fill="none"/>
<line x1="103.40" y1="499.50" x2="195.80" y2="499.50" stroke="#1a1a1a" stroke-width="1.3" />
<path d="M153.80,491.30L153.80,497.50M151.12,492.85L156.48,495.95M156.48,492.85L151.12,495.95" stroke="#1a1a1a" stroke-width="1.2" fill="none"/>
<line x1="137.00" y1="510.50" x2="195.80" y2="510.50" stroke="#1a1a1a" stroke-width="1.3" />
<path d="M169.80,502.70L169.80,508.90M167.12,504.25L172.48,507.35M172.48,504.25L167.12,507.35" stroke="#1a1a1a" stroke-width="1.2" fill="none"/>
<line x1="191.10" y1="517.90" x2="224.90" y2="517.90" stroke="#1a1a1a" stroke-width="1.3" />
<path d="M209.10,508.50L209.10,514.70M206.42,510.05L211.78,513.15M211.78,510.05L206.42,513.15" stroke="#1a1a1a" stroke-width="1.2" fill="none"/>
<text x="224.60" y="483.20" font-size="27" text-anchor="start" fill="#231815" >d</text>
<line x1="287.00" y1="492.80" x2="287.00" y2="617.40" stroke="#1a1a1a" stroke-width="1.6" />
<line x1="286.20" y1="616.60" x2="472.60" y2="616.60" stroke="#1a1a1a" stroke-width="1.6" />
<line x1="283.20" y1="616.60" x2="287.00" y2="616.60" stroke="#1a1a1a" stroke-width="1.4" />
<text x="281.60" y="620.10" font-size="9.9" text-anchor="end" fill="#1a1a1a" >0</text>
<line x1="283.20" y1="596.05" x2="287.00" y2="596.05" stroke="#1a1a1a" stroke-width="1.4" />
<text x="281.60" y="599.55" font-size="9.9" text-anchor="end" fill="#1a1a1a" >20</text>
<line x1="283.20" y1="575.50" x2="287.00" y2="575.50" stroke="#1a1a1a" stroke-width="1.4" />
<text x="281.60" y="579.00" font-size="9.9" text-anchor="end" fill="#1a1a1a" >40</text>
<line x1="283.20" y1="554.95" x2="287.00" y2="554.95" stroke="#1a1a1a" stroke-width="1.4" />
<text x="281.60" y="558.45" font-size="9.9" text-anchor="end" fill="#1a1a1a" >60</text>
<line x1="283.20" y1="534.40" x2="287.00" y2="534.40" stroke="#1a1a1a" stroke-width="1.4" />
<text x="281.60" y="537.90" font-size="9.9" text-anchor="end" fill="#1a1a1a" >80</text>
<line x1="283.20" y1="513.85" x2="287.00" y2="513.85" stroke="#1a1a1a" stroke-width="1.4" />
<text x="281.60" y="517.35" font-size="9.9" text-anchor="end" fill="#1a1a1a" >100</text>
<line x1="283.20" y1="493.30" x2="287.00" y2="493.30" stroke="#1a1a1a" stroke-width="1.4" />
<text x="281.60" y="496.80" font-size="9.9" text-anchor="end" fill="#1a1a1a" >120</text>
<line x1="287.40" y1="616.60" x2="287.40" y2="620.00" stroke="#1a1a1a" stroke-width="1.4" />
<text x="287.40" y="630.90" font-size="9.9" text-anchor="middle" fill="#1a1a1a" >0</text>
<line x1="318.17" y1="616.60" x2="318.17" y2="620.00" stroke="#1a1a1a" stroke-width="1.4" />
<text x="318.17" y="630.90" font-size="9.9" text-anchor="middle" fill="#1a1a1a" >10</text>
<line x1="348.93" y1="616.60" x2="348.93" y2="620.00" stroke="#1a1a1a" stroke-width="1.4" />
<text x="348.93" y="630.90" font-size="9.9" text-anchor="middle" fill="#1a1a1a" >20</text>
<line x1="379.70" y1="616.60" x2="379.70" y2="620.00" stroke="#1a1a1a" stroke-width="1.4" />
<text x="379.70" y="630.90" font-size="9.9" text-anchor="middle" fill="#1a1a1a" >30</text>
<line x1="410.47" y1="616.60" x2="410.47" y2="620.00" stroke="#1a1a1a" stroke-width="1.4" />
<text x="410.47" y="630.90" font-size="9.9" text-anchor="middle" fill="#1a1a1a" >40</text>
<line x1="441.24" y1="616.60" x2="441.24" y2="620.00" stroke="#1a1a1a" stroke-width="1.4" />
<text x="441.24" y="630.90" font-size="9.9" text-anchor="middle" fill="#1a1a1a" >50</text>
<line x1="472.00" y1="616.60" x2="472.00" y2="620.00" stroke="#1a1a1a" stroke-width="1.4" />
<text x="472.00" y="630.90" font-size="9.9" text-anchor="middle" fill="#1a1a1a" >60</text>
<text x="259.80" y="555.00" font-size="13.0" text-anchor="middle" fill="#1a1a1a" textLength="60.60" lengthAdjust="spacingAndGlyphs" transform="rotate(-90 259.80 555.00)" >Survival (%)</text>
<text x="379.30" y="646.60" font-size="10.8" text-anchor="middle" fill="#1a1a1a" textLength="109.50" lengthAdjust="spacingAndGlyphs" >Days after inoculation</text>
<path d="M287.40,513.85L404.31,513.85L404.31,534.40L435.08,534.40L435.08,554.95L462.77,554.95L462.77,575.50L472.00,575.50" fill="none" stroke="#ff7a24" stroke-width="1.3"/>
<path d="M287.40,513.85L369.55,513.85L369.55,534.40L385.85,534.40L385.85,554.95L395.08,554.95L395.08,596.05L398.16,596.05L398.16,616.60" fill="none" stroke="#b41cd0" stroke-width="1.3"/>
<path d="M287.40,513.85L379.70,513.85L379.70,534.40L382.78,534.40L382.78,554.95L388.93,554.95L388.93,575.50L395.08,575.50L395.08,596.05L398.16,596.05L398.16,616.60" fill="none" stroke="#1a9a60" stroke-width="1.3"/>
<path d="M287.40,513.85L373.55,513.85L373.55,534.40L379.70,534.40L379.70,554.95L382.78,554.95L382.78,575.50L385.85,575.50L385.85,596.05L398.16,596.05L398.16,616.60" fill="none" stroke="#303030" stroke-width="1.3"/>
<path d="M287.40,513.85L371.09,513.85L371.09,554.95L388.93,554.95L388.93,596.05L404.31,596.05L404.31,616.60" fill="none" stroke="#f25a5a" stroke-width="1.3"/>
<path d="M287.40,513.85L367.39,513.85L367.39,534.40L379.70,534.40L379.70,554.95L382.78,554.95L382.78,575.50L385.85,575.50L385.85,596.05L401.24,596.05L401.24,616.60" fill="none" stroke="#5fa0ff" stroke-width="1.3"/>
<line x1="295.90" y1="523.30" x2="308.60" y2="523.30" stroke="#5fa0ff" stroke-width="1.4" />
<text x="316.00" y="526.70" font-size="9.8" text-anchor="start" fill="#1a1a1a" >G1</text>
<line x1="295.90" y1="539.68" x2="308.60" y2="539.68" stroke="#f25a5a" stroke-width="1.4" />
<text x="316.00" y="543.08" font-size="9.8" text-anchor="start" fill="#1a1a1a" >G2</text>
<line x1="295.90" y1="556.06" x2="308.60" y2="556.06" stroke="#1a9a60" stroke-width="1.4" />
<text x="316.00" y="559.46" font-size="9.8" text-anchor="start" fill="#1a1a1a" >G3</text>
<line x1="295.90" y1="572.44" x2="308.60" y2="572.44" stroke="#b41cd0" stroke-width="1.4" />
<text x="316.00" y="575.84" font-size="9.8" text-anchor="start" fill="#1a1a1a" >G4</text>
<line x1="295.90" y1="588.82" x2="308.60" y2="588.82" stroke="#ff7a24" stroke-width="1.4" />
<text x="316.00" y="592.22" font-size="9.8" text-anchor="start" fill="#1a1a1a" >G5</text>
<line x1="295.90" y1="605.20" x2="308.60" y2="605.20" stroke="#303030" stroke-width="1.4" />
<text x="316.00" y="608.60" font-size="9.8" text-anchor="start" fill="#1a1a1a" >G6</text>
<path d="M424.35,580.90L424.35,587.10M421.67,582.45L427.03,585.55M427.03,582.45L421.67,585.55" stroke="#1a1a1a" stroke-width="1.25" fill="none"/>
<path d="M433.25,580.90L433.25,587.10M430.57,582.45L435.93,585.55M435.93,582.45L430.57,585.55" stroke="#1a1a1a" stroke-width="1.25" fill="none"/>
<text x="420.4" y="606.4" font-size="12.4" fill="#1a1a1a" textLength="64.3" lengthAdjust="spacingAndGlyphs">(<tspan font-style="italic">P</tspan> = 0.0096)</text>
<text x="486.10" y="486.30" font-size="27.5" text-anchor="start" fill="#231815" >e</text>
<text x="523.30" y="503.70" font-size="11" text-anchor="middle" fill="#231815" textLength="13.80" lengthAdjust="spacingAndGlyphs" >G1</text>
<text x="587.60" y="503.80" font-size="11" text-anchor="middle" fill="#231815" textLength="13.80" lengthAdjust="spacingAndGlyphs" >G2</text>
<text x="646.90" y="503.80" font-size="11" text-anchor="middle" fill="#231815" textLength="13.80" lengthAdjust="spacingAndGlyphs" >G3</text>
<text x="523.70" y="574.50" font-size="11" text-anchor="middle" fill="#231815" textLength="13.80" lengthAdjust="spacingAndGlyphs" >G4</text>
<text x="585.00" y="574.50" font-size="11" text-anchor="middle" fill="#231815" textLength="13.80" lengthAdjust="spacingAndGlyphs" >G5</text>
<text x="651.20" y="574.50" font-size="11" text-anchor="middle" fill="#231815" textLength="13.80" lengthAdjust="spacingAndGlyphs" >G6</text>
<g filter="url(#org)">
<ellipse cx="517.5" cy="531" rx="10" ry="12.5" fill="#9a5226"/>
<ellipse cx="512" cy="536.5" rx="5.5" ry="8" fill="#a86030"/>
<ellipse cx="530.5" cy="526" rx="10" ry="9.5" fill="#1d4034"/>
<ellipse cx="537" cy="519.5" rx="5.5" ry="5" fill="#1d4034"/>
<ellipse cx="527" cy="535.5" rx="7" ry="7" fill="#24463a"/>
<ellipse cx="532" cy="540.5" rx="5" ry="4" fill="#7a6a3c"/>
<ellipse cx="540" cy="542" rx="5" ry="1.6" fill="#1d4034"/>
<ellipse cx="515.5" cy="543.5" rx="6" ry="2.5" fill="#b0642c"/>
<ellipse cx="520" cy="528" rx="4" ry="5" fill="#b0703e"/>
<ellipse cx="514" cy="530" rx="2" ry="6" fill="#7a3e1c"/>
<ellipse cx="522" cy="540" rx="3" ry="2" fill="#7a3e1c"/>
</g>
<g filter="url(#org)">
<ellipse cx="586" cy="520" rx="8.5" ry="8" fill="#1c3a2e"/>
<ellipse cx="596" cy="533" rx="6.5" ry="9.5" fill="#1c3a2e"/>
<ellipse cx="586" cy="539" rx="6.5" ry="6" fill="#203e32"/>
<ellipse cx="578" cy="531" rx="6.5" ry="10" fill="#94502a"/>
<ellipse cx="584.5" cy="530" rx="4.5" ry="6" fill="#a86a40"/>
<ellipse cx="590" cy="528" rx="4" ry="4" fill="#2a4436"/>
</g>
<g filter="url(#org)">
<ellipse cx="651" cy="531" rx="13" ry="12" fill="#313e2a"/>
<ellipse cx="657" cy="528" rx="7.5" ry="8.5" fill="#37462c"/>
<ellipse cx="637.5" cy="532" rx="2.6" ry="10" fill="#b0622a"/>
<ellipse cx="650" cy="545" rx="9" ry="2.6" fill="#a8622c"/>
<ellipse cx="654.5" cy="524.5" rx="3" ry="4" fill="#5e6c34"/>
<ellipse cx="645" cy="535" rx="4" ry="4" fill="#2a3626"/>
</g>
<g filter="url(#org)">
<ellipse cx="518" cy="600" rx="8" ry="13" fill="#b06a2a"/>
<ellipse cx="528" cy="611.5" rx="7" ry="4.5" fill="#c27a30"/>
<ellipse cx="530" cy="587" rx="8.5" ry="8.5" fill="#1c4238"/>
<ellipse cx="517" cy="603" rx="5" ry="5" fill="#1e4036"/>
<ellipse cx="524" cy="595" rx="6" ry="6" fill="#6a5a30"/>
<ellipse cx="515" cy="587" rx="4" ry="4" fill="#a8702e"/>
<ellipse cx="522" cy="613" rx="5" ry="3" fill="#c98a3a"/>
<ellipse cx="530" cy="602" rx="6" ry="6" fill="#5e5230"/>
<ellipse cx="526" cy="596" rx="5" ry="4" fill="#1e4036"/>
</g>
<g filter="url(#org)">
<ellipse cx="579.5" cy="597.5" rx="8.5" ry="11.5" fill="#bc6430"/>
<ellipse cx="593" cy="598" rx="8.5" ry="11" fill="#c8723a"/>
<ellipse cx="586" cy="597" rx="3.5" ry="9" fill="#a4522a"/>
<ellipse cx="579" cy="592" rx="4" ry="4" fill="#c87a48"/>
</g>
<g filter="url(#org)">
<ellipse cx="651" cy="594.5" rx="13" ry="13.5" fill="#34331f"/>
<ellipse cx="641" cy="597" rx="5" ry="9.5" fill="#86563a"/>
<ellipse cx="656" cy="600" rx="6" ry="6" fill="#3a3526"/>
<ellipse cx="645" cy="590" rx="3" ry="4" fill="#9a6a44"/>
<ellipse cx="660" cy="590" rx="3" ry="5" fill="#2a2a1e"/>
</g>
<rect x="641.00" y="619.70" width="25.20" height="5.10" fill="#231815" />
<text x="7.80" y="682.30" font-size="26" text-anchor="start" fill="#231815" >f</text>
<rect x="24.30" y="690.5" width="97.70" height="97.30" fill="none" stroke="#555" stroke-width="1.1"/>
<text x="73.15" y="685.50" font-size="14.2" text-anchor="middle" fill="#231815" textLength="21.00" lengthAdjust="spacingAndGlyphs" >G1</text>
<line x1="21.50" y1="690.50" x2="24.30" y2="690.50" stroke="#333" stroke-width="1.1" />
<line x1="23.00" y1="695.91" x2="24.30" y2="695.91" stroke="#555" stroke-width="0.8" />
<line x1="23.00" y1="701.32" x2="24.30" y2="701.32" stroke="#555" stroke-width="0.8" />
<line x1="23.00" y1="706.73" x2="24.30" y2="706.73" stroke="#555" stroke-width="0.8" />
<line x1="23.00" y1="712.14" x2="24.30" y2="712.14" stroke="#555" stroke-width="0.8" />
<line x1="21.50" y1="717.55" x2="24.30" y2="717.55" stroke="#333" stroke-width="1.1" />
<line x1="23.00" y1="722.96" x2="24.30" y2="722.96" stroke="#555" stroke-width="0.8" />
<line x1="23.00" y1="728.37" x2="24.30" y2="728.37" stroke="#555" stroke-width="0.8" />
<line x1="23.00" y1="733.78" x2="24.30" y2="733.78" stroke="#555" stroke-width="0.8" />
<line x1="23.00" y1="739.19" x2="24.30" y2="739.19" stroke="#555" stroke-width="0.8" />
<line x1="21.50" y1="744.60" x2="24.30" y2="744.60" stroke="#333" stroke-width="1.1" />
<line x1="23.00" y1="750.01" x2="24.30" y2="750.01" stroke="#555" stroke-width="0.8" />
<line x1="23.00" y1="755.42" x2="24.30" y2="755.42" stroke="#555" stroke-width="0.8" />
<line x1="23.00" y1="760.83" x2="24.30" y2="760.83" stroke="#555" stroke-width="0.8" />
<line x1="23.00" y1="766.24" x2="24.30" y2="766.24" stroke="#555" stroke-width="0.8" />
<line x1="21.50" y1="771.65" x2="24.30" y2="771.65" stroke="#333" stroke-width="1.1" />
<line x1="23.00" y1="777.06" x2="24.30" y2="777.06" stroke="#555" stroke-width="0.8" />
<line x1="23.00" y1="782.47" x2="24.30" y2="782.47" stroke="#555" stroke-width="0.8" />
<line x1="30.90" y1="787.80" x2="30.90" y2="790.40" stroke="#333" stroke-width="1.0" />
<line x1="67.40" y1="787.80" x2="67.40" y2="790.40" stroke="#333" stroke-width="1.0" />
<line x1="97.90" y1="787.80" x2="97.90" y2="790.40" stroke="#333" stroke-width="1.0" />
<line x1="30.90" y1="787.80" x2="30.90" y2="789.10" stroke="#666" stroke-width="0.7" />
<line x1="34.80" y1="787.80" x2="34.80" y2="789.10" stroke="#666" stroke-width="0.7" />
<line x1="38.70" y1="787.80" x2="38.70" y2="789.10" stroke="#666" stroke-width="0.7" />
<line x1="42.60" y1="787.80" x2="42.60" y2="789.10" stroke="#666" stroke-width="0.7" />
<line x1="46.50" y1="787.80" x2="46.50" y2="789.10" stroke="#666" stroke-width="0.7" />
<line x1="50.40" y1="787.80" x2="50.40" y2="789.10" stroke="#666" stroke-width="0.7" />
<line x1="54.30" y1="787.80" x2="54.30" y2="789.10" stroke="#666" stroke-width="0.7" />
<line x1="58.20" y1="787.80" x2="58.20" y2="789.10" stroke="#666" stroke-width="0.7" />
<line x1="62.10" y1="787.80" x2="62.10" y2="789.10" stroke="#666" stroke-width="0.7" />
<line x1="66.00" y1="787.80" x2="66.00" y2="789.10" stroke="#666" stroke-width="0.7" />
<line x1="69.90" y1="787.80" x2="69.90" y2="789.10" stroke="#666" stroke-width="0.7" />
<line x1="73.80" y1="787.80" x2="73.80" y2="789.10" stroke="#666" stroke-width="0.7" />
<line x1="77.70" y1="787.80" x2="77.70" y2="789.10" stroke="#666" stroke-width="0.7" />
<line x1="81.60" y1="787.80" x2="81.60" y2="789.10" stroke="#666" stroke-width="0.7" />
<line x1="85.50" y1="787.80" x2="85.50" y2="789.10" stroke="#666" stroke-width="0.7" />
<line x1="89.40" y1="787.80" x2="89.40" y2="789.10" stroke="#666" stroke-width="0.7" />
<line x1="93.30" y1="787.80" x2="93.30" y2="789.10" stroke="#666" stroke-width="0.7" />
<line x1="97.20" y1="787.80" x2="97.20" y2="789.10" stroke="#666" stroke-width="0.7" />
<line x1="101.10" y1="787.80" x2="101.10" y2="789.10" stroke="#666" stroke-width="0.7" />
<line x1="105.00" y1="787.80" x2="105.00" y2="789.10" stroke="#666" stroke-width="0.7" />
<line x1="108.90" y1="787.80" x2="108.90" y2="789.10" stroke="#666" stroke-width="0.7" />
<line x1="112.80" y1="787.80" x2="112.80" y2="789.10" stroke="#666" stroke-width="0.7" />
<line x1="116.70" y1="787.80" x2="116.70" y2="789.10" stroke="#666" stroke-width="0.7" />
<line x1="120.60" y1="787.80" x2="120.60" y2="789.10" stroke="#666" stroke-width="0.7" />
<rect x="46.80" y="788.10" width="3.20" height="2.30" fill="#111" />
<path d="M76.30,713.9 L122.00,712.7 L122.00,775.4 L67.60,775.4 Z" fill="none" stroke="#333" stroke-width="0.9"/>
<text x="83.90" y="730.70" font-size="14.2" text-anchor="start" fill="#231815" textLength="28.60" lengthAdjust="spacingAndGlyphs" >15.3</text>
<path d="M51.78,740.00 C55.50,740.00 61.70,747.00 65.92,752.60 C68.40,755.96 67.90,759.04 64.18,761.00 C59.22,764.08 53.02,768.00 49.30,768.00 C45.58,768.00 43.10,764.64 43.10,759.60 C43.10,752.60 46.82,740.00 51.78,740.00 Z" fill="url(#lpop)" stroke="#444" stroke-width="1.0"/>
<path d="M57.98,743.36 Q67.40,754.00 65.42,760.16" fill="none" stroke="#3a3a3a" stroke-width="2.0"/>
<path d="M51.78,740.00 C55.50,740.00 61.70,747.00 65.92,752.60 C68.40,755.96 67.90,759.04 64.18,761.00 C59.22,764.08 53.02,768.00 49.30,768.00 C45.58,768.00 43.10,764.64 43.10,759.60 C43.10,752.60 46.82,740.00 51.78,740.00 Z" fill="none" stroke="#666" stroke-width="0.55" transform="translate(11.39,166.80) scale(0.78)" opacity="0.9"/>
<path d="M51.78,740.00 C55.50,740.00 61.70,747.00 65.92,752.60 C68.40,755.96 67.90,759.04 64.18,761.00 C59.22,764.08 53.02,768.00 49.30,768.00 C45.58,768.00 43.10,764.64 43.10,759.60 C43.10,752.60 46.82,740.00 51.78,740.00 Z" fill="none" stroke="#666" stroke-width="0.55" transform="translate(21.75,318.44) scale(0.58)" opacity="0.9"/>
<path d="M51.78,740.00 C55.50,740.00 61.70,747.00 65.92,752.60 C68.40,755.96 67.90,759.04 64.18,761.00 C59.22,764.08 53.02,768.00 49.30,768.00 C45.58,768.00 43.10,764.64 43.10,759.60 C43.10,752.60 46.82,740.00 51.78,740.00 Z" fill="none" stroke="#666" stroke-width="0.55" transform="translate(31.07,454.92) scale(0.4)" opacity="0.9"/>
<path d="M51.78,740.00 C55.50,740.00 61.70,747.00 65.92,752.60 C68.40,755.96 67.90,759.04 64.18,761.00 C59.22,764.08 53.02,768.00 49.30,768.00 C45.58,768.00 43.10,764.64 43.10,759.60 C43.10,752.60 46.82,740.00 51.78,740.00 Z" fill="none" stroke="#666" stroke-width="0.55" transform="translate(39.35,576.23) scale(0.24)" opacity="0.9"/>
<path d="M81.10,757.20 C83.83,751.70 90.65,745.10 97.48,744.00 C103.49,743.34 108.40,747.30 108.40,753.24 C108.40,759.84 104.30,766.00 96.11,766.00 C89.29,766.00 81.92,762.70 81.10,757.20 Z" fill="url(#rpop)" stroke="#3c3c3c" stroke-width="1.7"/>
<path d="M81.65,757.64 Q83.28,750.60 89.29,746.64" fill="none" stroke="#3c3c3c" stroke-width="2.4"/>
<rect x="133.00" y="690.5" width="97.50" height="97.30" fill="none" stroke="#555" stroke-width="1.1"/>
<text x="181.75" y="685.50" font-size="14.2" text-anchor="middle" fill="#231815" textLength="21.00" lengthAdjust="spacingAndGlyphs" >G2</text>
<line x1="130.20" y1="690.50" x2="133.00" y2="690.50" stroke="#333" stroke-width="1.1" />
<line x1="131.70" y1="695.91" x2="133.00" y2="695.91" stroke="#555" stroke-width="0.8" />
<line x1="131.70" y1="701.32" x2="133.00" y2="701.32" stroke="#555" stroke-width="0.8" />
<line x1="131.70" y1="706.73" x2="133.00" y2="706.73" stroke="#555" stroke-width="0.8" />
<line x1="131.70" y1="712.14" x2="133.00" y2="712.14" stroke="#555" stroke-width="0.8" />
<line x1="130.20" y1="717.55" x2="133.00" y2="717.55" stroke="#333" stroke-width="1.1" />
<line x1="131.70" y1="722.96" x2="133.00" y2="722.96" stroke="#555" stroke-width="0.8" />
<line x1="131.70" y1="728.37" x2="133.00" y2="728.37" stroke="#555" stroke-width="0.8" />
<line x1="131.70" y1="733.78" x2="133.00" y2="733.78" stroke="#555" stroke-width="0.8" />
<line x1="131.70" y1="739.19" x2="133.00" y2="739.19" stroke="#555" stroke-width="0.8" />
<line x1="130.20" y1="744.60" x2="133.00" y2="744.60" stroke="#333" stroke-width="1.1" />
<line x1="131.70" y1="750.01" x2="133.00" y2="750.01" stroke="#555" stroke-width="0.8" />
<line x1="131.70" y1="755.42" x2="133.00" y2="755.42" stroke="#555" stroke-width="0.8" />
<line x1="131.70" y1="760.83" x2="133.00" y2="760.83" stroke="#555" stroke-width="0.8" />
<line x1="131.70" y1="766.24" x2="133.00" y2="766.24" stroke="#555" stroke-width="0.8" />
<line x1="130.20" y1="771.65" x2="133.00" y2="771.65" stroke="#333" stroke-width="1.1" />
<line x1="131.70" y1="777.06" x2="133.00" y2="777.06" stroke="#555" stroke-width="0.8" />
<line x1="131.70" y1="782.47" x2="133.00" y2="782.47" stroke="#555" stroke-width="0.8" />
<line x1="139.60" y1="787.80" x2="139.60" y2="790.40" stroke="#333" stroke-width="1.0" />
<line x1="176.10" y1="787.80" x2="176.10" y2="790.40" stroke="#333" stroke-width="1.0" />
<line x1="206.60" y1="787.80" x2="206.60" y2="790.40" stroke="#333" stroke-width="1.0" />
<line x1="139.60" y1="787.80" x2="139.60" y2="789.10" stroke="#666" stroke-width="0.7" />
<line x1="143.50" y1="787.80" x2="143.50" y2="789.10" stroke="#666" stroke-width="0.7" />
<line x1="147.40" y1="787.80" x2="147.40" y2="789.10" stroke="#666" stroke-width="0.7" />
<line x1="151.30" y1="787.80" x2="151.30" y2="789.10" stroke="#666" stroke-width="0.7" />
<line x1="155.20" y1="787.80" x2="155.20" y2="789.10" stroke="#666" stroke-width="0.7" />
<line x1="159.10" y1="787.80" x2="159.10" y2="789.10" stroke="#666" stroke-width="0.7" />
<line x1="163.00" y1="787.80" x2="163.00" y2="789.10" stroke="#666" stroke-width="0.7" />
<line x1="166.90" y1="787.80" x2="166.90" y2="789.10" stroke="#666" stroke-width="0.7" />
<line x1="170.80" y1="787.80" x2="170.80" y2="789.10" stroke="#666" stroke-width="0.7" />
<line x1="174.70" y1="787.80" x2="174.70" y2="789.10" stroke="#666" stroke-width="0.7" />
<line x1="178.60" y1="787.80" x2="178.60" y2="789.10" stroke="#666" stroke-width="0.7" />
<line x1="182.50" y1="787.80" x2="182.50" y2="789.10" stroke="#666" stroke-width="0.7" />
<line x1="186.40" y1="787.80" x2="186.40" y2="789.10" stroke="#666" stroke-width="0.7" />
<line x1="190.30" y1="787.80" x2="190.30" y2="789.10" stroke="#666" stroke-width="0.7" />
<line x1="194.20" y1="787.80" x2="194.20" y2="789.10" stroke="#666" stroke-width="0.7" />
<line x1="198.10" y1="787.80" x2="198.10" y2="789.10" stroke="#666" stroke-width="0.7" />
<line x1="202.00" y1="787.80" x2="202.00" y2="789.10" stroke="#666" stroke-width="0.7" />
<line x1="205.90" y1="787.80" x2="205.90" y2="789.10" stroke="#666" stroke-width="0.7" />
<line x1="209.80" y1="787.80" x2="209.80" y2="789.10" stroke="#666" stroke-width="0.7" />
<line x1="213.70" y1="787.80" x2="213.70" y2="789.10" stroke="#666" stroke-width="0.7" />
<line x1="217.60" y1="787.80" x2="217.60" y2="789.10" stroke="#666" stroke-width="0.7" />
<line x1="221.50" y1="787.80" x2="221.50" y2="789.10" stroke="#666" stroke-width="0.7" />
<line x1="225.40" y1="787.80" x2="225.40" y2="789.10" stroke="#666" stroke-width="0.7" />
<line x1="229.30" y1="787.80" x2="229.30" y2="789.10" stroke="#666" stroke-width="0.7" />
<rect x="155.50" y="788.10" width="3.20" height="2.30" fill="#111" />
<path d="M185.00,713.9 L230.50,712.7 L230.50,775.4 L176.30,775.4 Z" fill="none" stroke="#333" stroke-width="0.9"/>
<text x="193.50" y="730.70" font-size="14.2" text-anchor="start" fill="#231815" textLength="28.60" lengthAdjust="spacingAndGlyphs" >16.2</text>
<path d="M160.69,740.00 C164.45,740.00 170.73,747.00 174.99,752.60 C177.50,755.96 177.00,759.04 173.24,761.00 C168.22,764.08 161.94,768.00 158.18,768.00 C154.41,768.00 151.90,764.64 151.90,759.60 C151.90,752.60 155.66,740.00 160.69,740.00 Z" fill="url(#lpop)" stroke="#444" stroke-width="1.0"/>
<path d="M166.96,743.36 Q176.50,754.00 174.49,760.16" fill="none" stroke="#3a3a3a" stroke-width="2.0"/>
<path d="M160.69,740.00 C164.45,740.00 170.73,747.00 174.99,752.60 C177.50,755.96 177.00,759.04 173.24,761.00 C168.22,764.08 161.94,768.00 158.18,768.00 C154.41,768.00 151.90,764.64 151.90,759.60 C151.90,752.60 155.66,740.00 160.69,740.00 Z" fill="none" stroke="#666" stroke-width="0.55" transform="translate(35.35,166.80) scale(0.78)" opacity="0.9"/>
<path d="M160.69,740.00 C164.45,740.00 170.73,747.00 174.99,752.60 C177.50,755.96 177.00,759.04 173.24,761.00 C168.22,764.08 161.94,768.00 158.18,768.00 C154.41,768.00 151.90,764.64 151.90,759.60 C151.90,752.60 155.66,740.00 160.69,740.00 Z" fill="none" stroke="#666" stroke-width="0.55" transform="translate(67.49,318.44) scale(0.58)" opacity="0.9"/>
<path d="M160.69,740.00 C164.45,740.00 170.73,747.00 174.99,752.60 C177.50,755.96 177.00,759.04 173.24,761.00 C168.22,764.08 161.94,768.00 158.18,768.00 C154.41,768.00 151.90,764.64 151.90,759.60 C151.90,752.60 155.66,740.00 160.69,740.00 Z" fill="none" stroke="#666" stroke-width="0.55" transform="translate(96.41,454.92) scale(0.4)" opacity="0.9"/>
<path d="M160.69,740.00 C164.45,740.00 170.73,747.00 174.99,752.60 C177.50,755.96 177.00,759.04 173.24,761.00 C168.22,764.08 161.94,768.00 158.18,768.00 C154.41,768.00 151.90,764.64 151.90,759.60 C151.90,752.60 155.66,740.00 160.69,740.00 Z" fill="none" stroke="#666" stroke-width="0.55" transform="translate(122.12,576.23) scale(0.24)" opacity="0.9"/>
<path d="M189.80,757.20 C192.60,751.70 199.60,745.10 206.60,744.00 C212.76,743.34 217.80,747.30 217.80,753.24 C217.80,759.84 213.60,766.00 205.20,766.00 C198.20,766.00 190.64,762.70 189.80,757.20 Z" fill="url(#rpop2)" stroke="#3c3c3c" stroke-width="1.7"/>
<path d="M190.36,757.64 Q192.04,750.60 198.20,746.64" fill="none" stroke="#3c3c3c" stroke-width="2.4"/>
<rect x="241.60" y="690.5" width="100.50" height="97.30" fill="none" stroke="#555" stroke-width="1.1"/>
<text x="291.85" y="685.50" font-size="14.2" text-anchor="middle" fill="#231815" textLength="21.00" lengthAdjust="spacingAndGlyphs" >G3</text>
<line x1="238.80" y1="690.50" x2="241.60" y2="690.50" stroke="#333" stroke-width="1.1" />
<line x1="240.30" y1="695.91" x2="241.60" y2="695.91" stroke="#555" stroke-width="0.8" />
<line x1="240.30" y1="701.32" x2="241.60" y2="701.32" stroke="#555" stroke-width="0.8" />
<line x1="240.30" y1="706.73" x2="241.60" y2="706.73" stroke="#555" stroke-width="0.8" />
<line x1="240.30" y1="712.14" x2="241.60" y2="712.14" stroke="#555" stroke-width="0.8" />
<line x1="238.80" y1="717.55" x2="241.60" y2="717.55" stroke="#333" stroke-width="1.1" />
<line x1="240.30" y1="722.96" x2="241.60" y2="722.96" stroke="#555" stroke-width="0.8" />
<line x1="240.30" y1="728.37" x2="241.60" y2="728.37" stroke="#555" stroke-width="0.8" />
<line x1="240.30" y1="733.78" x2="241.60" y2="733.78" stroke="#555" stroke-width="0.8" />
<line x1="240.30" y1="739.19" x2="241.60" y2="739.19" stroke="#555" stroke-width="0.8" />
<line x1="238.80" y1="744.60" x2="241.60" y2="744.60" stroke="#333" stroke-width="1.1" />
<line x1="240.30" y1="750.01" x2="241.60" y2="750.01" stroke="#555" stroke-width="0.8" />
<line x1="240.30" y1="755.42" x2="241.60" y2="755.42" stroke="#555" stroke-width="0.8" />
<line x1="240.30" y1="760.83" x2="241.60" y2="760.83" stroke="#555" stroke-width="0.8" />
<line x1="240.30" y1="766.24" x2="241.60" y2="766.24" stroke="#555" stroke-width="0.8" />
<line x1="238.80" y1="771.65" x2="241.60" y2="771.65" stroke="#333" stroke-width="1.1" />
<line x1="240.30" y1="777.06" x2="241.60" y2="777.06" stroke="#555" stroke-width="0.8" />
<line x1="240.30" y1="782.47" x2="241.60" y2="782.47" stroke="#555" stroke-width="0.8" />
<line x1="248.20" y1="787.80" x2="248.20" y2="790.40" stroke="#333" stroke-width="1.0" />
<line x1="284.70" y1="787.80" x2="284.70" y2="790.40" stroke="#333" stroke-width="1.0" />
<line x1="315.20" y1="787.80" x2="315.20" y2="790.40" stroke="#333" stroke-width="1.0" />
<line x1="248.20" y1="787.80" x2="248.20" y2="789.10" stroke="#666" stroke-width="0.7" />
<line x1="252.10" y1="787.80" x2="252.10" y2="789.10" stroke="#666" stroke-width="0.7" />
<line x1="256.00" y1="787.80" x2="256.00" y2="789.10" stroke="#666" stroke-width="0.7" />
<line x1="259.90" y1="787.80" x2="259.90" y2="789.10" stroke="#666" stroke-width="0.7" />
<line x1="263.80" y1="787.80" x2="263.80" y2="789.10" stroke="#666" stroke-width="0.7" />
<line x1="267.70" y1="787.80" x2="267.70" y2="789.10" stroke="#666" stroke-width="0.7" />
<line x1="271.60" y1="787.80" x2="271.60" y2="789.10" stroke="#666" stroke-width="0.7" />
<line x1="275.50" y1="787.80" x2="275.50" y2="789.10" stroke="#666" stroke-width="0.7" />
<line x1="279.40" y1="787.80" x2="279.40" y2="789.10" stroke="#666" stroke-width="0.7" />
<line x1="283.30" y1="787.80" x2="283.30" y2="789.10" stroke="#666" stroke-width="0.7" />
<line x1="287.20" y1="787.80" x2="287.20" y2="789.10" stroke="#666" stroke-width="0.7" />
<line x1="291.10" y1="787.80" x2="291.10" y2="789.10" stroke="#666" stroke-width="0.7" />
<line x1="295.00" y1="787.80" x2="295.00" y2="789.10" stroke="#666" stroke-width="0.7" />
<line x1="298.90" y1="787.80" x2="298.90" y2="789.10" stroke="#666" stroke-width="0.7" />
<line x1="302.80" y1="787.80" x2="302.80" y2="789.10" stroke="#666" stroke-width="0.7" />
<line x1="306.70" y1="787.80" x2="306.70" y2="789.10" stroke="#666" stroke-width="0.7" />
<line x1="310.60" y1="787.80" x2="310.60" y2="789.10" stroke="#666" stroke-width="0.7" />
<line x1="314.50" y1="787.80" x2="314.50" y2="789.10" stroke="#666" stroke-width="0.7" />
<line x1="318.40" y1="787.80" x2="318.40" y2="789.10" stroke="#666" stroke-width="0.7" />
<line x1="322.30" y1="787.80" x2="322.30" y2="789.10" stroke="#666" stroke-width="0.7" />
<line x1="326.20" y1="787.80" x2="326.20" y2="789.10" stroke="#666" stroke-width="0.7" />
<line x1="330.10" y1="787.80" x2="330.10" y2="789.10" stroke="#666" stroke-width="0.7" />
<line x1="334.00" y1="787.80" x2="334.00" y2="789.10" stroke="#666" stroke-width="0.7" />
<line x1="337.90" y1="787.80" x2="337.90" y2="789.10" stroke="#666" stroke-width="0.7" />
<rect x="264.10" y="788.10" width="3.20" height="2.30" fill="#111" />
<path d="M293.60,713.9 L342.10,712.7 L342.10,775.4 L284.90,775.4 Z" fill="none" stroke="#333" stroke-width="0.9"/>
<text x="303.90" y="730.70" font-size="14.2" text-anchor="start" fill="#231815" textLength="28.60" lengthAdjust="spacingAndGlyphs" >20.0</text>
<path d="M268.22,740.00 C271.05,740.00 275.78,747.00 278.99,752.60 C280.88,755.96 280.50,759.04 277.67,761.00 C273.89,764.08 269.16,768.00 266.33,768.00 C263.49,768.00 261.60,764.64 261.60,759.60 C261.60,752.60 264.44,740.00 268.22,740.00 Z" fill="url(#lpop)" stroke="#444" stroke-width="1.0"/>
<path d="M272.94,743.36 Q280.12,754.00 278.61,760.16" fill="none" stroke="#3a3a3a" stroke-width="2.0"/>
<path d="M268.22,740.00 C271.05,740.00 275.78,747.00 278.99,752.60 C280.88,755.96 280.50,759.04 277.67,761.00 C273.89,764.08 269.16,768.00 266.33,768.00 C263.49,768.00 261.60,764.64 261.60,759.60 C261.60,752.60 264.44,740.00 268.22,740.00 Z" fill="none" stroke="#666" stroke-width="0.55" transform="translate(59.01,166.80) scale(0.78)" opacity="0.9"/>
<path d="M268.22,740.00 C271.05,740.00 275.78,747.00 278.99,752.60 C280.88,755.96 280.50,759.04 277.67,761.00 C273.89,764.08 269.16,768.00 266.33,768.00 C263.49,768.00 261.60,764.64 261.60,759.60 C261.60,752.60 264.44,740.00 268.22,740.00 Z" fill="none" stroke="#666" stroke-width="0.55" transform="translate(112.65,318.44) scale(0.58)" opacity="0.9"/>
<path d="M268.22,740.00 C271.05,740.00 275.78,747.00 278.99,752.60 C280.88,755.96 280.50,759.04 277.67,761.00 C273.89,764.08 269.16,768.00 266.33,768.00 C263.49,768.00 261.60,764.64 261.60,759.60 C261.60,752.60 264.44,740.00 268.22,740.00 Z" fill="none" stroke="#666" stroke-width="0.55" transform="translate(160.93,454.92) scale(0.4)" opacity="0.9"/>
<path d="M268.22,740.00 C271.05,740.00 275.78,747.00 278.99,752.60 C280.88,755.96 280.50,759.04 277.67,761.00 C273.89,764.08 269.16,768.00 266.33,768.00 C263.49,768.00 261.60,764.64 261.60,759.60 C261.60,752.60 264.44,740.00 268.22,740.00 Z" fill="none" stroke="#666" stroke-width="0.55" transform="translate(203.84,576.23) scale(0.24)" opacity="0.9"/>
<path d="M295.90,757.20 C299.11,751.70 307.13,745.10 315.16,744.00 C322.22,743.34 328.00,747.30 328.00,753.24 C328.00,759.84 323.19,766.00 313.56,766.00 C305.53,766.00 296.86,762.70 295.90,757.20 Z" fill="url(#rpop2)" stroke="#3c3c3c" stroke-width="1.7"/>
<path d="M296.54,757.64 Q298.47,750.60 305.53,746.64" fill="none" stroke="#3c3c3c" stroke-width="2.4"/>
<rect x="353.10" y="690.5" width="99.80" height="97.30" fill="none" stroke="#555" stroke-width="1.1"/>
<text x="403.00" y="685.50" font-size="14.2" text-anchor="middle" fill="#231815" textLength="21.00" lengthAdjust="spacingAndGlyphs" >G4</text>
<line x1="350.30" y1="690.50" x2="353.10" y2="690.50" stroke="#333" stroke-width="1.1" />
<line x1="351.80" y1="695.91" x2="353.10" y2="695.91" stroke="#555" stroke-width="0.8" />
<line x1="351.80" y1="701.32" x2="353.10" y2="701.32" stroke="#555" stroke-width="0.8" />
<line x1="351.80" y1="706.73" x2="353.10" y2="706.73" stroke="#555" stroke-width="0.8" />
<line x1="351.80" y1="712.14" x2="353.10" y2="712.14" stroke="#555" stroke-width="0.8" />
<line x1="350.30" y1="717.55" x2="353.10" y2="717.55" stroke="#333" stroke-width="1.1" />
<line x1="351.80" y1="722.96" x2="353.10" y2="722.96" stroke="#555" stroke-width="0.8" />
<line x1="351.80" y1="728.37" x2="353.10" y2="728.37" stroke="#555" stroke-width="0.8" />
<line x1="351.80" y1="733.78" x2="353.10" y2="733.78" stroke="#555" stroke-width="0.8" />
<line x1="351.80" y1="739.19" x2="353.10" y2="739.19" stroke="#555" stroke-width="0.8" />
<line x1="350.30" y1="744.60" x2="353.10" y2="744.60" stroke="#333" stroke-width="1.1" />
<line x1="351.80" y1="750.01" x2="353.10" y2="750.01" stroke="#555" stroke-width="0.8" />
<line x1="351.80" y1="755.42" x2="353.10" y2="755.42" stroke="#555" stroke-width="0.8" />
<line x1="351.80" y1="760.83" x2="353.10" y2="760.83" stroke="#555" stroke-width="0.8" />
<line x1="351.80" y1="766.24" x2="353.10" y2="766.24" stroke="#555" stroke-width="0.8" />
<line x1="350.30" y1="771.65" x2="353.10" y2="771.65" stroke="#333" stroke-width="1.1" />
<line x1="351.80" y1="777.06" x2="353.10" y2="777.06" stroke="#555" stroke-width="0.8" />
<line x1="351.80" y1="782.47" x2="353.10" y2="782.47" stroke="#555" stroke-width="0.8" />
<line x1="359.70" y1="787.80" x2="359.70" y2="790.40" stroke="#333" stroke-width="1.0" />
<line x1="396.20" y1="787.80" x2="396.20" y2="790.40" stroke="#333" stroke-width="1.0" />
<line x1="426.70" y1="787.80" x2="426.70" y2="790.40" stroke="#333" stroke-width="1.0" />
<line x1="359.70" y1="787.80" x2="359.70" y2="789.10" stroke="#666" stroke-width="0.7" />
<line x1="363.60" y1="787.80" x2="363.60" y2="789.10" stroke="#666" stroke-width="0.7" />
<line x1="367.50" y1="787.80" x2="367.50" y2="789.10" stroke="#666" stroke-width="0.7" />
<line x1="371.40" y1="787.80" x2="371.40" y2="789.10" stroke="#666" stroke-width="0.7" />
<line x1="375.30" y1="787.80" x2="375.30" y2="789.10" stroke="#666" stroke-width="0.7" />
<line x1="379.20" y1="787.80" x2="379.20" y2="789.10" stroke="#666" stroke-width="0.7" />
<line x1="383.10" y1="787.80" x2="383.10" y2="789.10" stroke="#666" stroke-width="0.7" />
<line x1="387.00" y1="787.80" x2="387.00" y2="789.10" stroke="#666" stroke-width="0.7" />
<line x1="390.90" y1="787.80" x2="390.90" y2="789.10" stroke="#666" stroke-width="0.7" />
<line x1="394.80" y1="787.80" x2="394.80" y2="789.10" stroke="#666" stroke-width="0.7" />
<line x1="398.70" y1="787.80" x2="398.70" y2="789.10" stroke="#666" stroke-width="0.7" />
<line x1="402.60" y1="787.80" x2="402.60" y2="789.10" stroke="#666" stroke-width="0.7" />
<line x1="406.50" y1="787.80" x2="406.50" y2="789.10" stroke="#666" stroke-width="0.7" />
<line x1="410.40" y1="787.80" x2="410.40" y2="789.10" stroke="#666" stroke-width="0.7" />
<line x1="414.30" y1="787.80" x2="414.30" y2="789.10" stroke="#666" stroke-width="0.7" />
<line x1="418.20" y1="787.80" x2="418.20" y2="789.10" stroke="#666" stroke-width="0.7" />
<line x1="422.10" y1="787.80" x2="422.10" y2="789.10" stroke="#666" stroke-width="0.7" />
<line x1="426.00" y1="787.80" x2="426.00" y2="789.10" stroke="#666" stroke-width="0.7" />
<line x1="429.90" y1="787.80" x2="429.90" y2="789.10" stroke="#666" stroke-width="0.7" />
<line x1="433.80" y1="787.80" x2="433.80" y2="789.10" stroke="#666" stroke-width="0.7" />
<line x1="437.70" y1="787.80" x2="437.70" y2="789.10" stroke="#666" stroke-width="0.7" />
<line x1="441.60" y1="787.80" x2="441.60" y2="789.10" stroke="#666" stroke-width="0.7" />
<line x1="445.50" y1="787.80" x2="445.50" y2="789.10" stroke="#666" stroke-width="0.7" />
<line x1="449.40" y1="787.80" x2="449.40" y2="789.10" stroke="#666" stroke-width="0.7" />
<rect x="375.60" y="788.10" width="3.20" height="2.30" fill="#111" />
<path d="M405.10,713.9 L452.90,712.7 L452.90,775.4 L396.40,775.4 Z" fill="none" stroke="#333" stroke-width="0.9"/>
<text x="414.90" y="730.70" font-size="14.2" text-anchor="start" fill="#231815" textLength="28.60" lengthAdjust="spacingAndGlyphs" >17.9</text>
<path d="M390.24,755.40 L398.60,758.48 L390.24,762.40 Z" fill="#3a3a3a"/>
<path d="M379.04,740.00 C382.40,740.00 388.00,747.00 391.81,752.60 C394.05,755.96 393.60,759.04 390.24,761.00 C385.76,764.08 380.16,768.00 376.80,768.00 C373.44,768.00 371.20,764.64 371.20,759.60 C371.20,752.60 374.56,740.00 379.04,740.00 Z" fill="url(#lpop)" stroke="#444" stroke-width="1.0"/>
<path d="M384.64,743.36 Q393.15,754.00 391.36,760.16" fill="none" stroke="#3a3a3a" stroke-width="2.0"/>
<path d="M379.04,740.00 C382.40,740.00 388.00,747.00 391.81,752.60 C394.05,755.96 393.60,759.04 390.24,761.00 C385.76,764.08 380.16,768.00 376.80,768.00 C373.44,768.00 371.20,764.64 371.20,759.60 C371.20,752.60 374.56,740.00 379.04,740.00 Z" fill="none" stroke="#666" stroke-width="0.55" transform="translate(83.39,166.80) scale(0.78)" opacity="0.9"/>
<path d="M379.04,740.00 C382.40,740.00 388.00,747.00 391.81,752.60 C394.05,755.96 393.60,759.04 390.24,761.00 C385.76,764.08 380.16,768.00 376.80,768.00 C373.44,768.00 371.20,764.64 371.20,759.60 C371.20,752.60 374.56,740.00 379.04,740.00 Z" fill="none" stroke="#666" stroke-width="0.55" transform="translate(159.20,318.44) scale(0.58)" opacity="0.9"/>
<path d="M379.04,740.00 C382.40,740.00 388.00,747.00 391.81,752.60 C394.05,755.96 393.60,759.04 390.24,761.00 C385.76,764.08 380.16,768.00 376.80,768.00 C373.44,768.00 371.20,764.64 371.20,759.60 C371.20,752.60 374.56,740.00 379.04,740.00 Z" fill="none" stroke="#666" stroke-width="0.55" transform="translate(227.42,454.92) scale(0.4)" opacity="0.9"/>
<path d="M379.04,740.00 C382.40,740.00 388.00,747.00 391.81,752.60 C394.05,755.96 393.60,759.04 390.24,761.00 C385.76,764.08 380.16,768.00 376.80,768.00 C373.44,768.00 371.20,764.64 371.20,759.60 C371.20,752.60 374.56,740.00 379.04,740.00 Z" fill="none" stroke="#666" stroke-width="0.55" transform="translate(288.07,576.23) scale(0.24)" opacity="0.9"/>
<path d="M410.50,757.20 C413.27,751.70 420.19,745.10 427.12,744.00 C433.21,743.34 438.20,747.30 438.20,753.24 C438.20,759.84 434.05,766.00 425.74,766.00 C418.81,766.00 411.33,762.70 410.50,757.20 Z" fill="url(#rpop2)" stroke="#3c3c3c" stroke-width="1.7"/>
<path d="M411.05,757.64 Q412.72,750.60 418.81,746.64" fill="none" stroke="#3c3c3c" stroke-width="2.4"/>
<rect x="464.30" y="690.5" width="100.00" height="97.30" fill="none" stroke="#555" stroke-width="1.1"/>
<text x="514.30" y="685.50" font-size="14.2" text-anchor="middle" fill="#231815" textLength="21.00" lengthAdjust="spacingAndGlyphs" >G5</text>
<line x1="461.50" y1="690.50" x2="464.30" y2="690.50" stroke="#333" stroke-width="1.1" />
<line x1="463.00" y1="695.91" x2="464.30" y2="695.91" stroke="#555" stroke-width="0.8" />
<line x1="463.00" y1="701.32" x2="464.30" y2="701.32" stroke="#555" stroke-width="0.8" />
<line x1="463.00" y1="706.73" x2="464.30" y2="706.73" stroke="#555" stroke-width="0.8" />
<line x1="463.00" y1="712.14" x2="464.30" y2="712.14" stroke="#555" stroke-width="0.8" />
<line x1="461.50" y1="717.55" x2="464.30" y2="717.55" stroke="#333" stroke-width="1.1" />
<line x1="463.00" y1="722.96" x2="464.30" y2="722.96" stroke="#555" stroke-width="0.8" />
<line x1="463.00" y1="728.37" x2="464.30" y2="728.37" stroke="#555" stroke-width="0.8" />
<line x1="463.00" y1="733.78" x2="464.30" y2="733.78" stroke="#555" stroke-width="0.8" />
<line x1="463.00" y1="739.19" x2="464.30" y2="739.19" stroke="#555" stroke-width="0.8" />
<line x1="461.50" y1="744.60" x2="464.30" y2="744.60" stroke="#333" stroke-width="1.1" />
<line x1="463.00" y1="750.01" x2="464.30" y2="750.01" stroke="#555" stroke-width="0.8" />
<line x1="463.00" y1="755.42" x2="464.30" y2="755.42" stroke="#555" stroke-width="0.8" />
<line x1="463.00" y1="760.83" x2="464.30" y2="760.83" stroke="#555" stroke-width="0.8" />
<line x1="463.00" y1="766.24" x2="464.30" y2="766.24" stroke="#555" stroke-width="0.8" />
<line x1="461.50" y1="771.65" x2="464.30" y2="771.65" stroke="#333" stroke-width="1.1" />
<line x1="463.00" y1="777.06" x2="464.30" y2="777.06" stroke="#555" stroke-width="0.8" />
<line x1="463.00" y1="782.47" x2="464.30" y2="782.47" stroke="#555" stroke-width="0.8" />
<line x1="470.90" y1="787.80" x2="470.90" y2="790.40" stroke="#333" stroke-width="1.0" />
<line x1="507.40" y1="787.80" x2="507.40" y2="790.40" stroke="#333" stroke-width="1.0" />
<line x1="537.90" y1="787.80" x2="537.90" y2="790.40" stroke="#333" stroke-width="1.0" />
<line x1="470.90" y1="787.80" x2="470.90" y2="789.10" stroke="#666" stroke-width="0.7" />
<line x1="474.80" y1="787.80" x2="474.80" y2="789.10" stroke="#666" stroke-width="0.7" />
<line x1="478.70" y1="787.80" x2="478.70" y2="789.10" stroke="#666" stroke-width="0.7" />
<line x1="482.60" y1="787.80" x2="482.60" y2="789.10" stroke="#666" stroke-width="0.7" />
<line x1="486.50" y1="787.80" x2="486.50" y2="789.10" stroke="#666" stroke-width="0.7" />
<line x1="490.40" y1="787.80" x2="490.40" y2="789.10" stroke="#666" stroke-width="0.7" />
<line x1="494.30" y1="787.80" x2="494.30" y2="789.10" stroke="#666" stroke-width="0.7" />
<line x1="498.20" y1="787.80" x2="498.20" y2="789.10" stroke="#666" stroke-width="0.7" />
<line x1="502.10" y1="787.80" x2="502.10" y2="789.10" stroke="#666" stroke-width="0.7" />
<line x1="506.00" y1="787.80" x2="506.00" y2="789.10" stroke="#666" stroke-width="0.7" />
<line x1="509.90" y1="787.80" x2="509.90" y2="789.10" stroke="#666" stroke-width="0.7" />
<line x1="513.80" y1="787.80" x2="513.80" y2="789.10" stroke="#666" stroke-width="0.7" />
<line x1="517.70" y1="787.80" x2="517.70" y2="789.10" stroke="#666" stroke-width="0.7" />
<line x1="521.60" y1="787.80" x2="521.60" y2="789.10" stroke="#666" stroke-width="0.7" />
<line x1="525.50" y1="787.80" x2="525.50" y2="789.10" stroke="#666" stroke-width="0.7" />
<line x1="529.40" y1="787.80" x2="529.40" y2="789.10" stroke="#666" stroke-width="0.7" />
<line x1="533.30" y1="787.80" x2="533.30" y2="789.10" stroke="#666" stroke-width="0.7" />
<line x1="537.20" y1="787.80" x2="537.20" y2="789.10" stroke="#666" stroke-width="0.7" />
<line x1="541.10" y1="787.80" x2="541.10" y2="789.10" stroke="#666" stroke-width="0.7" />
<line x1="545.00" y1="787.80" x2="545.00" y2="789.10" stroke="#666" stroke-width="0.7" />
<line x1="548.90" y1="787.80" x2="548.90" y2="789.10" stroke="#666" stroke-width="0.7" />
<line x1="552.80" y1="787.80" x2="552.80" y2="789.10" stroke="#666" stroke-width="0.7" />
<line x1="556.70" y1="787.80" x2="556.70" y2="789.10" stroke="#666" stroke-width="0.7" />
<line x1="560.60" y1="787.80" x2="560.60" y2="789.10" stroke="#666" stroke-width="0.7" />
<rect x="486.80" y="788.10" width="3.20" height="2.30" fill="#111" />
<path d="M516.30,713.9 L564.30,712.7 L564.30,775.4 L507.60,775.4 Z" fill="none" stroke="#333" stroke-width="0.9"/>
<text x="525.70" y="730.70" font-size="14.2" text-anchor="start" fill="#231815" textLength="28.60" lengthAdjust="spacingAndGlyphs" >27.7</text>
<path d="M500.95,755.40 L509.30,758.48 L500.95,762.40 Z" fill="#3a3a3a"/>
<path d="M489.81,740.00 C493.15,740.00 498.73,747.00 502.52,752.60 C504.75,755.96 504.30,759.04 500.95,761.00 C496.50,764.08 490.92,768.00 487.57,768.00 C484.23,768.00 482.00,764.64 482.00,759.60 C482.00,752.60 485.35,740.00 489.81,740.00 Z" fill="url(#lpop)" stroke="#444" stroke-width="1.0"/>
<path d="M495.38,743.36 Q503.85,754.00 502.07,760.16" fill="none" stroke="#3a3a3a" stroke-width="2.0"/>
<path d="M489.81,740.00 C493.15,740.00 498.73,747.00 502.52,752.60 C504.75,755.96 504.30,759.04 500.95,761.00 C496.50,764.08 490.92,768.00 487.57,768.00 C484.23,768.00 482.00,764.64 482.00,759.60 C482.00,752.60 485.35,740.00 489.81,740.00 Z" fill="none" stroke="#666" stroke-width="0.55" transform="translate(107.76,166.80) scale(0.78)" opacity="0.9"/>
<path d="M489.81,740.00 C493.15,740.00 498.73,747.00 502.52,752.60 C504.75,755.96 504.30,759.04 500.95,761.00 C496.50,764.08 490.92,768.00 487.57,768.00 C484.23,768.00 482.00,764.64 482.00,759.60 C482.00,752.60 485.35,740.00 489.81,740.00 Z" fill="none" stroke="#666" stroke-width="0.55" transform="translate(205.72,318.44) scale(0.58)" opacity="0.9"/>
<path d="M489.81,740.00 C493.15,740.00 498.73,747.00 502.52,752.60 C504.75,755.96 504.30,759.04 500.95,761.00 C496.50,764.08 490.92,768.00 487.57,768.00 C484.23,768.00 482.00,764.64 482.00,759.60 C482.00,752.60 485.35,740.00 489.81,740.00 Z" fill="none" stroke="#666" stroke-width="0.55" transform="translate(293.88,454.92) scale(0.4)" opacity="0.9"/>
<path d="M489.81,740.00 C493.15,740.00 498.73,747.00 502.52,752.60 C504.75,755.96 504.30,759.04 500.95,761.00 C496.50,764.08 490.92,768.00 487.57,768.00 C484.23,768.00 482.00,764.64 482.00,759.60 C482.00,752.60 485.35,740.00 489.81,740.00 Z" fill="none" stroke="#666" stroke-width="0.55" transform="translate(372.25,576.23) scale(0.24)" opacity="0.9"/>
<path d="M517.20,757.20 C520.63,751.70 529.21,745.10 537.78,744.00 C545.33,743.34 551.50,747.30 551.50,753.24 C551.50,759.84 546.36,766.00 536.07,766.00 C527.49,766.00 518.23,762.70 517.20,757.20 Z" fill="url(#rpop2)" stroke="#3c3c3c" stroke-width="1.7"/>
<path d="M517.89,757.64 Q519.94,750.60 527.49,746.64" fill="none" stroke="#3c3c3c" stroke-width="2.4"/>
<rect x="575.40" y="690.5" width="100.00" height="97.30" fill="none" stroke="#555" stroke-width="1.1"/>
<text x="625.40" y="685.50" font-size="14.2" text-anchor="middle" fill="#231815" textLength="21.00" lengthAdjust="spacingAndGlyphs" >G6</text>
<line x1="572.60" y1="690.50" x2="575.40" y2="690.50" stroke="#333" stroke-width="1.1" />
<line x1="574.10" y1="695.91" x2="575.40" y2="695.91" stroke="#555" stroke-width="0.8" />
<line x1="574.10" y1="701.32" x2="575.40" y2="701.32" stroke="#555" stroke-width="0.8" />
<line x1="574.10" y1="706.73" x2="575.40" y2="706.73" stroke="#555" stroke-width="0.8" />
<line x1="574.10" y1="712.14" x2="575.40" y2="712.14" stroke="#555" stroke-width="0.8" />
<line x1="572.60" y1="717.55" x2="575.40" y2="717.55" stroke="#333" stroke-width="1.1" />
<line x1="574.10" y1="722.96" x2="575.40" y2="722.96" stroke="#555" stroke-width="0.8" />
<line x1="574.10" y1="728.37" x2="575.40" y2="728.37" stroke="#555" stroke-width="0.8" />
<line x1="574.10" y1="733.78" x2="575.40" y2="733.78" stroke="#555" stroke-width="0.8" />
<line x1="574.10" y1="739.19" x2="575.40" y2="739.19" stroke="#555" stroke-width="0.8" />
<line x1="572.60" y1="744.60" x2="575.40" y2="744.60" stroke="#333" stroke-width="1.1" />
<line x1="574.10" y1="750.01" x2="575.40" y2="750.01" stroke="#555" stroke-width="0.8" />
<line x1="574.10" y1="755.42" x2="575.40" y2="755.42" stroke="#555" stroke-width="0.8" />
<line x1="574.10" y1="760.83" x2="575.40" y2="760.83" stroke="#555" stroke-width="0.8" />
<line x1="574.10" y1="766.24" x2="575.40" y2="766.24" stroke="#555" stroke-width="0.8" />
<line x1="572.60" y1="771.65" x2="575.40" y2="771.65" stroke="#333" stroke-width="1.1" />
<line x1="574.10" y1="777.06" x2="575.40" y2="777.06" stroke="#555" stroke-width="0.8" />
<line x1="574.10" y1="782.47" x2="575.40" y2="782.47" stroke="#555" stroke-width="0.8" />
<line x1="582.00" y1="787.80" x2="582.00" y2="790.40" stroke="#333" stroke-width="1.0" />
<line x1="618.50" y1="787.80" x2="618.50" y2="790.40" stroke="#333" stroke-width="1.0" />
<line x1="649.00" y1="787.80" x2="649.00" y2="790.40" stroke="#333" stroke-width="1.0" />
<line x1="582.00" y1="787.80" x2="582.00" y2="789.10" stroke="#666" stroke-width="0.7" />
<line x1="585.90" y1="787.80" x2="585.90" y2="789.10" stroke="#666" stroke-width="0.7" />
<line x1="589.80" y1="787.80" x2="589.80" y2="789.10" stroke="#666" stroke-width="0.7" />
<line x1="593.70" y1="787.80" x2="593.70" y2="789.10" stroke="#666" stroke-width="0.7" />
<line x1="597.60" y1="787.80" x2="597.60" y2="789.10" stroke="#666" stroke-width="0.7" />
<line x1="601.50" y1="787.80" x2="601.50" y2="789.10" stroke="#666" stroke-width="0.7" />
<line x1="605.40" y1="787.80" x2="605.40" y2="789.10" stroke="#666" stroke-width="0.7" />
<line x1="609.30" y1="787.80" x2="609.30" y2="789.10" stroke="#666" stroke-width="0.7" />
<line x1="613.20" y1="787.80" x2="613.20" y2="789.10" stroke="#666" stroke-width="0.7" />
<line x1="617.10" y1="787.80" x2="617.10" y2="789.10" stroke="#666" stroke-width="0.7" />
<line x1="621.00" y1="787.80" x2="621.00" y2="789.10" stroke="#666" stroke-width="0.7" />
<line x1="624.90" y1="787.80" x2="624.90" y2="789.10" stroke="#666" stroke-width="0.7" />
<line x1="628.80" y1="787.80" x2="628.80" y2="789.10" stroke="#666" stroke-width="0.7" />
<line x1="632.70" y1="787.80" x2="632.70" y2="789.10" stroke="#666" stroke-width="0.7" />
<line x1="636.60" y1="787.80" x2="636.60" y2="789.10" stroke="#666" stroke-width="0.7" />
<line x1="640.50" y1="787.80" x2="640.50" y2="789.10" stroke="#666" stroke-width="0.7" />
<line x1="644.40" y1="787.80" x2="644.40" y2="789.10" stroke="#666" stroke-width="0.7" />
<line x1="648.30" y1="787.80" x2="648.30" y2="789.10" stroke="#666" stroke-width="0.7" />
<line x1="652.20" y1="787.80" x2="652.20" y2="789.10" stroke="#666" stroke-width="0.7" />
<line x1="656.10" y1="787.80" x2="656.10" y2="789.10" stroke="#666" stroke-width="0.7" />
<line x1="660.00" y1="787.80" x2="660.00" y2="789.10" stroke="#666" stroke-width="0.7" />
<line x1="663.90" y1="787.80" x2="663.90" y2="789.10" stroke="#666" stroke-width="0.7" />
<line x1="667.80" y1="787.80" x2="667.80" y2="789.10" stroke="#666" stroke-width="0.7" />
<line x1="671.70" y1="787.80" x2="671.70" y2="789.10" stroke="#666" stroke-width="0.7" />
<rect x="597.90" y="788.10" width="3.20" height="2.30" fill="#111" />
<path d="M627.40,713.9 L675.40,712.7 L675.40,775.4 L618.70,775.4 Z" fill="none" stroke="#333" stroke-width="0.9"/>
<text x="635.50" y="730.70" font-size="14.2" text-anchor="start" fill="#231815" textLength="28.60" lengthAdjust="spacingAndGlyphs" >17.3</text>
<path d="M612.51,755.40 L620.90,758.48 L612.51,762.40 Z" fill="#000"/>
<path d="M601.21,740.00 C604.60,740.00 610.25,747.00 614.09,752.60 C616.35,755.96 615.90,759.04 612.51,761.00 C607.99,764.08 602.34,768.00 598.95,768.00 C595.56,768.00 593.30,764.64 593.30,759.60 C593.30,752.60 596.69,740.00 601.21,740.00 Z" fill="url(#lpop)" stroke="#111" stroke-width="1.5"/>
<path d="M606.86,743.36 Q615.45,754.00 613.64,760.16" fill="none" stroke="#000" stroke-width="2.6"/>
<path d="M601.21,740.00 C604.60,740.00 610.25,747.00 614.09,752.60 C616.35,755.96 615.90,759.04 612.51,761.00 C607.99,764.08 602.34,768.00 598.95,768.00 C595.56,768.00 593.30,764.64 593.30,759.60 C593.30,752.60 596.69,740.00 601.21,740.00 Z" fill="none" stroke="#222" stroke-width="0.55" transform="translate(132.27,166.80) scale(0.78)" opacity="0.9"/>
<path d="M601.21,740.00 C604.60,740.00 610.25,747.00 614.09,752.60 C616.35,755.96 615.90,759.04 612.51,761.00 C607.99,764.08 602.34,768.00 598.95,768.00 C595.56,768.00 593.30,764.64 593.30,759.60 C593.30,752.60 596.69,740.00 601.21,740.00 Z" fill="none" stroke="#222" stroke-width="0.55" transform="translate(252.51,318.44) scale(0.58)" opacity="0.9"/>
<path d="M601.21,740.00 C604.60,740.00 610.25,747.00 614.09,752.60 C616.35,755.96 615.90,759.04 612.51,761.00 C607.99,764.08 602.34,768.00 598.95,768.00 C595.56,768.00 593.30,764.64 593.30,759.60 C593.30,752.60 596.69,740.00 601.21,740.00 Z" fill="none" stroke="#222" stroke-width="0.55" transform="translate(360.73,454.92) scale(0.4)" opacity="0.9"/>
<path d="M601.21,740.00 C604.60,740.00 610.25,747.00 614.09,752.60 C616.35,755.96 615.90,759.04 612.51,761.00 C607.99,764.08 602.34,768.00 598.95,768.00 C595.56,768.00 593.30,764.64 593.30,759.60 C593.30,752.60 596.69,740.00 601.21,740.00 Z" fill="none" stroke="#222" stroke-width="0.55" transform="translate(456.92,576.23) scale(0.24)" opacity="0.9"/>
<path d="M633.60,757.20 C636.31,751.70 643.09,745.10 649.86,744.00 C655.82,743.34 660.70,747.30 660.70,753.24 C660.70,759.84 656.63,766.00 648.50,766.00 C641.73,766.00 634.41,762.70 633.60,757.20 Z" fill="url(#rpop2)" stroke="#000" stroke-width="2.2"/>
<path d="M634.14,757.64 Q635.77,750.60 641.73,746.64" fill="none" stroke="#000" stroke-width="2.4"/>
<text x="16.10" y="769.40" font-size="11.6" text-anchor="middle" fill="#231815" textLength="34.20" lengthAdjust="spacingAndGlyphs" transform="rotate(-90 16.10 769.40)" >SSC-A</text>
<line x1="12.50" y1="745.00" x2="12.50" y2="695.50" stroke="#231815" stroke-width="1.3" />
<path d="M9.9,700.3 L12.5,695.0 L15.1,700.3" fill="none" stroke="#231815" stroke-width="1.3" />
<text x="16.00" y="802.60" font-size="11.2" text-anchor="start" fill="#231815" textLength="23.00" lengthAdjust="spacingAndGlyphs" >CD3</text>
<line x1="45.50" y1="797.30" x2="96.50" y2="797.30" stroke="#231815" stroke-width="1.3" />
<path d="M91.6,794.7 L96.9,797.3 L91.6,799.9" fill="none" stroke="#231815" stroke-width="1.3" />
<text x="-1.20" y="828.30" font-size="28.3" text-anchor="start" fill="#231815" >g</text>
<line x1="53.20" y1="833.90" x2="53.20" y2="938.10" stroke="#1a1a1a" stroke-width="1.3" />
<line x1="52.60" y1="937.50" x2="157.30" y2="937.50" stroke="#1a1a1a" stroke-width="1.3" />
<line x1="50.60" y1="937.50" x2="53.20" y2="937.50" stroke="#1a1a1a" stroke-width="1.1" />
<text x="49.60" y="940.40" font-size="8" text-anchor="end" fill="#1a1a1a" >0</text>
<line x1="50.60" y1="903.17" x2="53.20" y2="903.17" stroke="#1a1a1a" stroke-width="1.1" />
<text x="49.60" y="906.07" font-size="8" text-anchor="end" fill="#1a1a1a" >10</text>
<line x1="50.60" y1="868.83" x2="53.20" y2="868.83" stroke="#1a1a1a" stroke-width="1.1" />
<text x="49.60" y="871.73" font-size="8" text-anchor="end" fill="#1a1a1a" >20</text>
<line x1="50.60" y1="834.50" x2="53.20" y2="834.50" stroke="#1a1a1a" stroke-width="1.1" />
<text x="49.60" y="837.40" font-size="8" text-anchor="end" fill="#1a1a1a" >30</text>
<line x1="65.30" y1="937.50" x2="65.30" y2="940.30" stroke="#1a1a1a" stroke-width="1.1" />
<text x="65.30" y="949.50" font-size="8.9" text-anchor="middle" fill="#1a1a1a" textLength="10.80" lengthAdjust="spacingAndGlyphs" >G1</text>
<line x1="81.28" y1="937.50" x2="81.28" y2="940.30" stroke="#1a1a1a" stroke-width="1.1" />
<text x="81.28" y="949.50" font-size="8.9" text-anchor="middle" fill="#1a1a1a" textLength="10.80" lengthAdjust="spacingAndGlyphs" >G2</text>
<line x1="97.26" y1="937.50" x2="97.26" y2="940.30" stroke="#1a1a1a" stroke-width="1.1" />
<text x="97.26" y="949.50" font-size="8.9" text-anchor="middle" fill="#1a1a1a" textLength="10.80" lengthAdjust="spacingAndGlyphs" >G3</text>
<line x1="113.24" y1="937.50" x2="113.24" y2="940.30" stroke="#1a1a1a" stroke-width="1.1" />
<text x="113.24" y="949.50" font-size="8.9" text-anchor="middle" fill="#1a1a1a" textLength="10.80" lengthAdjust="spacingAndGlyphs" >G4</text>
<line x1="129.22" y1="937.50" x2="129.22" y2="940.30" stroke="#1a1a1a" stroke-width="1.1" />
<text x="129.22" y="949.50" font-size="8.9" text-anchor="middle" fill="#1a1a1a" textLength="10.80" lengthAdjust="spacingAndGlyphs" >G5</text>
<line x1="145.20" y1="937.50" x2="145.20" y2="940.30" stroke="#1a1a1a" stroke-width="1.1" />
<text x="145.20" y="949.50" font-size="8.9" text-anchor="middle" fill="#1a1a1a" textLength="10.80" lengthAdjust="spacingAndGlyphs" >G6</text>
<line x1="59.70" y1="905.70" x2="70.90" y2="905.70" stroke="#5aa0f5" stroke-width="1.1" />
<line x1="65.30" y1="903.30" x2="65.30" y2="905.70" stroke="#5aa0f5" stroke-width="1.1" />
<line x1="62.50" y1="903.30" x2="68.10" y2="903.30" stroke="#5aa0f5" stroke-width="1.1" />
<line x1="65.30" y1="905.70" x2="65.30" y2="908.30" stroke="#5aa0f5" stroke-width="1.1" />
<line x1="62.50" y1="908.30" x2="68.10" y2="908.30" stroke="#5aa0f5" stroke-width="1.1" />
<circle cx="63.80" cy="902.70" r="2.05" fill="#4f95ee" stroke="#3a78d0" stroke-width="0.6"/>
<circle cx="66.40" cy="903.30" r="2.05" fill="#4f95ee" stroke="#3a78d0" stroke-width="0.6"/>
<circle cx="67.60" cy="906.60" r="2.05" fill="#4f95ee" stroke="#3a78d0" stroke-width="0.6"/>
<circle cx="65.00" cy="908.60" r="2.05" fill="#4f95ee" stroke="#3a78d0" stroke-width="0.6"/>
<circle cx="61.80" cy="905.60" r="2.05" fill="#4f95ee" stroke="#3a78d0" stroke-width="0.6"/>
<line x1="75.68" y1="907.10" x2="86.88" y2="907.10" stroke="#ff1a1a" stroke-width="1.1" />
<line x1="81.28" y1="905.00" x2="81.28" y2="907.10" stroke="#ff1a1a" stroke-width="1.1" />
<line x1="78.48" y1="905.00" x2="84.08" y2="905.00" stroke="#ff1a1a" stroke-width="1.1" />
<line x1="81.28" y1="907.10" x2="81.28" y2="909.50" stroke="#ff1a1a" stroke-width="1.1" />
<line x1="78.48" y1="909.50" x2="84.08" y2="909.50" stroke="#ff1a1a" stroke-width="1.1" />
<rect x="77.20" y="902.30" width="3.80" height="3.80" fill="#ff0000"/>
<rect x="81.60" y="903.00" width="3.80" height="3.80" fill="#ff0000"/>
<rect x="75.00" y="904.50" width="3.80" height="3.80" fill="#ff0000"/>
<rect x="83.00" y="905.90" width="3.80" height="3.80" fill="#ff0000"/>
<rect x="79.40" y="908.90" width="3.80" height="3.80" fill="#ff0000"/>
<line x1="91.66" y1="906.40" x2="102.86" y2="906.40" stroke="#1fbf7a" stroke-width="1.1" />
<line x1="97.26" y1="904.60" x2="97.26" y2="906.40" stroke="#1fbf7a" stroke-width="1.1" />
<line x1="94.46" y1="904.60" x2="100.06" y2="904.60" stroke="#1fbf7a" stroke-width="1.1" />
<line x1="97.26" y1="906.40" x2="97.26" y2="908.20" stroke="#1fbf7a" stroke-width="1.1" />
<line x1="94.46" y1="908.20" x2="100.06" y2="908.20" stroke="#1fbf7a" stroke-width="1.1" />
<path d="M100.30,902.14L102.66,906.14L97.94,906.14Z" fill="#1fbf7a"/>
<path d="M93.70,904.35L96.06,908.34L91.34,908.34Z" fill="#1fbf7a"/>
<path d="M97.30,905.54L99.66,909.54L94.94,909.54Z" fill="#1fbf7a"/>
<path d="M95.10,907.04L97.46,911.04L92.74,911.04Z" fill="#1fbf7a"/>
<line x1="107.64" y1="907.10" x2="118.84" y2="907.10" stroke="#b060e0" stroke-width="1.1" />
<line x1="113.24" y1="901.30" x2="113.24" y2="907.10" stroke="#b060e0" stroke-width="1.1" />
<line x1="110.44" y1="901.30" x2="116.04" y2="901.30" stroke="#b060e0" stroke-width="1.1" />
<line x1="113.24" y1="907.10" x2="113.24" y2="911.50" stroke="#b060e0" stroke-width="1.1" />
<line x1="110.44" y1="911.50" x2="116.04" y2="911.50" stroke="#b060e0" stroke-width="1.1" />
<path d="M113.00,902.25L115.36,898.26L110.64,898.26Z" fill="#b45ee0"/>
<path d="M111.20,908.65L113.56,904.66L108.84,904.66Z" fill="#b45ee0"/>
<path d="M114.90,912.25L117.26,908.26L112.54,908.26Z" fill="#b45ee0"/>
<path d="M112.70,913.05L115.06,909.06L110.34,909.06Z" fill="#b45ee0"/>
<line x1="123.62" y1="892.20" x2="134.82" y2="892.20" stroke="#ff6a1a" stroke-width="1.1" />
<line x1="129.22" y1="887.40" x2="129.22" y2="892.20" stroke="#ff6a1a" stroke-width="1.1" />
<line x1="126.42" y1="887.40" x2="132.02" y2="887.40" stroke="#ff6a1a" stroke-width="1.1" />
<line x1="129.22" y1="892.20" x2="129.22" y2="897.60" stroke="#ff6a1a" stroke-width="1.1" />
<line x1="126.42" y1="897.60" x2="132.02" y2="897.60" stroke="#ff6a1a" stroke-width="1.1" />
<path d="M129.00,882.74L131.46,885.20L129.00,887.66L126.54,885.20Z" fill="#ff6a1a"/>
<path d="M125.10,889.74L127.56,892.20L125.10,894.66L122.64,892.20Z" fill="#ff6a1a"/>
<path d="M133.10,890.34L135.56,892.80L133.10,895.26L130.64,892.80Z" fill="#ff6a1a"/>
<path d="M129.00,897.34L131.46,899.80L129.00,902.26L126.54,899.80Z" fill="#ff6a1a"/>
<line x1="139.60" y1="908.60" x2="150.80" y2="908.60" stroke="#000" stroke-width="1.1" />
<line x1="145.20" y1="906.60" x2="145.20" y2="908.60" stroke="#000" stroke-width="1.1" />
<line x1="142.40" y1="906.60" x2="148.00" y2="906.60" stroke="#000" stroke-width="1.1" />
<line x1="145.20" y1="908.60" x2="145.20" y2="910.20" stroke="#000" stroke-width="1.1" />
<line x1="142.40" y1="910.20" x2="148.00" y2="910.20" stroke="#000" stroke-width="1.1" />
<circle cx="148.40" cy="905.70" r="2.05" fill="#000000"/>
<circle cx="145.50" cy="907.80" r="2.05" fill="#000000"/>
<circle cx="142.60" cy="909.30" r="2.05" fill="#000000"/>
<circle cx="144.00" cy="910.80" r="2.05" fill="#000000"/>
<circle cx="146.50" cy="906.00" r="2.05" fill="#000000"/>
<line x1="65.40" y1="837.80" x2="130.80" y2="837.80" stroke="#1a1a1a" stroke-width="1.15" />
<path d="M91.50,829.50L91.50,834.50M89.33,830.75L93.67,833.25M93.67,830.75L89.33,833.25" stroke="#1a1a1a" stroke-width="1.0" fill="none"/>
<path d="M98.40,829.50L98.40,834.50M96.23,830.75L100.57,833.25M100.57,830.75L96.23,833.25" stroke="#1a1a1a" stroke-width="1.0" fill="none"/>
<path d="M105.30,829.50L105.30,834.50M103.13,830.75L107.47,833.25M107.47,830.75L103.13,833.25" stroke="#1a1a1a" stroke-width="1.0" fill="none"/>
<line x1="79.40" y1="848.40" x2="130.80" y2="848.40" stroke="#1a1a1a" stroke-width="1.15" />
<path d="M98.50,840.10L98.50,845.10M96.33,841.35L100.67,843.85M100.67,841.35L96.33,843.85" stroke="#1a1a1a" stroke-width="1.0" fill="none"/>
<path d="M105.40,840.10L105.40,845.10M103.23,841.35L107.57,843.85M107.57,841.35L103.23,843.85" stroke="#1a1a1a" stroke-width="1.0" fill="none"/>
<path d="M112.30,840.10L112.30,845.10M110.13,841.35L114.47,843.85M114.47,841.35L110.13,843.85" stroke="#1a1a1a" stroke-width="1.0" fill="none"/>
<line x1="98.10" y1="858.40" x2="130.80" y2="858.40" stroke="#1a1a1a" stroke-width="1.15" />
<path d="M107.85,850.10L107.85,855.10M105.68,851.35L110.02,853.85M110.02,851.35L105.68,853.85" stroke="#1a1a1a" stroke-width="1.0" fill="none"/>
<path d="M114.75,850.10L114.75,855.10M112.58,851.35L116.92,853.85M116.92,851.35L112.58,853.85" stroke="#1a1a1a" stroke-width="1.0" fill="none"/>
<path d="M121.65,850.10L121.65,855.10M119.48,851.35L123.82,853.85M123.82,851.35L119.48,853.85" stroke="#1a1a1a" stroke-width="1.0" fill="none"/>
<line x1="114.00" y1="869.10" x2="130.80" y2="869.10" stroke="#1a1a1a" stroke-width="1.15" />
<path d="M115.80,860.80L115.80,865.80M113.63,862.05L117.97,864.55M117.97,862.05L113.63,864.55" stroke="#1a1a1a" stroke-width="1.0" fill="none"/>
<path d="M122.70,860.80L122.70,865.80M120.53,862.05L124.87,864.55M124.87,862.05L120.53,864.55" stroke="#1a1a1a" stroke-width="1.0" fill="none"/>
<path d="M129.60,860.80L129.60,865.80M127.43,862.05L131.77,864.55M131.77,862.05L127.43,864.55" stroke="#1a1a1a" stroke-width="1.0" fill="none"/>
<line x1="130.30" y1="880.10" x2="147.70" y2="880.10" stroke="#1a1a1a" stroke-width="1.15" />
<path d="M132.40,871.80L132.40,876.80M130.23,873.05L134.57,875.55M134.57,873.05L130.23,875.55" stroke="#1a1a1a" stroke-width="1.0" fill="none"/>
<path d="M139.30,871.80L139.30,876.80M137.13,873.05L141.47,875.55M141.47,873.05L137.13,875.55" stroke="#1a1a1a" stroke-width="1.0" fill="none"/>
<path d="M146.20,871.80L146.20,876.80M144.03,873.05L148.37,875.55M148.37,873.05L144.03,875.55" stroke="#1a1a1a" stroke-width="1.0" fill="none"/>
<text x="35.20" y="885.80" font-size="10.6" text-anchor="middle" fill="#1a1a1a" transform="rotate(-90 35.20 885.80)" textLength="122.70" lengthAdjust="spacingAndGlyphs">CD8<tspan font-size="6" dy="-4">+</tspan><tspan dy="4"> cells in  lymphcyte (%)</tspan></text>
<text x="160.40" y="828.50" font-size="25.5" text-anchor="start" fill="#231815" >h</text>
<line x1="215.10" y1="832.90" x2="215.10" y2="939.10" stroke="#1a1a1a" stroke-width="1.3" />
<line x1="214.50" y1="938.50" x2="320.60" y2="938.50" stroke="#1a1a1a" stroke-width="1.3" />
<line x1="212.50" y1="938.50" x2="215.10" y2="938.50" stroke="#1a1a1a" stroke-width="1.1" />
<text x="211.50" y="941.40" font-size="8" text-anchor="end" fill="#1a1a1a" >0</text>
<line x1="212.50" y1="912.25" x2="215.10" y2="912.25" stroke="#1a1a1a" stroke-width="1.1" />
<text x="211.50" y="915.15" font-size="8" text-anchor="end" fill="#1a1a1a" >2</text>
<line x1="212.50" y1="886.00" x2="215.10" y2="886.00" stroke="#1a1a1a" stroke-width="1.1" />
<text x="211.50" y="888.90" font-size="8" text-anchor="end" fill="#1a1a1a" >4</text>
<line x1="212.50" y1="859.75" x2="215.10" y2="859.75" stroke="#1a1a1a" stroke-width="1.1" />
<text x="211.50" y="862.65" font-size="8" text-anchor="end" fill="#1a1a1a" >6</text>
<line x1="212.50" y1="833.50" x2="215.10" y2="833.50" stroke="#1a1a1a" stroke-width="1.1" />
<text x="211.50" y="836.40" font-size="8" text-anchor="end" fill="#1a1a1a" >8</text>
<line x1="227.30" y1="938.50" x2="227.30" y2="941.30" stroke="#1a1a1a" stroke-width="1.1" />
<text x="227.30" y="949.50" font-size="8.9" text-anchor="middle" fill="#1a1a1a" textLength="10.80" lengthAdjust="spacingAndGlyphs" >G1</text>
<line x1="243.55" y1="938.50" x2="243.55" y2="941.30" stroke="#1a1a1a" stroke-width="1.1" />
<text x="243.55" y="949.50" font-size="8.9" text-anchor="middle" fill="#1a1a1a" textLength="10.80" lengthAdjust="spacingAndGlyphs" >G2</text>
<line x1="259.80" y1="938.50" x2="259.80" y2="941.30" stroke="#1a1a1a" stroke-width="1.1" />
<text x="259.80" y="949.50" font-size="8.9" text-anchor="middle" fill="#1a1a1a" textLength="10.80" lengthAdjust="spacingAndGlyphs" >G3</text>
<line x1="276.05" y1="938.50" x2="276.05" y2="941.30" stroke="#1a1a1a" stroke-width="1.1" />
<text x="276.05" y="949.50" font-size="8.9" text-anchor="middle" fill="#1a1a1a" textLength="10.80" lengthAdjust="spacingAndGlyphs" >G4</text>
<line x1="292.30" y1="938.50" x2="292.30" y2="941.30" stroke="#1a1a1a" stroke-width="1.1" />
<text x="292.30" y="949.50" font-size="8.9" text-anchor="middle" fill="#1a1a1a" textLength="10.80" lengthAdjust="spacingAndGlyphs" >G5</text>
<line x1="308.55" y1="938.50" x2="308.55" y2="941.30" stroke="#1a1a1a" stroke-width="1.1" />
<text x="308.55" y="949.50" font-size="8.9" text-anchor="middle" fill="#1a1a1a" textLength="10.80" lengthAdjust="spacingAndGlyphs" >G6</text>
<line x1="221.70" y1="900.60" x2="232.90" y2="900.60" stroke="#5aa0f5" stroke-width="1.1" />
<line x1="227.30" y1="895.30" x2="227.30" y2="900.60" stroke="#5aa0f5" stroke-width="1.1" />
<line x1="224.50" y1="895.30" x2="230.10" y2="895.30" stroke="#5aa0f5" stroke-width="1.1" />
<line x1="227.30" y1="900.60" x2="227.30" y2="906.40" stroke="#5aa0f5" stroke-width="1.1" />
<line x1="224.50" y1="906.40" x2="230.10" y2="906.40" stroke="#5aa0f5" stroke-width="1.1" />
<circle cx="224.50" cy="894.90" r="2.05" fill="#4f95ee" stroke="#3a78d0" stroke-width="0.6"/>
<circle cx="233.10" cy="897.20" r="2.05" fill="#4f95ee" stroke="#3a78d0" stroke-width="0.6"/>
<circle cx="229.60" cy="902.60" r="2.05" fill="#4f95ee" stroke="#3a78d0" stroke-width="0.6"/>
<circle cx="224.50" cy="906.10" r="2.05" fill="#4f95ee" stroke="#3a78d0" stroke-width="0.6"/>
<circle cx="228.00" cy="899.00" r="2.05" fill="#4f95ee" stroke="#3a78d0" stroke-width="0.6"/>
<line x1="237.95" y1="901.00" x2="249.15" y2="901.00" stroke="#ff1a1a" stroke-width="1.1" />
<line x1="243.55" y1="892.60" x2="243.55" y2="901.00" stroke="#ff1a1a" stroke-width="1.1" />
<line x1="240.75" y1="892.60" x2="246.35" y2="892.60" stroke="#ff1a1a" stroke-width="1.1" />
<line x1="243.55" y1="901.00" x2="243.55" y2="911.00" stroke="#ff1a1a" stroke-width="1.1" />
<line x1="240.75" y1="911.00" x2="246.35" y2="911.00" stroke="#ff1a1a" stroke-width="1.1" />
<rect x="241.50" y="891.50" width="3.80" height="3.80" fill="#ff0000"/>
<rect x="238.40" y="896.10" width="3.80" height="3.80" fill="#ff0000"/>
<rect x="245.00" y="899.10" width="3.80" height="3.80" fill="#ff0000"/>
<rect x="241.50" y="909.90" width="3.80" height="3.80" fill="#ff0000"/>
<rect x="241.10" y="895.10" width="3.80" height="3.80" fill="#ff0000"/>
<line x1="254.20" y1="904.10" x2="265.40" y2="904.10" stroke="#1fbf7a" stroke-width="1.1" />
<line x1="259.80" y1="902.90" x2="259.80" y2="904.10" stroke="#1fbf7a" stroke-width="1.1" />
<line x1="257.00" y1="902.90" x2="262.60" y2="902.90" stroke="#1fbf7a" stroke-width="1.1" />
<line x1="259.80" y1="904.10" x2="259.80" y2="905.30" stroke="#1fbf7a" stroke-width="1.1" />
<line x1="257.00" y1="905.30" x2="262.60" y2="905.30" stroke="#1fbf7a" stroke-width="1.1" />
<path d="M256.50,902.25L258.86,906.24L254.14,906.24Z" fill="#1fbf7a"/>
<path d="M260.00,901.25L262.36,905.24L257.64,905.24Z" fill="#1fbf7a"/>
<path d="M263.50,901.75L265.86,905.74L261.14,905.74Z" fill="#1fbf7a"/>
<path d="M258.50,903.25L260.86,907.24L256.14,907.24Z" fill="#1fbf7a"/>
<path d="M262.00,902.95L264.36,906.94L259.64,906.94Z" fill="#1fbf7a"/>
<line x1="270.45" y1="904.10" x2="281.65" y2="904.10" stroke="#b060e0" stroke-width="1.1" />
<line x1="276.05" y1="895.70" x2="276.05" y2="904.10" stroke="#b060e0" stroke-width="1.1" />
<line x1="273.25" y1="895.70" x2="278.85" y2="895.70" stroke="#b060e0" stroke-width="1.1" />
<line x1="276.05" y1="904.10" x2="276.05" y2="907.50" stroke="#b060e0" stroke-width="1.1" />
<line x1="273.25" y1="907.50" x2="278.85" y2="907.50" stroke="#b060e0" stroke-width="1.1" />
<path d="M276.00,897.96L278.36,893.96L273.64,893.96Z" fill="#b45ee0"/>
<path d="M274.00,904.86L276.36,900.86L271.64,900.86Z" fill="#b45ee0"/>
<path d="M277.80,906.36L280.16,902.36L275.44,902.36Z" fill="#b45ee0"/>
<path d="M275.50,910.15L277.86,906.16L273.14,906.16Z" fill="#b45ee0"/>
<line x1="286.70" y1="883.70" x2="297.90" y2="883.70" stroke="#ff6a1a" stroke-width="1.1" />
<line x1="292.30" y1="873.90" x2="292.30" y2="883.70" stroke="#ff6a1a" stroke-width="1.1" />
<line x1="289.50" y1="873.90" x2="295.10" y2="873.90" stroke="#ff6a1a" stroke-width="1.1" />
<line x1="292.30" y1="883.70" x2="292.30" y2="893.40" stroke="#ff6a1a" stroke-width="1.1" />
<line x1="289.50" y1="893.40" x2="295.10" y2="893.40" stroke="#ff6a1a" stroke-width="1.1" />
<path d="M290.10,874.04L292.56,876.50L290.10,878.96L287.64,876.50Z" fill="#ff6a1a"/>
<path d="M294.70,873.24L297.16,875.70L294.70,878.16L292.24,875.70Z" fill="#ff6a1a"/>
<path d="M292.40,883.24L294.86,885.70L292.40,888.16L289.94,885.70Z" fill="#ff6a1a"/>
<path d="M292.40,893.94L294.86,896.40L292.40,898.86L289.94,896.40Z" fill="#ff6a1a"/>
<line x1="302.95" y1="904.90" x2="314.15" y2="904.90" stroke="#000" stroke-width="1.1" />
<line x1="308.55" y1="895.50" x2="308.55" y2="904.90" stroke="#000" stroke-width="1.1" />
<line x1="305.75" y1="895.50" x2="311.35" y2="895.50" stroke="#000" stroke-width="1.1" />
<line x1="308.55" y1="904.90" x2="308.55" y2="911.00" stroke="#000" stroke-width="1.1" />
<line x1="305.75" y1="911.00" x2="311.35" y2="911.00" stroke="#000" stroke-width="1.1" />
<circle cx="308.50" cy="896.40" r="2.05" fill="#000000"/>
<circle cx="308.80" cy="902.60" r="2.05" fill="#000000"/>
<circle cx="311.30" cy="906.40" r="2.05" fill="#000000"/>
<circle cx="305.70" cy="912.50" r="2.05" fill="#000000"/>
<line x1="225.80" y1="837.20" x2="294.00" y2="837.20" stroke="#1a1a1a" stroke-width="1.15" />
<path d="M256.75,828.90L256.75,833.90M254.58,830.15L258.92,832.65M258.92,830.15L254.58,832.65" stroke="#1a1a1a" stroke-width="1.0" fill="none"/>
<path d="M263.65,828.90L263.65,833.90M261.48,830.15L265.82,832.65M265.82,830.15L261.48,832.65" stroke="#1a1a1a" stroke-width="1.0" fill="none"/>
<line x1="240.70" y1="847.20" x2="294.00" y2="847.20" stroke="#1a1a1a" stroke-width="1.15" />
<path d="M264.20,838.90L264.20,843.90M262.03,840.15L266.37,842.65M266.37,840.15L262.03,842.65" stroke="#1a1a1a" stroke-width="1.0" fill="none"/>
<path d="M271.10,838.90L271.10,843.90M268.93,840.15L273.27,842.65M273.27,840.15L268.93,842.65" stroke="#1a1a1a" stroke-width="1.0" fill="none"/>
<line x1="260.00" y1="858.30" x2="294.00" y2="858.30" stroke="#1a1a1a" stroke-width="1.15" />
<path d="M273.85,850.00L273.85,855.00M271.68,851.25L276.02,853.75M276.02,851.25L271.68,853.75" stroke="#1a1a1a" stroke-width="1.0" fill="none"/>
<path d="M280.75,850.00L280.75,855.00M278.58,851.25L282.92,853.75M282.92,851.25L278.58,853.75" stroke="#1a1a1a" stroke-width="1.0" fill="none"/>
<line x1="276.30" y1="868.30" x2="294.00" y2="868.30" stroke="#1a1a1a" stroke-width="1.15" />
<path d="M282.00,860.00L282.00,865.00M279.83,861.25L284.17,863.75M284.17,861.25L279.83,863.75" stroke="#1a1a1a" stroke-width="1.0" fill="none"/>
<path d="M288.90,860.00L288.90,865.00M286.73,861.25L291.07,863.75M291.07,861.25L286.73,863.75" stroke="#1a1a1a" stroke-width="1.0" fill="none"/>
<line x1="294.00" y1="871.60" x2="311.90" y2="871.60" stroke="#1a1a1a" stroke-width="1.15" />
<path d="M299.80,863.30L299.80,868.30M297.63,864.55L301.97,867.05M301.97,864.55L297.63,867.05" stroke="#1a1a1a" stroke-width="1.0" fill="none"/>
<path d="M306.70,863.30L306.70,868.30M304.53,864.55L308.87,867.05M308.87,864.55L304.53,867.05" stroke="#1a1a1a" stroke-width="1.0" fill="none"/>
<text x="188.80" y="886.20" font-size="10.6" text-anchor="middle" fill="#1a1a1a" transform="rotate(-90 188.80 886.20)" textLength="103.00" lengthAdjust="spacingAndGlyphs">Central memory T cells</text>
<text x="202.50" y="888.10" font-size="10.6" text-anchor="middle" fill="#1a1a1a" transform="rotate(-90 202.50 888.10)" textLength="72.00" lengthAdjust="spacingAndGlyphs">in lymphcyte (%)</text>
<text x="339.50" y="828.50" font-size="25.5" text-anchor="start" fill="#231815" >i</text>
<line x1="385.10" y1="831.70" x2="385.10" y2="937.90" stroke="#1a1a1a" stroke-width="1.3" />
<line x1="384.50" y1="937.30" x2="490.10" y2="937.30" stroke="#1a1a1a" stroke-width="1.3" />
<line x1="382.50" y1="937.30" x2="385.10" y2="937.30" stroke="#1a1a1a" stroke-width="1.1" />
<text x="381.50" y="940.20" font-size="8" text-anchor="end" fill="#1a1a1a" >0</text>
<line x1="382.50" y1="916.30" x2="385.10" y2="916.30" stroke="#1a1a1a" stroke-width="1.1" />
<text x="381.50" y="919.20" font-size="8" text-anchor="end" fill="#1a1a1a" >2</text>
<line x1="382.50" y1="895.30" x2="385.10" y2="895.30" stroke="#1a1a1a" stroke-width="1.1" />
<text x="381.50" y="898.20" font-size="8" text-anchor="end" fill="#1a1a1a" >4</text>
<line x1="382.50" y1="874.30" x2="385.10" y2="874.30" stroke="#1a1a1a" stroke-width="1.1" />
<text x="381.50" y="877.20" font-size="8" text-anchor="end" fill="#1a1a1a" >6</text>
<line x1="382.50" y1="853.30" x2="385.10" y2="853.30" stroke="#1a1a1a" stroke-width="1.1" />
<text x="381.50" y="856.20" font-size="8" text-anchor="end" fill="#1a1a1a" >8</text>
<line x1="382.50" y1="832.30" x2="385.10" y2="832.30" stroke="#1a1a1a" stroke-width="1.1" />
<text x="381.50" y="835.20" font-size="8" text-anchor="end" fill="#1a1a1a" >10</text>
<line x1="396.50" y1="937.30" x2="396.50" y2="940.10" stroke="#1a1a1a" stroke-width="1.1" />
<text x="396.50" y="949.50" font-size="8.9" text-anchor="middle" fill="#1a1a1a" textLength="10.80" lengthAdjust="spacingAndGlyphs" >G1</text>
<line x1="413.00" y1="937.30" x2="413.00" y2="940.10" stroke="#1a1a1a" stroke-width="1.1" />
<text x="413.00" y="949.50" font-size="8.9" text-anchor="middle" fill="#1a1a1a" textLength="10.80" lengthAdjust="spacingAndGlyphs" >G2</text>
<line x1="429.50" y1="937.30" x2="429.50" y2="940.10" stroke="#1a1a1a" stroke-width="1.1" />
<text x="429.50" y="949.50" font-size="8.9" text-anchor="middle" fill="#1a1a1a" textLength="10.80" lengthAdjust="spacingAndGlyphs" >G3</text>
<line x1="446.00" y1="937.30" x2="446.00" y2="940.10" stroke="#1a1a1a" stroke-width="1.1" />
<text x="446.00" y="949.50" font-size="8.9" text-anchor="middle" fill="#1a1a1a" textLength="10.80" lengthAdjust="spacingAndGlyphs" >G4</text>
<line x1="462.50" y1="937.30" x2="462.50" y2="940.10" stroke="#1a1a1a" stroke-width="1.1" />
<text x="462.50" y="949.50" font-size="8.9" text-anchor="middle" fill="#1a1a1a" textLength="10.80" lengthAdjust="spacingAndGlyphs" >G5</text>
<line x1="479.00" y1="937.30" x2="479.00" y2="940.10" stroke="#1a1a1a" stroke-width="1.1" />
<text x="479.00" y="949.50" font-size="8.9" text-anchor="middle" fill="#1a1a1a" textLength="10.80" lengthAdjust="spacingAndGlyphs" >G6</text>
<line x1="390.90" y1="897.50" x2="402.10" y2="897.50" stroke="#5aa0f5" stroke-width="1.1" />
<line x1="396.50" y1="894.50" x2="396.50" y2="897.50" stroke="#5aa0f5" stroke-width="1.1" />
<line x1="393.70" y1="894.50" x2="399.30" y2="894.50" stroke="#5aa0f5" stroke-width="1.1" />
<line x1="396.50" y1="897.50" x2="396.50" y2="900.50" stroke="#5aa0f5" stroke-width="1.1" />
<line x1="393.70" y1="900.50" x2="399.30" y2="900.50" stroke="#5aa0f5" stroke-width="1.1" />
<circle cx="396.50" cy="894.10" r="2.05" fill="#4f95ee" stroke="#3a78d0" stroke-width="0.6"/>
<circle cx="393.40" cy="897.20" r="2.05" fill="#4f95ee" stroke="#3a78d0" stroke-width="0.6"/>
<circle cx="399.60" cy="897.20" r="2.05" fill="#4f95ee" stroke="#3a78d0" stroke-width="0.6"/>
<circle cx="396.50" cy="901.80" r="2.05" fill="#4f95ee" stroke="#3a78d0" stroke-width="0.6"/>
<line x1="407.40" y1="899.00" x2="418.60" y2="899.00" stroke="#ff1a1a" stroke-width="1.1" />
<line x1="413.00" y1="896.50" x2="413.00" y2="899.00" stroke="#ff1a1a" stroke-width="1.1" />
<line x1="410.20" y1="896.50" x2="415.80" y2="896.50" stroke="#ff1a1a" stroke-width="1.1" />
<line x1="413.00" y1="899.00" x2="413.00" y2="901.50" stroke="#ff1a1a" stroke-width="1.1" />
<line x1="410.20" y1="901.50" x2="415.80" y2="901.50" stroke="#ff1a1a" stroke-width="1.1" />
<rect x="410.70" y="893.80" width="3.80" height="3.80" fill="#ff0000"/>
<rect x="407.60" y="897.10" width="3.80" height="3.80" fill="#ff0000"/>
<rect x="413.80" y="899.10" width="3.80" height="3.80" fill="#ff0000"/>
<rect x="411.50" y="900.70" width="3.80" height="3.80" fill="#ff0000"/>
<rect x="414.60" y="897.60" width="3.80" height="3.80" fill="#ff0000"/>
<line x1="423.90" y1="897.50" x2="435.10" y2="897.50" stroke="#1fbf7a" stroke-width="1.1" />
<line x1="429.50" y1="893.80" x2="429.50" y2="897.50" stroke="#1fbf7a" stroke-width="1.1" />
<line x1="426.70" y1="893.80" x2="432.30" y2="893.80" stroke="#1fbf7a" stroke-width="1.1" />
<line x1="429.50" y1="897.50" x2="429.50" y2="901.00" stroke="#1fbf7a" stroke-width="1.1" />
<line x1="426.70" y1="901.00" x2="432.30" y2="901.00" stroke="#1fbf7a" stroke-width="1.1" />
<path d="M429.50,890.35L431.86,894.34L427.14,894.34Z" fill="#1fbf7a"/>
<path d="M426.40,894.14L428.76,898.14L424.04,898.14Z" fill="#1fbf7a"/>
<path d="M432.50,894.95L434.86,898.94L430.14,898.94Z" fill="#1fbf7a"/>
<path d="M429.50,898.75L431.86,902.74L427.14,902.74Z" fill="#1fbf7a"/>
<line x1="440.40" y1="897.50" x2="451.60" y2="897.50" stroke="#b060e0" stroke-width="1.1" />
<line x1="446.00" y1="894.50" x2="446.00" y2="897.50" stroke="#b060e0" stroke-width="1.1" />
<line x1="443.20" y1="894.50" x2="448.80" y2="894.50" stroke="#b060e0" stroke-width="1.1" />
<line x1="446.00" y1="897.50" x2="446.00" y2="900.50" stroke="#b060e0" stroke-width="1.1" />
<line x1="443.20" y1="900.50" x2="448.80" y2="900.50" stroke="#b060e0" stroke-width="1.1" />
<path d="M442.50,896.36L444.86,892.36L440.14,892.36Z" fill="#b45ee0"/>
<path d="M448.60,896.36L450.96,892.36L446.24,892.36Z" fill="#b45ee0"/>
<path d="M442.50,904.05L444.86,900.06L440.14,900.06Z" fill="#b45ee0"/>
<path d="M446.30,901.75L448.66,897.76L443.94,897.76Z" fill="#b45ee0"/>
<line x1="456.90" y1="884.20" x2="468.10" y2="884.20" stroke="#ff6a1a" stroke-width="1.1" />
<line x1="462.50" y1="878.00" x2="462.50" y2="884.20" stroke="#ff6a1a" stroke-width="1.1" />
<line x1="459.70" y1="878.00" x2="465.30" y2="878.00" stroke="#ff6a1a" stroke-width="1.1" />
<line x1="462.50" y1="884.20" x2="462.50" y2="889.50" stroke="#ff6a1a" stroke-width="1.1" />
<line x1="459.70" y1="889.50" x2="465.30" y2="889.50" stroke="#ff6a1a" stroke-width="1.1" />
<path d="M461.60,872.54L464.06,875.00L461.60,877.46L459.14,875.00Z" fill="#ff6a1a"/>
<path d="M459.30,881.74L461.76,884.20L459.30,886.66L456.84,884.20Z" fill="#ff6a1a"/>
<path d="M464.70,885.54L467.16,888.00L464.70,890.46L462.24,888.00Z" fill="#ff6a1a"/>
<path d="M462.40,887.04L464.86,889.50L462.40,891.96L459.94,889.50Z" fill="#ff6a1a"/>
<line x1="473.40" y1="901.00" x2="484.60" y2="901.00" stroke="#000" stroke-width="1.1" />
<line x1="479.00" y1="896.20" x2="479.00" y2="901.00" stroke="#000" stroke-width="1.1" />
<line x1="476.20" y1="896.20" x2="481.80" y2="896.20" stroke="#000" stroke-width="1.1" />
<line x1="479.00" y1="901.00" x2="479.00" y2="904.50" stroke="#000" stroke-width="1.1" />
<line x1="476.20" y1="904.50" x2="481.80" y2="904.50" stroke="#000" stroke-width="1.1" />
<circle cx="478.20" cy="893.40" r="2.05" fill="#000000"/>
<circle cx="477.00" cy="898.00" r="2.05" fill="#000000"/>
<circle cx="480.80" cy="904.50" r="2.05" fill="#000000"/>
<circle cx="477.00" cy="905.60" r="2.05" fill="#000000"/>
<line x1="397.00" y1="836.50" x2="462.80" y2="836.50" stroke="#1a1a1a" stroke-width="1.15" />
<path d="M426.75,828.20L426.75,833.20M424.58,829.45L428.92,831.95M428.92,829.45L424.58,831.95" stroke="#1a1a1a" stroke-width="1.0" fill="none"/>
<path d="M433.65,828.20L433.65,833.20M431.48,829.45L435.82,831.95M435.82,829.45L431.48,831.95" stroke="#1a1a1a" stroke-width="1.0" fill="none"/>
<line x1="410.70" y1="846.40" x2="462.80" y2="846.40" stroke="#1a1a1a" stroke-width="1.15" />
<path d="M430.15,838.10L430.15,843.10M427.98,839.35L432.32,841.85M432.32,839.35L427.98,841.85" stroke="#1a1a1a" stroke-width="1.0" fill="none"/>
<path d="M437.05,838.10L437.05,843.10M434.88,839.35L439.22,841.85M439.22,839.35L434.88,841.85" stroke="#1a1a1a" stroke-width="1.0" fill="none"/>
<path d="M443.95,838.10L443.95,843.10M441.78,839.35L446.12,841.85M446.12,839.35L441.78,841.85" stroke="#1a1a1a" stroke-width="1.0" fill="none"/>
<line x1="430.00" y1="856.30" x2="462.80" y2="856.30" stroke="#1a1a1a" stroke-width="1.15" />
<path d="M443.25,848.00L443.25,853.00M441.08,849.25L445.42,851.75M445.42,849.25L441.08,851.75" stroke="#1a1a1a" stroke-width="1.0" fill="none"/>
<path d="M450.15,848.00L450.15,853.00M447.98,849.25L452.32,851.75M452.32,849.25L447.98,851.75" stroke="#1a1a1a" stroke-width="1.0" fill="none"/>
<line x1="446.20" y1="867.00" x2="462.80" y2="867.00" stroke="#1a1a1a" stroke-width="1.15" />
<path d="M451.35,858.70L451.35,863.70M449.18,859.95L453.52,862.45M453.52,859.95L449.18,862.45" stroke="#1a1a1a" stroke-width="1.0" fill="none"/>
<path d="M458.25,858.70L458.25,863.70M456.08,859.95L460.42,862.45M460.42,859.95L456.08,862.45" stroke="#1a1a1a" stroke-width="1.0" fill="none"/>
<line x1="464.40" y1="871.90" x2="482.30" y2="871.90" stroke="#1a1a1a" stroke-width="1.15" />
<path d="M466.75,863.60L466.75,868.60M464.58,864.85L468.92,867.35M468.92,864.85L464.58,867.35" stroke="#1a1a1a" stroke-width="1.0" fill="none"/>
<path d="M473.65,863.60L473.65,868.60M471.48,864.85L475.82,867.35M475.82,864.85L471.48,867.35" stroke="#1a1a1a" stroke-width="1.0" fill="none"/>
<path d="M480.55,863.60L480.55,868.60M478.38,864.85L482.72,867.35M482.72,864.85L478.38,867.35" stroke="#1a1a1a" stroke-width="1.0" fill="none"/>
<text x="354.00" y="885.00" font-size="10.6" text-anchor="middle" fill="#1a1a1a" transform="rotate(-90 354.00 885.00)" textLength="100.60" lengthAdjust="spacingAndGlyphs">Effector memory CD8<tspan font-size="6" dy="-4">+</tspan><tspan dy="4"></tspan></text>
<text x="367.50" y="888.20" font-size="10.6" text-anchor="middle" fill="#1a1a1a" transform="rotate(-90 367.50 888.20)" textLength="94.30" lengthAdjust="spacingAndGlyphs">T cells in lymphcyte (%)</text>
<text x="500.50" y="828.50" font-size="25.5" text-anchor="start" fill="#231815" >j</text>
<line x1="550.80" y1="832.30" x2="550.80" y2="938.90" stroke="#1a1a1a" stroke-width="1.3" />
<line x1="550.20" y1="938.30" x2="656.60" y2="938.30" stroke="#1a1a1a" stroke-width="1.3" />
<line x1="548.20" y1="938.30" x2="550.80" y2="938.30" stroke="#1a1a1a" stroke-width="1.1" />
<text x="547.20" y="941.20" font-size="8" text-anchor="end" fill="#1a1a1a" >0</text>
<line x1="548.20" y1="903.17" x2="550.80" y2="903.17" stroke="#1a1a1a" stroke-width="1.1" />
<text x="547.20" y="906.07" font-size="8" text-anchor="end" fill="#1a1a1a" >2</text>
<line x1="548.20" y1="868.03" x2="550.80" y2="868.03" stroke="#1a1a1a" stroke-width="1.1" />
<text x="547.20" y="870.93" font-size="8" text-anchor="end" fill="#1a1a1a" >4</text>
<line x1="548.20" y1="832.90" x2="550.80" y2="832.90" stroke="#1a1a1a" stroke-width="1.1" />
<text x="547.20" y="835.80" font-size="8" text-anchor="end" fill="#1a1a1a" >6</text>
<line x1="562.80" y1="938.30" x2="562.80" y2="941.10" stroke="#1a1a1a" stroke-width="1.1" />
<text x="562.80" y="949.50" font-size="8.9" text-anchor="middle" fill="#1a1a1a" textLength="10.80" lengthAdjust="spacingAndGlyphs" >G1</text>
<line x1="579.05" y1="938.30" x2="579.05" y2="941.10" stroke="#1a1a1a" stroke-width="1.1" />
<text x="579.05" y="949.50" font-size="8.9" text-anchor="middle" fill="#1a1a1a" textLength="10.80" lengthAdjust="spacingAndGlyphs" >G2</text>
<line x1="595.30" y1="938.30" x2="595.30" y2="941.10" stroke="#1a1a1a" stroke-width="1.1" />
<text x="595.30" y="949.50" font-size="8.9" text-anchor="middle" fill="#1a1a1a" textLength="10.80" lengthAdjust="spacingAndGlyphs" >G3</text>
<line x1="611.55" y1="938.30" x2="611.55" y2="941.10" stroke="#1a1a1a" stroke-width="1.1" />
<text x="611.55" y="949.50" font-size="8.9" text-anchor="middle" fill="#1a1a1a" textLength="10.80" lengthAdjust="spacingAndGlyphs" >G4</text>
<line x1="627.80" y1="938.30" x2="627.80" y2="941.10" stroke="#1a1a1a" stroke-width="1.1" />
<text x="627.80" y="949.50" font-size="8.9" text-anchor="middle" fill="#1a1a1a" textLength="10.80" lengthAdjust="spacingAndGlyphs" >G5</text>
<line x1="644.05" y1="938.30" x2="644.05" y2="941.10" stroke="#1a1a1a" stroke-width="1.1" />
<text x="644.05" y="949.50" font-size="8.9" text-anchor="middle" fill="#1a1a1a" textLength="10.80" lengthAdjust="spacingAndGlyphs" >G6</text>
<line x1="557.20" y1="906.50" x2="568.40" y2="906.50" stroke="#5aa0f5" stroke-width="1.1" />
<line x1="562.80" y1="906.50" x2="562.80" y2="909.10" stroke="#5aa0f5" stroke-width="1.1" />
<line x1="560.00" y1="909.10" x2="565.60" y2="909.10" stroke="#5aa0f5" stroke-width="1.1" />
<circle cx="560.00" cy="903.70" r="2.05" fill="#4f95ee" stroke="#3a78d0" stroke-width="0.6"/>
<circle cx="563.80" cy="903.00" r="2.05" fill="#4f95ee" stroke="#3a78d0" stroke-width="0.6"/>
<circle cx="566.10" cy="903.40" r="2.05" fill="#4f95ee" stroke="#3a78d0" stroke-width="0.6"/>
<circle cx="562.30" cy="911.40" r="2.05" fill="#4f95ee" stroke="#3a78d0" stroke-width="0.6"/>
<line x1="573.45" y1="910.60" x2="584.65" y2="910.60" stroke="#ff1a1a" stroke-width="1.1" />
<line x1="579.05" y1="907.60" x2="579.05" y2="910.60" stroke="#ff1a1a" stroke-width="1.1" />
<line x1="576.25" y1="907.60" x2="581.85" y2="907.60" stroke="#ff1a1a" stroke-width="1.1" />
<line x1="579.05" y1="910.60" x2="579.05" y2="914.50" stroke="#ff1a1a" stroke-width="1.1" />
<line x1="576.25" y1="914.50" x2="581.85" y2="914.50" stroke="#ff1a1a" stroke-width="1.1" />
<rect x="574.20" y="905.70" width="3.80" height="3.80" fill="#ff0000"/>
<rect x="579.50" y="906.40" width="3.80" height="3.80" fill="#ff0000"/>
<rect x="582.60" y="907.20" width="3.80" height="3.80" fill="#ff0000"/>
<rect x="576.50" y="909.50" width="3.80" height="3.80" fill="#ff0000"/>
<rect x="574.20" y="914.10" width="3.80" height="3.80" fill="#ff0000"/>
<line x1="589.70" y1="904.50" x2="600.90" y2="904.50" stroke="#1fbf7a" stroke-width="1.1" />
<line x1="595.30" y1="903.00" x2="595.30" y2="904.50" stroke="#1fbf7a" stroke-width="1.1" />
<line x1="592.50" y1="903.00" x2="598.10" y2="903.00" stroke="#1fbf7a" stroke-width="1.1" />
<line x1="595.30" y1="904.50" x2="595.30" y2="906.00" stroke="#1fbf7a" stroke-width="1.1" />
<line x1="592.50" y1="906.00" x2="598.10" y2="906.00" stroke="#1fbf7a" stroke-width="1.1" />
<path d="M591.40,900.75L593.76,904.74L589.04,904.74Z" fill="#1fbf7a"/>
<path d="M598.30,899.64L600.66,903.64L595.94,903.64Z" fill="#1fbf7a"/>
<path d="M594.50,902.25L596.86,906.24L592.14,906.24Z" fill="#1fbf7a"/>
<path d="M596.00,904.54L598.36,908.54L593.64,908.54Z" fill="#1fbf7a"/>
<line x1="605.95" y1="908.30" x2="617.15" y2="908.30" stroke="#b060e0" stroke-width="1.1" />
<line x1="611.55" y1="901.50" x2="611.55" y2="908.30" stroke="#b060e0" stroke-width="1.1" />
<line x1="608.75" y1="901.50" x2="614.35" y2="901.50" stroke="#b060e0" stroke-width="1.1" />
<line x1="611.55" y1="908.30" x2="611.55" y2="914.50" stroke="#b060e0" stroke-width="1.1" />
<line x1="608.75" y1="914.50" x2="614.35" y2="914.50" stroke="#b060e0" stroke-width="1.1" />
<path d="M611.30,901.36L613.66,897.36L608.94,897.36Z" fill="#b45ee0"/>
<path d="M611.30,908.25L613.66,904.26L608.94,904.26Z" fill="#b45ee0"/>
<path d="M614.40,912.15L616.76,908.16L612.04,908.16Z" fill="#b45ee0"/>
<path d="M608.20,916.75L610.56,912.76L605.84,912.76Z" fill="#b45ee0"/>
<line x1="622.20" y1="887.60" x2="633.40" y2="887.60" stroke="#ff6a1a" stroke-width="1.1" />
<line x1="627.80" y1="879.20" x2="627.80" y2="887.60" stroke="#ff6a1a" stroke-width="1.1" />
<line x1="625.00" y1="879.20" x2="630.60" y2="879.20" stroke="#ff6a1a" stroke-width="1.1" />
<line x1="627.80" y1="887.60" x2="627.80" y2="896.10" stroke="#ff6a1a" stroke-width="1.1" />
<line x1="625.00" y1="896.10" x2="630.60" y2="896.10" stroke="#ff6a1a" stroke-width="1.1" />
<path d="M624.30,875.94L626.76,878.40L624.30,880.86L621.84,878.40Z" fill="#ff6a1a"/>
<path d="M630.50,878.24L632.96,880.70L630.50,883.16L628.04,880.70Z" fill="#ff6a1a"/>
<path d="M623.60,893.64L626.06,896.10L623.60,898.56L621.14,896.10Z" fill="#ff6a1a"/>
<path d="M629.70,893.64L632.16,896.10L629.70,898.56L627.24,896.10Z" fill="#ff6a1a"/>
<line x1="638.45" y1="909.10" x2="649.65" y2="909.10" stroke="#000" stroke-width="1.1" />
<line x1="644.05" y1="903.70" x2="644.05" y2="909.10" stroke="#000" stroke-width="1.1" />
<line x1="641.25" y1="903.70" x2="646.85" y2="903.70" stroke="#000" stroke-width="1.1" />
<line x1="644.05" y1="909.10" x2="644.05" y2="914.50" stroke="#000" stroke-width="1.1" />
<line x1="641.25" y1="914.50" x2="646.85" y2="914.50" stroke="#000" stroke-width="1.1" />
<circle cx="641.20" cy="902.20" r="2.05" fill="#000000"/>
<circle cx="649.60" cy="907.60" r="2.05" fill="#000000"/>
<circle cx="646.60" cy="911.10" r="2.05" fill="#000000"/>
<circle cx="641.20" cy="914.50" r="2.05" fill="#000000"/>
<line x1="562.70" y1="835.90" x2="628.80" y2="835.90" stroke="#1a1a1a" stroke-width="1.15" />
<path d="M592.60,827.60L592.60,832.60M590.43,828.85L594.77,831.35M594.77,828.85L590.43,831.35" stroke="#1a1a1a" stroke-width="1.0" fill="none"/>
<path d="M599.50,827.60L599.50,832.60M597.33,828.85L601.67,831.35M601.67,828.85L597.33,831.35" stroke="#1a1a1a" stroke-width="1.0" fill="none"/>
<line x1="577.00" y1="846.40" x2="628.80" y2="846.40" stroke="#1a1a1a" stroke-width="1.15" />
<path d="M596.30,838.10L596.30,843.10M594.13,839.35L598.47,841.85M598.47,839.35L594.13,841.85" stroke="#1a1a1a" stroke-width="1.0" fill="none"/>
<path d="M603.20,838.10L603.20,843.10M601.03,839.35L605.37,841.85M605.37,839.35L601.03,841.85" stroke="#1a1a1a" stroke-width="1.0" fill="none"/>
<path d="M610.10,838.10L610.10,843.10M607.93,839.35L612.27,841.85M612.27,839.35L607.93,841.85" stroke="#1a1a1a" stroke-width="1.0" fill="none"/>
<line x1="595.90" y1="856.20" x2="628.80" y2="856.20" stroke="#1a1a1a" stroke-width="1.15" />
<path d="M609.20,847.90L609.20,852.90M607.03,849.15L611.37,851.65M611.37,849.15L607.03,851.65" stroke="#1a1a1a" stroke-width="1.0" fill="none"/>
<path d="M616.10,847.90L616.10,852.90M613.93,849.15L618.27,851.65M618.27,849.15L613.93,851.65" stroke="#1a1a1a" stroke-width="1.0" fill="none"/>
<line x1="611.30" y1="865.60" x2="628.80" y2="865.60" stroke="#1a1a1a" stroke-width="1.15" />
<path d="M613.45,857.30L613.45,862.30M611.28,858.55L615.62,861.05M615.62,858.55L611.28,861.05" stroke="#1a1a1a" stroke-width="1.0" fill="none"/>
<path d="M620.35,857.30L620.35,862.30M618.18,858.55L622.52,861.05M622.52,858.55L618.18,861.05" stroke="#1a1a1a" stroke-width="1.0" fill="none"/>
<path d="M627.25,857.30L627.25,862.30M625.08,858.55L629.42,861.05M629.42,858.55L625.08,861.05" stroke="#1a1a1a" stroke-width="1.0" fill="none"/>
<line x1="631.20" y1="874.30" x2="648.10" y2="874.30" stroke="#1a1a1a" stroke-width="1.15" />
<path d="M633.05,866.00L633.05,871.00M630.88,867.25L635.22,869.75M635.22,867.25L630.88,869.75" stroke="#1a1a1a" stroke-width="1.0" fill="none"/>
<path d="M639.95,866.00L639.95,871.00M637.78,867.25L642.12,869.75M642.12,867.25L637.78,869.75" stroke="#1a1a1a" stroke-width="1.0" fill="none"/>
<path d="M646.85,866.00L646.85,871.00M644.68,867.25L649.02,869.75M649.02,867.25L644.68,869.75" stroke="#1a1a1a" stroke-width="1.0" fill="none"/>
<text x="527.00" y="885.00" font-size="10.6" text-anchor="middle" fill="#1a1a1a" transform="rotate(-90 527.00 885.00)" textLength="83.70" lengthAdjust="spacingAndGlyphs">Naive CD8<tspan font-size="6" dy="-4">+</tspan><tspan dy="4"> T cells</tspan></text>
<text x="538.30" y="885.00" font-size="10.6" text-anchor="middle" fill="#1a1a1a" transform="rotate(-90 538.30 885.00)" textLength="72.90" lengthAdjust="spacingAndGlyphs">in lymphcyte (%)</text>
</svg></body></html>
